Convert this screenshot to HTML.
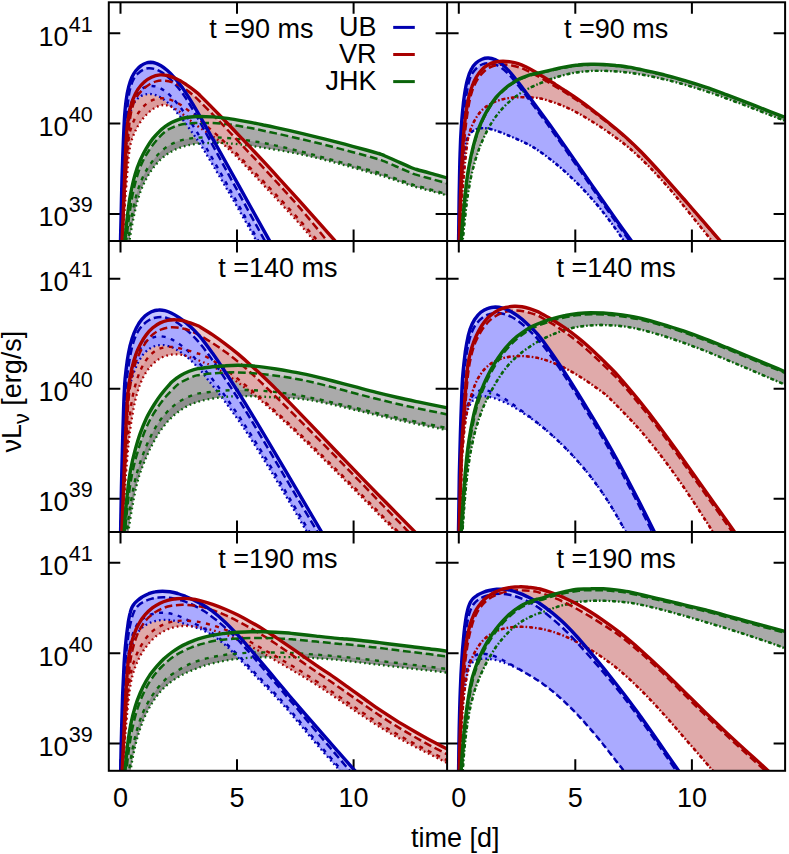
<!DOCTYPE html>
<html><head><meta charset="utf-8"><title>chart</title><style>html,body{margin:0;padding:0;background:#fff}svg{display:block}.tx,.tx text,.tx tspan{font-family:"Liberation Sans",sans-serif}</style></head>
<body>
<svg width="789" height="854" viewBox="0 0 789 854">
<rect width="789" height="854" fill="#fff"/>
<path d="M120.5 2.3v11.5M120.5 241.1v-11.5M237.0 2.3v11.5M237.0 241.1v-11.5M353.6 2.3v11.5M353.6 241.1v-11.5M108.8 213.9h11.5M447.1 213.9h-11.5M108.8 123.6h11.5M447.1 123.6h-11.5M108.8 33.2h11.5M447.1 33.2h-11.5M120.5 241.1v11.5M120.5 531.9v-11.5M237.0 241.1v11.5M237.0 531.9v-11.5M353.6 241.1v11.5M353.6 531.9v-11.5M108.8 498.8h11.5M447.1 498.8h-11.5M108.8 388.8h11.5M447.1 388.8h-11.5M108.8 278.8h11.5M447.1 278.8h-11.5M120.5 531.9v11.5M120.5 770.8v-11.5M237.0 531.9v11.5M237.0 770.8v-11.5M353.6 531.9v11.5M353.6 770.8v-11.5M108.8 743.6h11.5M447.1 743.6h-11.5M108.8 653.2h11.5M447.1 653.2h-11.5M108.8 562.8h11.5M447.1 562.8h-11.5M458.8 2.3v11.5M458.8 241.1v-11.5M575.3 2.3v11.5M575.3 241.1v-11.5M691.9 2.3v11.5M691.9 241.1v-11.5M447.1 213.9h11.5M785.1 213.9h-11.5M447.1 123.6h11.5M785.1 123.6h-11.5M447.1 33.2h11.5M785.1 33.2h-11.5M458.8 241.1v11.5M458.8 531.9v-11.5M575.3 241.1v11.5M575.3 531.9v-11.5M691.9 241.1v11.5M691.9 531.9v-11.5M447.1 498.8h11.5M785.1 498.8h-11.5M447.1 388.8h11.5M785.1 388.8h-11.5M447.1 278.8h11.5M785.1 278.8h-11.5M458.8 531.9v11.5M458.8 770.8v-11.5M575.3 531.9v11.5M575.3 770.8v-11.5M691.9 531.9v11.5M691.9 770.8v-11.5M447.1 743.6h11.5M785.1 743.6h-11.5M447.1 653.2h11.5M785.1 653.2h-11.5M447.1 562.8h11.5M785.1 562.8h-11.5" stroke="#000" stroke-width="2" fill="none"/>
<defs>
<clipPath id="cp00"><rect x="108.8" y="2.3" width="338.3" height="238.8"/></clipPath>
<clipPath id="cp01"><rect x="447.1" y="2.3" width="338.0" height="238.8"/></clipPath>
<clipPath id="cp10"><rect x="108.8" y="241.1" width="338.3" height="290.8"/></clipPath>
<clipPath id="cp11"><rect x="447.1" y="241.1" width="338.0" height="290.8"/></clipPath>
<clipPath id="cp20"><rect x="108.8" y="531.9" width="338.3" height="238.9"/></clipPath>
<clipPath id="cp21"><rect x="447.1" y="531.9" width="338.0" height="238.9"/></clipPath>
</defs>
<g clip-path="url(#cp00)" fill="none" stroke-linecap="butt" stroke-linejoin="round">
<path d="M124.7 245.2C124.8 243.5 124.8 242.4 125.0 240.1C125.4 235.1 126.4 224.0 127.4 216.1C128.3 208.4 129.3 200.5 130.7 193.3C132.0 186.7 133.4 180.2 135.1 174.4C136.6 169.3 138.2 164.9 140.1 160.5C142.0 156.3 144.1 152.1 146.3 148.4C148.3 145.0 150.4 141.8 152.6 138.9C154.6 136.4 156.7 134.0 158.9 131.9C160.9 129.9 163.1 128.0 165.3 126.4C167.3 124.9 169.3 123.7 171.5 122.5C173.9 121.3 176.5 120.2 179.1 119.3C181.5 118.5 183.9 117.9 186.6 117.5C189.7 116.9 193.0 116.7 196.7 116.5C201.4 116.4 207.6 116.6 212.6 116.9C217.1 117.2 221.1 117.6 225.3 118.1C229.6 118.7 233.8 119.4 238.0 120.1C242.2 120.8 246.5 121.6 250.7 122.4C254.9 123.2 259.2 124.1 263.4 125.0C267.6 125.8 271.1 126.5 276.0 127.6C283.1 129.1 293.4 131.4 301.5 133.3C309.0 135.1 315.9 136.8 323.1 138.6C330.3 140.4 337.5 142.3 344.7 144.2C351.8 146.1 360.1 148.3 366.2 150.0C370.7 151.2 375.3 152.5 378.0 153.3C379.4 153.7 380.2 153.9 381.2 154.3C382.3 154.7 383.1 155.1 384.5 155.7C387.2 156.9 392.3 159.2 396.4 161.0C400.9 163.0 407.3 165.9 410.4 167.2C411.8 167.8 412.5 168.1 413.6 168.5C414.7 168.9 415.4 169.1 416.8 169.5C419.8 170.4 426.0 172.1 430.8 173.4C436.0 174.9 441.6 176.4 447.0 177.9L447.0 195.4C441.6 193.9 436.0 192.4 430.8 191.0C426.0 189.7 419.8 188.1 416.8 187.3C415.4 186.9 414.7 186.8 413.6 186.4C412.5 186.1 411.8 185.9 410.4 185.4C407.3 184.4 400.8 182.1 396.3 180.6C392.2 179.2 387.2 177.5 384.5 176.6C383.1 176.1 382.3 175.9 381.3 175.6C380.2 175.3 379.4 175.1 378.0 174.7C375.3 173.9 370.7 172.7 366.2 171.4C360.1 169.7 351.9 167.3 344.7 165.3C337.5 163.3 330.3 161.3 323.1 159.5C315.8 157.7 308.9 156.0 301.4 154.4C293.3 152.8 283.1 151.0 276.1 149.8C271.1 148.9 267.6 148.3 263.4 147.7C259.2 147.0 254.9 146.4 250.7 145.8C246.4 145.2 242.2 144.6 238.0 144.2C233.8 143.7 229.6 143.4 225.3 143.1C221.1 142.9 217.1 142.8 212.7 142.9C207.6 143.0 201.7 143.2 196.8 143.8C192.3 144.4 188.3 145.1 184.2 146.3C180.0 147.6 175.5 149.3 171.7 151.4C168.1 153.4 165.0 155.6 161.8 158.4C158.3 161.6 154.8 165.6 151.9 169.7C148.9 173.9 146.3 178.5 144.0 183.3C141.7 188.1 139.9 193.1 138.3 198.4C136.5 204.0 135.2 209.8 133.9 216.1C132.3 223.5 130.3 235.1 129.6 240.1C129.3 242.4 129.2 243.5 129.0 245.2Z" fill="#c8c8c8" stroke="none"/>
<path d="M126.0 245.2C126.1 243.5 126.2 242.4 126.4 240.1C126.9 235.1 128.1 223.8 129.2 216.1C130.2 208.7 131.3 201.4 132.6 194.6C133.9 188.4 135.2 182.4 136.9 176.9C138.4 171.9 140.0 167.4 142.0 163.0C144.0 158.7 146.1 154.8 148.8 150.7C151.6 146.3 155.7 141.1 158.8 137.6C161.1 135.1 163.1 133.2 165.3 131.5C167.3 129.9 169.3 128.8 171.6 127.8C173.9 126.7 176.5 125.8 179.0 125.1C181.5 124.4 183.9 124.0 186.6 123.7C189.7 123.3 193.0 123.2 196.7 123.0C201.4 122.9 207.7 122.9 212.7 123.1C217.1 123.3 221.1 123.6 225.3 124.0C229.5 124.5 233.8 125.1 238.0 125.8C242.2 126.5 246.5 127.3 250.7 128.1C254.9 128.9 259.2 129.8 263.4 130.7C267.6 131.6 271.1 132.3 276.0 133.4C283.0 134.9 293.4 137.3 301.5 139.2C309.0 140.9 315.9 142.6 323.1 144.4C330.3 146.2 337.4 148.1 344.6 150.0C351.8 151.9 360.1 154.1 366.2 155.7C370.7 157.0 375.3 158.3 378.0 159.1C379.4 159.5 380.2 159.8 381.2 160.1C382.3 160.5 383.1 160.8 384.5 161.4C387.2 162.6 392.2 164.7 396.3 166.5C400.8 168.5 407.3 171.3 410.4 172.6C411.8 173.2 412.5 173.5 413.6 173.9C414.7 174.3 415.4 174.5 416.8 174.9C419.8 175.8 426.0 177.5 430.8 178.8C436.0 180.3 441.6 181.8 447.0 183.3L447.0 195.4C441.6 193.9 436.0 192.4 430.8 191.0C426.0 189.7 419.8 188.1 416.8 187.3C415.4 186.9 414.7 186.8 413.6 186.4C412.5 186.1 411.8 185.9 410.4 185.4C407.3 184.4 400.8 182.1 396.3 180.6C392.2 179.2 387.2 177.5 384.5 176.6C383.1 176.1 382.3 175.9 381.3 175.6C380.2 175.3 379.4 175.1 378.0 174.7C375.3 173.9 370.7 172.7 366.2 171.4C360.1 169.7 351.9 167.3 344.7 165.3C337.5 163.3 330.3 161.3 323.1 159.5C315.8 157.7 308.9 156.0 301.4 154.4C293.3 152.8 283.1 151.0 276.1 149.8C271.1 148.9 267.6 148.3 263.4 147.7C259.2 147.0 254.9 146.4 250.7 145.8C246.4 145.2 242.2 144.6 238.0 144.2C233.8 143.7 229.6 143.4 225.3 143.1C221.1 142.9 217.1 142.8 212.7 142.9C207.6 143.0 201.7 143.2 196.8 143.8C192.3 144.4 188.3 145.1 184.2 146.3C180.0 147.6 175.5 149.3 171.7 151.4C168.1 153.4 165.0 155.6 161.8 158.4C158.3 161.6 154.8 165.6 151.9 169.7C148.9 173.9 146.3 178.5 144.0 183.3C141.7 188.1 139.9 193.1 138.3 198.4C136.5 204.0 135.2 209.8 133.9 216.1C132.3 223.5 130.3 235.1 129.6 240.1C129.3 242.4 129.2 243.5 129.0 245.2Z" fill="#aaaaaa" stroke="none"/>
<path d="M127.9 245.2C128.0 243.5 128.1 242.4 128.3 240.1C128.9 235.1 130.5 223.6 131.8 216.1C133.0 209.4 134.1 203.3 135.8 197.1C137.5 191.1 139.4 185.0 141.8 179.6C143.9 174.6 146.3 170.1 149.2 165.8C152.1 161.3 155.8 156.7 159.2 153.2C162.1 150.4 164.9 148.1 167.9 146.2C170.7 144.4 173.5 143.0 176.6 141.8C179.8 140.6 183.2 139.7 186.6 139.0C190.0 138.4 193.0 138.1 196.7 137.8C201.4 137.4 207.7 137.4 212.7 137.4C217.1 137.4 221.1 137.6 225.3 137.9C229.6 138.2 233.8 138.6 238.0 139.1C242.2 139.6 246.5 140.2 250.7 140.9C254.9 141.5 259.2 142.2 263.4 143.0C267.6 143.8 271.1 144.5 276.0 145.6C283.0 147.1 293.3 149.6 301.5 151.7C309.0 153.5 315.9 155.4 323.1 157.4C330.3 159.3 337.5 161.3 344.6 163.3C351.8 165.3 360.1 167.6 366.2 169.2C370.7 170.5 375.3 171.7 378.0 172.5C379.4 172.9 380.2 173.1 381.2 173.5C382.3 173.8 383.1 174.1 384.5 174.6C387.2 175.5 392.2 177.3 396.4 178.8C400.8 180.3 407.3 182.6 410.4 183.7C411.8 184.2 412.5 184.4 413.6 184.8C414.7 185.1 415.4 185.3 416.8 185.7C419.9 186.6 426.0 188.2 430.8 189.6C436.0 191.0 441.6 192.6 447.0 194.1L447.0 195.4C441.6 193.9 436.0 192.4 430.8 191.0C426.0 189.7 419.8 188.1 416.8 187.3C415.4 186.9 414.7 186.8 413.6 186.4C412.5 186.1 411.8 185.9 410.4 185.4C407.3 184.4 400.8 182.1 396.3 180.6C392.2 179.2 387.2 177.5 384.5 176.6C383.1 176.1 382.3 175.9 381.3 175.6C380.2 175.3 379.4 175.1 378.0 174.7C375.3 173.9 370.7 172.7 366.2 171.4C360.1 169.7 351.9 167.3 344.7 165.3C337.5 163.3 330.3 161.3 323.1 159.5C315.8 157.7 308.9 156.0 301.4 154.4C293.3 152.8 283.1 151.0 276.1 149.8C271.1 148.9 267.6 148.3 263.4 147.7C259.2 147.0 254.9 146.4 250.7 145.8C246.4 145.2 242.2 144.6 238.0 144.2C233.8 143.7 229.6 143.4 225.3 143.1C221.1 142.9 217.1 142.8 212.7 142.9C207.6 143.0 201.7 143.2 196.8 143.8C192.3 144.4 188.3 145.1 184.2 146.3C180.0 147.6 175.5 149.3 171.7 151.4C168.1 153.4 165.0 155.6 161.8 158.4C158.3 161.6 154.8 165.6 151.9 169.7C148.9 173.9 146.3 178.5 144.0 183.3C141.7 188.1 139.9 193.1 138.3 198.4C136.5 204.0 135.2 209.8 133.9 216.1C132.3 223.5 130.3 235.1 129.6 240.1C129.3 242.4 129.2 243.5 129.0 245.2Z" fill="#8e8e8e" stroke="none"/>
<path d="M121.9 245.2C122.3 235.5 122.7 226.4 123.1 216.1C123.6 204.2 124.1 190.8 124.6 178.0C125.1 165.0 125.6 148.8 126.3 138.7C126.7 132.5 126.9 128.5 127.6 123.5C128.2 118.8 128.9 113.9 129.9 109.6C130.8 105.8 131.8 102.3 133.1 98.9C134.4 95.6 135.9 92.4 137.7 89.6C139.5 86.9 141.6 84.3 144.0 82.2C146.2 80.1 148.8 78.4 151.5 77.2C154.1 76.0 157.2 75.2 160.0 74.9C162.5 74.7 164.8 75.0 167.4 75.5C170.2 76.1 173.3 77.4 176.3 78.8C179.6 80.3 183.0 82.5 186.3 84.6C189.7 86.9 193.9 90.0 196.4 92.1C198.1 93.4 198.5 93.9 200.2 95.6C204.4 99.7 214.3 109.7 221.3 117.0C228.6 124.4 235.9 132.2 243.0 139.7C249.9 146.9 256.2 153.6 263.3 161.2C271.1 169.6 280.9 180.5 287.6 187.8C292.4 193.0 294.7 195.5 299.7 201.1C308.2 210.6 326.2 231.0 334.0 239.7C338.0 244.2 340.0 246.6 343.0 250.0L321.0 250.0C318.4 246.6 316.3 243.6 313.2 239.9C309.3 235.1 305.0 230.0 299.3 223.6C290.7 213.9 275.1 197.4 266.1 187.8C260.0 181.2 255.5 176.5 250.6 171.3C246.3 166.7 242.6 162.6 238.3 158.3C233.9 153.9 229.2 149.3 224.6 145.4C220.4 141.8 216.2 138.7 212.0 135.7C208.1 132.8 203.7 130.4 200.1 127.9C197.0 125.7 194.5 123.7 191.7 121.6C189.0 119.4 186.2 117.0 183.7 115.0C181.6 113.3 179.8 111.6 177.6 110.3C175.6 108.9 173.3 107.7 171.1 106.8C169.1 106.0 166.8 105.2 165.0 105.0C163.6 104.9 162.7 105.0 161.2 105.3C159.2 105.8 156.4 107.0 154.0 108.4C151.5 110.0 148.8 112.2 146.6 114.5C144.2 116.8 142.0 119.6 140.1 122.4C138.2 125.2 136.7 128.1 135.3 131.1C133.7 134.4 132.3 138.0 131.3 141.4C130.3 144.8 130.0 146.7 129.3 151.5C127.7 163.7 125.4 198.7 124.2 216.0C123.5 227.6 123.2 235.5 122.7 245.2Z" fill="#ecc8c8" stroke="none"/>
<path d="M122.2 245.2C122.6 235.5 123.0 226.4 123.5 216.0C124.1 204.2 124.6 191.8 125.5 178.0C126.5 161.5 127.8 136.4 129.4 123.6C130.3 116.5 130.9 112.0 132.3 107.3C133.4 103.5 134.7 100.3 136.5 97.3C138.2 94.5 140.3 92.0 142.6 89.7C144.9 87.5 147.6 85.5 150.1 84.0C152.1 82.8 154.1 82.0 156.2 81.4C158.3 80.9 160.4 80.6 162.5 80.5C164.6 80.5 166.6 80.8 168.7 81.3C171.1 81.8 173.8 82.7 176.3 83.9C178.9 85.0 181.3 86.5 183.9 88.3C187.0 90.3 190.8 93.1 193.6 95.5C196.1 97.7 197.6 99.2 200.3 101.9C204.7 106.3 211.4 113.0 217.6 119.4C225.0 127.1 234.2 137.0 241.6 144.8C248.0 151.6 253.3 157.0 259.6 163.6C266.6 171.1 274.7 180.0 281.6 187.5C287.7 194.3 292.6 199.5 299.0 206.8C307.1 216.3 320.0 231.9 326.2 239.8C329.7 244.1 331.4 246.6 334.0 250.0L321.0 250.0C318.4 246.6 316.3 243.6 313.2 239.9C309.3 235.1 305.0 230.0 299.3 223.6C290.7 213.9 275.1 197.4 266.1 187.8C260.0 181.2 255.5 176.5 250.6 171.3C246.3 166.7 242.6 162.6 238.3 158.3C233.9 153.9 229.2 149.3 224.6 145.4C220.4 141.8 216.2 138.7 212.0 135.7C208.1 132.8 203.7 130.4 200.1 127.9C197.0 125.7 194.5 123.7 191.7 121.6C189.0 119.4 186.2 117.0 183.7 115.0C181.6 113.3 179.8 111.6 177.6 110.3C175.6 108.9 173.3 107.7 171.1 106.8C169.1 106.0 166.8 105.2 165.0 105.0C163.6 104.9 162.7 105.0 161.2 105.3C159.2 105.8 156.4 107.0 154.0 108.4C151.5 110.0 148.8 112.2 146.6 114.5C144.2 116.8 142.0 119.6 140.1 122.4C138.2 125.2 136.7 128.1 135.3 131.1C133.7 134.4 132.3 138.0 131.3 141.4C130.3 144.8 130.0 146.7 129.3 151.5C127.7 163.7 125.4 198.7 124.2 216.0C123.5 227.6 123.2 235.5 122.7 245.2Z" fill="#e0aaaa" stroke="none"/>
<path d="M122.4 245.2C122.9 235.5 123.0 227.9 123.7 216.0C124.6 197.5 126.5 159.6 128.0 145.1C128.7 138.7 129.1 135.5 130.1 131.3C131.1 127.6 132.2 124.3 133.7 121.1C135.1 118.0 136.8 115.1 138.8 112.3C140.7 109.7 142.9 106.9 145.2 104.9C147.2 103.1 149.1 101.7 151.4 100.6C153.7 99.5 156.3 98.7 158.8 98.4C161.2 98.1 163.7 98.2 166.1 98.6C168.7 99.1 171.2 100.0 173.7 101.1C176.3 102.2 178.9 103.7 181.4 105.3C184.0 107.0 186.5 109.0 189.0 111.0C191.6 113.0 194.0 115.1 196.6 117.3C199.3 119.6 202.0 122.1 204.7 124.4C207.3 126.6 209.6 128.4 212.5 131.0C216.2 134.2 220.9 138.5 225.1 142.4C229.3 146.4 233.6 150.6 237.9 154.9C242.2 159.3 246.6 164.1 250.9 168.6C255.1 172.9 260.0 177.9 263.4 181.4C265.7 183.8 266.5 184.7 269.2 187.5C275.4 194.0 290.7 210.3 299.3 219.8C305.9 227.2 312.0 234.2 316.7 239.7C320.0 243.7 322.2 246.6 325.0 250.0L321.0 250.0C318.4 246.6 316.3 243.6 313.2 239.9C309.3 235.1 305.0 230.0 299.3 223.6C290.7 213.9 275.1 197.4 266.1 187.8C260.0 181.2 255.5 176.5 250.6 171.3C246.3 166.7 242.6 162.6 238.3 158.3C233.9 153.9 229.2 149.3 224.6 145.4C220.4 141.8 216.2 138.7 212.0 135.7C208.1 132.8 203.7 130.4 200.1 127.9C197.0 125.7 194.5 123.7 191.7 121.6C189.0 119.4 186.2 117.0 183.7 115.0C181.6 113.3 179.8 111.6 177.6 110.3C175.6 108.9 173.3 107.7 171.1 106.8C169.1 106.0 166.8 105.2 165.0 105.0C163.6 104.9 162.7 105.0 161.2 105.3C159.2 105.8 156.4 107.0 154.0 108.4C151.5 110.0 148.8 112.2 146.6 114.5C144.2 116.8 142.0 119.6 140.1 122.4C138.2 125.2 136.7 128.1 135.3 131.1C133.7 134.4 132.3 138.0 131.3 141.4C130.3 144.8 130.0 146.7 129.3 151.5C127.7 163.7 125.4 198.7 124.2 216.0C123.5 227.6 123.2 235.5 122.7 245.2Z" fill="#dc9c9c" stroke="none"/>
<path d="M120.4 245.2C120.6 235.5 120.8 226.4 121.1 216.0C121.3 204.2 121.7 189.1 122.0 178.0C122.3 169.5 122.5 163.8 122.8 155.2C123.3 143.9 123.9 126.0 124.6 115.9C125.1 109.7 125.4 105.7 126.1 100.7C126.7 96.0 127.6 91.0 128.7 86.8C129.6 83.3 130.5 80.2 131.8 77.4C133.0 74.9 134.2 72.7 135.8 70.7C137.4 68.7 139.4 66.8 141.3 65.5C142.8 64.3 144.5 63.5 146.1 63.0C147.5 62.5 149.0 62.3 150.5 62.3C152.1 62.4 153.7 62.6 155.4 63.2C157.2 63.7 159.1 64.7 161.0 65.8C163.1 67.0 165.3 68.7 167.4 70.5C169.6 72.4 171.5 74.4 173.7 76.8C176.2 79.6 178.8 82.9 181.3 86.3C183.9 89.8 186.4 93.7 188.9 97.6C191.5 101.7 193.6 105.2 196.5 110.3C201.0 117.9 206.7 128.3 212.9 139.2C220.9 153.5 231.2 171.9 240.5 188.6C249.9 205.6 263.3 229.6 269.2 240.1C271.7 244.7 272.9 246.7 274.7 250.0L261.3 250.0C259.5 246.7 258.5 244.6 255.9 240.0C250.3 229.8 237.4 207.1 228.0 191.0C218.7 175.0 205.6 152.5 199.8 143.5C197.5 139.8 196.5 138.7 194.6 135.9C192.2 132.5 189.2 128.4 186.6 124.8C184.0 121.4 181.4 118.0 178.7 114.8C176.2 111.7 173.8 108.6 171.1 106.0C168.7 103.5 166.0 101.0 163.4 99.2C161.3 97.7 159.3 96.5 157.2 95.6C155.2 94.8 153.0 94.3 151.1 94.1C149.3 93.9 147.7 94.0 146.0 94.3C144.4 94.7 142.7 95.2 141.1 96.1C139.3 97.2 137.2 98.8 135.7 100.6C134.1 102.5 133.0 104.5 131.9 107.5C130.2 112.1 129.3 118.3 128.2 126.1C126.4 139.0 125.0 162.0 124.1 178.0C123.2 191.6 122.9 204.2 122.5 216.0C122.1 226.4 122.0 235.5 121.7 245.2Z" fill="#c6c6ff" stroke="none"/>
<path d="M121.2 245.2C121.4 235.5 121.7 226.4 122.0 216.0C122.3 204.2 122.6 189.1 123.1 178.0C123.4 169.4 123.6 164.4 124.1 155.2C125.0 140.9 126.6 113.0 128.1 100.8C128.9 94.6 129.5 90.8 130.6 86.9C131.5 83.8 132.5 81.1 133.8 78.8C135.1 76.7 136.5 74.8 138.2 73.3C139.8 71.7 141.8 70.3 143.7 69.5C145.3 68.7 146.9 68.4 148.6 68.3C150.5 68.2 152.7 68.4 154.7 69.0C156.8 69.6 159.0 70.6 161.1 71.8C163.2 73.0 165.1 74.4 167.2 76.3C170.1 78.8 173.6 82.4 176.4 85.6C179.0 88.5 181.0 91.1 183.5 94.7C186.8 99.3 190.0 104.8 193.7 111.1C198.5 119.3 203.8 129.0 209.7 139.9C217.5 153.9 227.2 172.0 236.2 188.4C245.4 205.4 258.7 229.7 264.5 240.1C267.1 244.7 268.2 246.7 270.0 250.0L261.3 250.0C259.5 246.7 258.5 244.6 255.9 240.0C250.3 229.8 237.4 207.1 228.0 191.0C218.7 175.0 205.6 152.5 199.8 143.5C197.5 139.8 196.5 138.7 194.6 135.9C192.2 132.5 189.2 128.4 186.6 124.8C184.0 121.4 181.4 118.0 178.7 114.8C176.2 111.7 173.8 108.6 171.1 106.0C168.7 103.5 166.0 101.0 163.4 99.2C161.3 97.7 159.3 96.5 157.2 95.6C155.2 94.8 153.0 94.3 151.1 94.1C149.3 93.9 147.7 94.0 146.0 94.3C144.4 94.7 142.7 95.2 141.1 96.1C139.3 97.2 137.2 98.8 135.7 100.6C134.1 102.5 133.0 104.5 131.9 107.5C130.2 112.1 129.3 118.3 128.2 126.1C126.4 139.0 125.0 162.0 124.1 178.0C123.2 191.6 122.9 204.2 122.5 216.0C122.1 226.4 122.0 235.5 121.7 245.2Z" fill="#aaaaff" stroke="none"/>
<path d="M121.4 245.2C121.7 235.5 121.9 226.4 122.2 216.0C122.5 204.2 122.8 191.7 123.5 178.0C124.3 162.0 125.3 139.1 126.8 126.1C127.7 118.2 128.3 112.5 129.8 107.3C131.0 103.3 132.2 100.2 134.0 97.3C135.7 94.5 138.0 91.8 140.2 90.0C142.1 88.5 144.1 87.4 146.1 86.7C148.1 86.1 150.3 85.9 152.3 86.0C154.4 86.1 156.4 86.6 158.4 87.3C160.6 88.2 162.7 89.4 164.8 90.9C167.0 92.4 169.0 94.3 171.1 96.5C173.6 99.0 176.2 102.2 178.7 105.3C181.4 108.6 184.0 112.3 186.5 115.9C189.1 119.6 191.6 123.4 194.1 127.4C196.7 131.5 198.5 134.4 201.8 140.1C208.4 151.4 221.3 174.1 230.7 190.9C239.9 207.4 252.3 229.8 257.8 240.0C260.3 244.6 261.4 246.7 263.2 250.0L261.3 250.0C259.5 246.7 258.5 244.6 255.9 240.0C250.3 229.8 237.4 207.1 228.0 191.0C218.7 175.0 205.6 152.5 199.8 143.5C197.5 139.8 196.5 138.7 194.6 135.9C192.2 132.5 189.2 128.4 186.6 124.8C184.0 121.4 181.4 118.0 178.7 114.8C176.2 111.7 173.8 108.6 171.1 106.0C168.7 103.5 166.0 101.0 163.4 99.2C161.3 97.7 159.3 96.5 157.2 95.6C155.2 94.8 153.0 94.3 151.1 94.1C149.3 93.9 147.7 94.0 146.0 94.3C144.4 94.7 142.7 95.2 141.1 96.1C139.3 97.2 137.2 98.8 135.7 100.6C134.1 102.5 133.0 104.5 131.9 107.5C130.2 112.1 129.3 118.3 128.2 126.1C126.4 139.0 125.0 162.0 124.1 178.0C123.2 191.6 122.9 204.2 122.5 216.0C122.1 226.4 122.0 235.5 121.7 245.2Z" fill="#9c9cff" stroke="none"/>
<path d="M121.7 245.2C122.0 235.5 122.1 226.4 122.5 216.0C122.9 204.2 123.2 191.6 124.1 178.0C125.0 162.0 126.4 139.0 128.2 126.1C129.3 118.3 130.2 112.1 131.9 107.5C133.0 104.5 134.1 102.5 135.7 100.6C137.2 98.8 139.3 97.2 141.1 96.1C142.7 95.2 144.4 94.7 146.0 94.3C147.7 94.0 149.3 93.9 151.1 94.1C153.0 94.3 155.2 94.8 157.2 95.6C159.3 96.5 161.3 97.7 163.4 99.2C166.0 101.0 168.7 103.5 171.1 106.0C173.8 108.6 176.2 111.7 178.7 114.8C181.4 118.0 184.0 121.4 186.6 124.8C189.2 128.4 192.2 132.5 194.6 135.9C196.5 138.7 197.5 139.8 199.8 143.5C205.6 152.5 218.7 175.0 228.0 191.0C237.4 207.1 250.3 229.8 255.9 240.0C258.5 244.6 259.5 246.7 261.3 250.0" stroke="#0000b0" stroke-width="2.3" stroke-dasharray="1.7 3.05" stroke-dashoffset="-1.15"/>
<path d="M122.7 245.2C123.2 235.5 123.5 227.6 124.2 216.0C125.4 198.7 127.7 163.7 129.3 151.5C130.0 146.7 130.3 144.8 131.3 141.4C132.3 138.0 133.7 134.4 135.3 131.1C136.7 128.1 138.2 125.2 140.1 122.4C142.0 119.6 144.2 116.8 146.6 114.5C148.8 112.2 151.5 110.0 154.0 108.4C156.4 107.0 159.2 105.8 161.2 105.3C162.7 105.0 163.6 104.9 165.0 105.0C166.8 105.2 169.1 106.0 171.1 106.8C173.3 107.7 175.6 108.9 177.6 110.3C179.8 111.6 181.6 113.3 183.7 115.0C186.2 117.0 189.0 119.4 191.7 121.6C194.5 123.7 197.0 125.7 200.1 127.9C203.7 130.4 208.1 132.8 212.0 135.7C216.2 138.7 220.4 141.8 224.6 145.4C229.2 149.3 233.9 153.9 238.3 158.3C242.6 162.6 246.3 166.7 250.6 171.3C255.5 176.5 260.0 181.2 266.1 187.8C275.1 197.4 290.7 213.9 299.3 223.6C305.0 230.0 309.3 235.1 313.2 239.9C316.3 243.6 318.4 246.6 321.0 250.0" stroke="#a80000" stroke-width="2.3" stroke-dasharray="1.7 3.05" stroke-dashoffset="-1.15"/>
<path d="M129.0 245.2C129.2 243.5 129.3 242.4 129.6 240.1C130.3 235.1 132.3 223.5 133.9 216.1C135.2 209.8 136.5 204.0 138.3 198.4C139.9 193.1 141.7 188.1 144.0 183.3C146.3 178.5 148.9 173.9 151.9 169.7C154.8 165.6 158.3 161.6 161.8 158.4C165.0 155.6 168.1 153.4 171.7 151.4C175.5 149.3 180.0 147.6 184.2 146.3C188.3 145.1 192.3 144.4 196.8 143.8C201.7 143.2 207.6 143.0 212.7 142.9C217.1 142.8 221.1 142.9 225.3 143.1C229.6 143.4 233.8 143.7 238.0 144.2C242.2 144.6 246.4 145.2 250.7 145.8C254.9 146.4 259.2 147.0 263.4 147.7C267.6 148.3 271.1 148.9 276.1 149.8C283.1 151.0 293.3 152.8 301.4 154.4C308.9 156.0 315.8 157.7 323.1 159.5C330.3 161.3 337.5 163.3 344.7 165.3C351.9 167.3 360.1 169.7 366.2 171.4C370.7 172.7 375.3 173.9 378.0 174.7C379.4 175.1 380.2 175.3 381.3 175.6C382.3 175.9 383.1 176.1 384.5 176.6C387.2 177.5 392.2 179.2 396.3 180.6C400.8 182.1 407.3 184.4 410.4 185.4C411.8 185.9 412.5 186.1 413.6 186.4C414.7 186.8 415.4 186.9 416.8 187.3C419.8 188.1 426.0 189.7 430.8 191.0C436.0 192.4 441.6 193.9 447.0 195.4" stroke="#0a640a" stroke-width="2.3" stroke-dasharray="1.7 3.05" stroke-dashoffset="-1.15"/>
<path d="M121.4 245.2C121.7 235.5 121.9 226.4 122.2 216.0C122.5 204.2 122.8 191.7 123.5 178.0C124.3 162.0 125.3 139.1 126.8 126.1C127.7 118.2 128.3 112.5 129.8 107.3C131.0 103.3 132.2 100.2 134.0 97.3C135.7 94.5 138.0 91.8 140.2 90.0C142.1 88.5 144.1 87.4 146.1 86.7C148.1 86.1 150.3 85.9 152.3 86.0C154.4 86.1 156.4 86.6 158.4 87.3C160.6 88.2 162.7 89.4 164.8 90.9C167.0 92.4 169.0 94.3 171.1 96.5C173.6 99.0 176.2 102.2 178.7 105.3C181.4 108.6 184.0 112.3 186.5 115.9C189.1 119.6 191.6 123.4 194.1 127.4C196.7 131.5 198.5 134.4 201.8 140.1C208.4 151.4 221.3 174.1 230.7 190.9C239.9 207.4 252.3 229.8 257.8 240.0C260.3 244.6 261.4 246.7 263.2 250.0" stroke="#0000b0" stroke-width="2.4" stroke-dasharray="4 5.5"/>
<path d="M122.4 245.2C122.9 235.5 123.0 227.9 123.7 216.0C124.6 197.5 126.5 159.6 128.0 145.1C128.7 138.7 129.1 135.5 130.1 131.3C131.1 127.6 132.2 124.3 133.7 121.1C135.1 118.0 136.8 115.1 138.8 112.3C140.7 109.7 142.9 106.9 145.2 104.9C147.2 103.1 149.1 101.7 151.4 100.6C153.7 99.5 156.3 98.7 158.8 98.4C161.2 98.1 163.7 98.2 166.1 98.6C168.7 99.1 171.2 100.0 173.7 101.1C176.3 102.2 178.9 103.7 181.4 105.3C184.0 107.0 186.5 109.0 189.0 111.0C191.6 113.0 194.0 115.1 196.6 117.3C199.3 119.6 202.0 122.1 204.7 124.4C207.3 126.6 209.6 128.4 212.5 131.0C216.2 134.2 220.9 138.5 225.1 142.4C229.3 146.4 233.6 150.6 237.9 154.9C242.2 159.3 246.6 164.1 250.9 168.6C255.1 172.9 260.0 177.9 263.4 181.4C265.7 183.8 266.5 184.7 269.2 187.5C275.4 194.0 290.7 210.3 299.3 219.8C305.9 227.2 312.0 234.2 316.7 239.7C320.0 243.7 322.2 246.6 325.0 250.0" stroke="#a80000" stroke-width="2.4" stroke-dasharray="4 5.5"/>
<path d="M127.9 245.2C128.0 243.5 128.1 242.4 128.3 240.1C128.9 235.1 130.5 223.6 131.8 216.1C133.0 209.4 134.1 203.3 135.8 197.1C137.5 191.1 139.4 185.0 141.8 179.6C143.9 174.6 146.3 170.1 149.2 165.8C152.1 161.3 155.8 156.7 159.2 153.2C162.1 150.4 164.9 148.1 167.9 146.2C170.7 144.4 173.5 143.0 176.6 141.8C179.8 140.6 183.2 139.7 186.6 139.0C190.0 138.4 193.0 138.1 196.7 137.8C201.4 137.4 207.7 137.4 212.7 137.4C217.1 137.4 221.1 137.6 225.3 137.9C229.6 138.2 233.8 138.6 238.0 139.1C242.2 139.6 246.5 140.2 250.7 140.9C254.9 141.5 259.2 142.2 263.4 143.0C267.6 143.8 271.1 144.5 276.0 145.6C283.0 147.1 293.3 149.6 301.5 151.7C309.0 153.5 315.9 155.4 323.1 157.4C330.3 159.3 337.5 161.3 344.6 163.3C351.8 165.3 360.1 167.6 366.2 169.2C370.7 170.5 375.3 171.7 378.0 172.5C379.4 172.9 380.2 173.1 381.2 173.5C382.3 173.8 383.1 174.1 384.5 174.6C387.2 175.5 392.2 177.3 396.4 178.8C400.8 180.3 407.3 182.6 410.4 183.7C411.8 184.2 412.5 184.4 413.6 184.8C414.7 185.1 415.4 185.3 416.8 185.7C419.9 186.6 426.0 188.2 430.8 189.6C436.0 191.0 441.6 192.6 447.0 194.1" stroke="#0a640a" stroke-width="2.4" stroke-dasharray="4 5.5"/>
<path d="M121.2 245.2C121.4 235.5 121.7 226.4 122.0 216.0C122.3 204.2 122.6 189.1 123.1 178.0C123.4 169.4 123.6 164.4 124.1 155.2C125.0 140.9 126.6 113.0 128.1 100.8C128.9 94.6 129.5 90.8 130.6 86.9C131.5 83.8 132.5 81.1 133.8 78.8C135.1 76.7 136.5 74.8 138.2 73.3C139.8 71.7 141.8 70.3 143.7 69.5C145.3 68.7 146.9 68.4 148.6 68.3C150.5 68.2 152.7 68.4 154.7 69.0C156.8 69.6 159.0 70.6 161.1 71.8C163.2 73.0 165.1 74.4 167.2 76.3C170.1 78.8 173.6 82.4 176.4 85.6C179.0 88.5 181.0 91.1 183.5 94.7C186.8 99.3 190.0 104.8 193.7 111.1C198.5 119.3 203.8 129.0 209.7 139.9C217.5 153.9 227.2 172.0 236.2 188.4C245.4 205.4 258.7 229.7 264.5 240.1C267.1 244.7 268.2 246.7 270.0 250.0" stroke="#0000b0" stroke-width="2.5" stroke-dasharray="7.8 3.7"/>
<path d="M122.2 245.2C122.6 235.5 123.0 226.4 123.5 216.0C124.1 204.2 124.6 191.8 125.5 178.0C126.5 161.5 127.8 136.4 129.4 123.6C130.3 116.5 130.9 112.0 132.3 107.3C133.4 103.5 134.7 100.3 136.5 97.3C138.2 94.5 140.3 92.0 142.6 89.7C144.9 87.5 147.6 85.5 150.1 84.0C152.1 82.8 154.1 82.0 156.2 81.4C158.3 80.9 160.4 80.6 162.5 80.5C164.6 80.5 166.6 80.8 168.7 81.3C171.1 81.8 173.8 82.7 176.3 83.9C178.9 85.0 181.3 86.5 183.9 88.3C187.0 90.3 190.8 93.1 193.6 95.5C196.1 97.7 197.6 99.2 200.3 101.9C204.7 106.3 211.4 113.0 217.6 119.4C225.0 127.1 234.2 137.0 241.6 144.8C248.0 151.6 253.3 157.0 259.6 163.6C266.6 171.1 274.7 180.0 281.6 187.5C287.7 194.3 292.6 199.5 299.0 206.8C307.1 216.3 320.0 231.9 326.2 239.8C329.7 244.1 331.4 246.6 334.0 250.0" stroke="#a80000" stroke-width="2.5" stroke-dasharray="7.8 3.7"/>
<path d="M126.0 245.2C126.1 243.5 126.2 242.4 126.4 240.1C126.9 235.1 128.1 223.8 129.2 216.1C130.2 208.7 131.3 201.4 132.6 194.6C133.9 188.4 135.2 182.4 136.9 176.9C138.4 171.9 140.0 167.4 142.0 163.0C144.0 158.7 146.1 154.8 148.8 150.7C151.6 146.3 155.7 141.1 158.8 137.6C161.1 135.1 163.1 133.2 165.3 131.5C167.3 129.9 169.3 128.8 171.6 127.8C173.9 126.7 176.5 125.8 179.0 125.1C181.5 124.4 183.9 124.0 186.6 123.7C189.7 123.3 193.0 123.2 196.7 123.0C201.4 122.9 207.7 122.9 212.7 123.1C217.1 123.3 221.1 123.6 225.3 124.0C229.5 124.5 233.8 125.1 238.0 125.8C242.2 126.5 246.5 127.3 250.7 128.1C254.9 128.9 259.2 129.8 263.4 130.7C267.6 131.6 271.1 132.3 276.0 133.4C283.0 134.9 293.4 137.3 301.5 139.2C309.0 140.9 315.9 142.6 323.1 144.4C330.3 146.2 337.4 148.1 344.6 150.0C351.8 151.9 360.1 154.1 366.2 155.7C370.7 157.0 375.3 158.3 378.0 159.1C379.4 159.5 380.2 159.8 381.2 160.1C382.3 160.5 383.1 160.8 384.5 161.4C387.2 162.6 392.2 164.7 396.3 166.5C400.8 168.5 407.3 171.3 410.4 172.6C411.8 173.2 412.5 173.5 413.6 173.9C414.7 174.3 415.4 174.5 416.8 174.9C419.8 175.8 426.0 177.5 430.8 178.8C436.0 180.3 441.6 181.8 447.0 183.3" stroke="#0a640a" stroke-width="2.5" stroke-dasharray="7.8 3.7"/>
<path d="M120.4 245.2C120.6 235.5 120.8 226.4 121.1 216.0C121.3 204.2 121.7 189.1 122.0 178.0C122.3 169.5 122.5 163.8 122.8 155.2C123.3 143.9 123.9 126.0 124.6 115.9C125.1 109.7 125.4 105.7 126.1 100.7C126.7 96.0 127.6 91.0 128.7 86.8C129.6 83.3 130.5 80.2 131.8 77.4C133.0 74.9 134.2 72.7 135.8 70.7C137.4 68.7 139.4 66.8 141.3 65.5C142.8 64.3 144.5 63.5 146.1 63.0C147.5 62.5 149.0 62.3 150.5 62.3C152.1 62.4 153.7 62.6 155.4 63.2C157.2 63.7 159.1 64.7 161.0 65.8C163.1 67.0 165.3 68.7 167.4 70.5C169.6 72.4 171.5 74.4 173.7 76.8C176.2 79.6 178.8 82.9 181.3 86.3C183.9 89.8 186.4 93.7 188.9 97.6C191.5 101.7 193.6 105.2 196.5 110.3C201.0 117.9 206.7 128.3 212.9 139.2C220.9 153.5 231.2 171.9 240.5 188.6C249.9 205.6 263.3 229.6 269.2 240.1C271.7 244.7 272.9 246.7 274.7 250.0" stroke="#0000b0" stroke-width="3.4"/>
<path d="M121.9 245.2C122.3 235.5 122.7 226.4 123.1 216.1C123.6 204.2 124.1 190.8 124.6 178.0C125.1 165.0 125.6 148.8 126.3 138.7C126.7 132.5 126.9 128.5 127.6 123.5C128.2 118.8 128.9 113.9 129.9 109.6C130.8 105.8 131.8 102.3 133.1 98.9C134.4 95.6 135.9 92.4 137.7 89.6C139.5 86.9 141.6 84.3 144.0 82.2C146.2 80.1 148.8 78.4 151.5 77.2C154.1 76.0 157.2 75.2 160.0 74.9C162.5 74.7 164.8 75.0 167.4 75.5C170.2 76.1 173.3 77.4 176.3 78.8C179.6 80.3 183.0 82.5 186.3 84.6C189.7 86.9 193.9 90.0 196.4 92.1C198.1 93.4 198.5 93.9 200.2 95.6C204.4 99.7 214.3 109.7 221.3 117.0C228.6 124.4 235.9 132.2 243.0 139.7C249.9 146.9 256.2 153.6 263.3 161.2C271.1 169.6 280.9 180.5 287.6 187.8C292.4 193.0 294.7 195.5 299.7 201.1C308.2 210.6 326.2 231.0 334.0 239.7C338.0 244.2 340.0 246.6 343.0 250.0" stroke="#a80000" stroke-width="3.4"/>
<path d="M124.7 245.2C124.8 243.5 124.8 242.4 125.0 240.1C125.4 235.1 126.4 224.0 127.4 216.1C128.3 208.4 129.3 200.5 130.7 193.3C132.0 186.7 133.4 180.2 135.1 174.4C136.6 169.3 138.2 164.9 140.1 160.5C142.0 156.3 144.1 152.1 146.3 148.4C148.3 145.0 150.4 141.8 152.6 138.9C154.6 136.4 156.7 134.0 158.9 131.9C160.9 129.9 163.1 128.0 165.3 126.4C167.3 124.9 169.3 123.7 171.5 122.5C173.9 121.3 176.5 120.2 179.1 119.3C181.5 118.5 183.9 117.9 186.6 117.5C189.7 116.9 193.0 116.7 196.7 116.5C201.4 116.4 207.6 116.6 212.6 116.9C217.1 117.2 221.1 117.6 225.3 118.1C229.6 118.7 233.8 119.4 238.0 120.1C242.2 120.8 246.5 121.6 250.7 122.4C254.9 123.2 259.2 124.1 263.4 125.0C267.6 125.8 271.1 126.5 276.0 127.6C283.1 129.1 293.4 131.4 301.5 133.3C309.0 135.1 315.9 136.8 323.1 138.6C330.3 140.4 337.5 142.3 344.7 144.2C351.8 146.1 360.1 148.3 366.2 150.0C370.7 151.2 375.3 152.5 378.0 153.3C379.4 153.7 380.2 153.9 381.2 154.3C382.3 154.7 383.1 155.1 384.5 155.7C387.2 156.9 392.3 159.2 396.4 161.0C400.9 163.0 407.3 165.9 410.4 167.2C411.8 167.8 412.5 168.1 413.6 168.5C414.7 168.9 415.4 169.1 416.8 169.5C419.8 170.4 426.0 172.1 430.8 173.4C436.0 174.9 441.6 176.4 447.0 177.9" stroke="#0a640a" stroke-width="3.4"/>
</g>
<g clip-path="url(#cp01)" fill="none" stroke-linecap="butt" stroke-linejoin="round">
<path d="M461.0 245.2C461.1 243.5 461.1 242.4 461.3 240.1C461.6 235.1 462.4 224.0 463.1 216.0C463.8 208.3 464.4 200.6 465.3 193.3C466.0 186.3 466.8 179.4 467.8 173.0C468.8 167.2 469.7 162.2 470.9 156.5C472.2 150.4 474.0 143.0 475.6 137.7C476.8 133.8 477.7 131.0 479.1 127.5C480.6 123.8 482.3 119.9 484.2 116.1C486.2 112.3 488.4 108.3 490.7 104.8C492.8 101.7 494.8 98.8 497.1 96.2C499.4 93.6 501.9 91.2 504.4 89.0C506.9 86.9 509.5 85.0 512.0 83.3C514.5 81.6 517.0 80.1 519.6 78.8C522.1 77.6 524.7 76.7 527.2 75.8C529.7 74.9 532.5 74.2 534.7 73.6C536.6 73.2 537.8 73.1 539.9 72.6C543.2 71.9 548.4 70.5 552.7 69.6C556.9 68.6 561.2 67.7 565.5 66.9C569.7 66.1 573.8 65.4 578.0 65.0C582.2 64.5 586.5 64.4 590.7 64.3C594.9 64.2 599.1 64.3 603.4 64.5C607.6 64.7 611.8 65.0 616.0 65.5C620.3 65.9 624.5 66.5 628.7 67.1C632.9 67.8 636.6 68.6 641.4 69.6C647.6 70.9 655.7 72.8 662.8 74.5C669.9 76.4 677.1 78.3 684.2 80.4C691.4 82.5 698.5 84.7 705.6 87.1C712.7 89.5 719.9 92.2 727.0 94.8C734.2 97.5 741.4 100.3 748.6 103.1C755.7 105.9 763.7 109.1 770.0 111.6C775.1 113.5 779.9 115.3 783.8 116.8C786.7 117.9 788.9 118.7 791.4 119.7L791.4 123.3C788.9 122.4 786.7 121.5 783.9 120.4C779.9 118.9 775.1 117.0 770.0 115.0C763.6 112.5 755.7 109.4 748.6 106.7C741.4 104.0 734.2 101.2 727.0 98.6C719.9 96.0 712.8 93.5 705.6 91.1C698.5 88.8 691.4 86.6 684.2 84.5C677.1 82.5 669.9 80.6 662.7 79.0C655.6 77.3 647.6 75.6 641.4 74.5C636.6 73.7 632.9 73.2 628.7 72.6C624.5 72.1 620.3 71.7 616.0 71.4C611.8 71.1 607.6 70.9 603.4 70.9C599.1 70.8 594.9 70.8 590.7 71.0C586.5 71.3 582.2 71.6 578.0 72.2C573.8 72.8 569.6 73.6 565.5 74.7C561.2 75.7 557.1 77.0 552.9 78.5C548.5 79.9 542.6 82.3 539.9 83.4C538.7 83.9 538.4 83.9 537.3 84.4C535.2 85.3 531.3 87.1 528.6 88.5C525.9 89.9 523.4 91.2 520.9 92.8C518.3 94.5 515.7 96.4 513.3 98.4C510.7 100.5 508.2 102.6 505.9 104.9C503.5 107.3 501.3 109.7 499.2 112.2C497.1 114.8 495.1 117.4 493.3 120.1C491.4 122.9 489.8 125.7 488.1 128.9C486.3 132.3 484.3 136.6 482.7 140.1C481.3 143.2 480.3 145.7 479.1 148.9C477.7 152.8 476.2 157.2 474.9 161.7C473.5 166.5 472.2 171.5 471.1 176.8C469.8 182.8 468.7 189.4 467.7 195.8C466.7 202.4 466.0 209.0 465.2 216.1C464.3 223.7 463.2 235.1 462.8 240.1C462.6 242.4 462.6 243.5 462.5 245.2Z" fill="#c8c8c8" stroke="none"/>
<path d="M461.3 245.7C461.4 244.0 461.4 242.9 461.6 240.6C461.9 235.6 462.7 224.5 463.4 216.5C464.1 208.8 464.7 201.1 465.6 193.8C466.3 186.8 467.1 179.9 468.1 173.5C469.1 167.7 470.0 162.7 471.2 157.0C472.5 150.9 474.3 143.5 475.9 138.2C477.1 134.3 478.0 131.5 479.4 128.0C480.9 124.3 482.6 120.4 484.5 116.6C486.5 112.8 488.7 108.8 491.0 105.3C493.1 102.2 495.1 99.3 497.4 96.7C499.7 94.1 502.2 91.7 504.7 89.5C507.2 87.4 509.8 85.5 512.3 83.8C514.8 82.1 517.3 80.6 519.9 79.3C522.4 78.1 525.0 77.2 527.5 76.3C530.0 75.4 532.8 74.7 535.0 74.1C536.9 73.7 538.1 73.6 540.2 73.1C543.5 72.4 548.7 71.0 553.0 70.1C557.2 69.1 561.5 68.2 565.8 67.4C570.0 66.6 574.1 65.9 578.3 65.5C582.5 65.0 586.8 64.9 591.0 64.8C595.2 64.7 599.4 64.8 603.7 65.0C607.9 65.2 612.1 65.5 616.3 66.0C620.6 66.4 624.8 67.0 629.0 67.6C633.2 68.3 636.9 69.1 641.7 70.1C647.9 71.4 656.0 73.3 663.1 75.0C670.2 76.9 677.4 78.8 684.5 80.9C691.7 83.0 698.8 85.2 705.9 87.6C713.0 90.0 720.2 92.7 727.3 95.3C734.5 98.0 741.7 100.8 748.9 103.6C756.0 106.4 764.0 109.6 770.3 112.1C775.4 114.0 780.2 115.8 784.1 117.3C787.0 118.4 789.2 119.2 791.7 120.2L791.4 123.3C788.9 122.4 786.7 121.5 783.9 120.4C779.9 118.9 775.1 117.0 770.0 115.0C763.6 112.5 755.7 109.4 748.6 106.7C741.4 104.0 734.2 101.2 727.0 98.6C719.9 96.0 712.8 93.5 705.6 91.1C698.5 88.8 691.4 86.6 684.2 84.5C677.1 82.5 669.9 80.6 662.7 79.0C655.6 77.3 647.6 75.6 641.4 74.5C636.6 73.7 632.9 73.2 628.7 72.6C624.5 72.1 620.3 71.7 616.0 71.4C611.8 71.1 607.6 70.9 603.4 70.9C599.1 70.8 594.9 70.8 590.7 71.0C586.5 71.3 582.2 71.6 578.0 72.2C573.8 72.8 569.6 73.6 565.5 74.7C561.2 75.7 557.1 77.0 552.9 78.5C548.5 79.9 542.6 82.3 539.9 83.4C538.7 83.9 538.4 83.9 537.3 84.4C535.2 85.3 531.3 87.1 528.6 88.5C525.9 89.9 523.4 91.2 520.9 92.8C518.3 94.5 515.7 96.4 513.3 98.4C510.7 100.5 508.2 102.6 505.9 104.9C503.5 107.3 501.3 109.7 499.2 112.2C497.1 114.8 495.1 117.4 493.3 120.1C491.4 122.9 489.8 125.7 488.1 128.9C486.3 132.3 484.3 136.6 482.7 140.1C481.3 143.2 480.3 145.7 479.1 148.9C477.7 152.8 476.2 157.2 474.9 161.7C473.5 166.5 472.2 171.5 471.1 176.8C469.8 182.8 468.7 189.4 467.7 195.8C466.7 202.4 466.0 209.0 465.2 216.1C464.3 223.7 463.2 235.1 462.8 240.1C462.6 242.4 462.6 243.5 462.5 245.2Z" fill="#aaaaaa" stroke="none"/>
<path d="M459.2 245.2C459.4 235.5 459.6 226.4 459.9 216.0C460.2 204.2 460.7 190.3 461.2 178.0C461.7 166.7 462.3 153.7 462.9 145.1C463.2 139.5 463.4 136.1 463.9 131.3C464.4 125.7 465.1 119.2 465.9 113.5C466.7 108.3 467.5 103.0 468.5 98.4C469.5 94.3 470.4 90.6 471.8 87.0C473.0 83.5 474.5 80.0 476.3 77.0C478.0 74.3 479.9 71.7 481.9 69.6C483.8 67.6 485.9 66.0 488.2 64.8C490.4 63.5 493.0 62.6 495.5 62.0C497.9 61.4 500.5 61.2 503.0 61.2C505.5 61.2 508.1 61.5 510.6 61.9C513.1 62.3 515.7 62.9 518.2 63.7C520.7 64.5 523.2 65.6 525.8 66.8C528.6 68.1 531.1 69.5 534.5 71.5C539.5 74.4 547.3 79.4 552.8 82.8C557.4 85.7 561.2 88.0 565.3 90.8C569.5 93.5 573.6 96.3 577.8 99.2C582.1 102.2 586.4 105.3 590.6 108.5C594.9 111.8 599.2 115.2 603.4 118.5C607.6 121.9 611.8 125.3 616.0 128.8C620.2 132.3 624.4 135.9 628.6 139.7C632.8 143.6 636.4 147.0 641.0 151.8C647.3 158.2 655.5 167.2 662.7 175.1C669.9 183.1 677.2 191.5 684.3 199.5C691.2 207.4 698.4 215.7 704.6 222.9C710.0 229.2 715.4 235.4 719.7 240.3C722.9 244.0 725.2 246.8 728.0 250.0L720.2 250.8C717.5 247.6 715.2 244.9 712.2 241.1C707.9 236.0 701.8 228.4 697.3 222.8C693.4 218.0 690.6 214.5 686.6 209.5C681.3 203.1 674.8 194.8 668.4 187.5C661.7 179.9 654.2 171.7 647.2 164.7C640.9 158.4 634.2 152.2 628.5 147.4C624.0 143.6 620.2 140.8 616.0 137.7C611.8 134.6 607.6 131.6 603.3 128.8C599.1 125.9 594.9 123.2 590.6 120.6C586.4 118.0 582.2 115.4 577.9 113.1C573.7 110.8 569.5 108.7 565.2 106.9C561.0 105.0 556.8 103.4 552.5 102.0C548.4 100.6 542.2 98.8 540.0 98.3C539.3 98.1 539.2 98.1 538.5 98.0C536.8 97.8 532.7 97.6 529.6 97.4C526.4 97.3 522.9 97.1 519.5 97.2C516.1 97.3 512.7 97.5 509.4 98.0C506.0 98.5 502.6 99.1 499.4 100.1C496.3 101.1 493.3 102.3 490.6 103.8C487.9 105.2 485.5 106.9 483.2 109.0C480.9 111.1 478.8 113.6 477.0 116.4C475.0 119.4 473.2 123.0 471.8 126.3C470.4 129.6 469.4 133.1 468.5 136.4C467.8 139.3 467.6 141.2 467.0 145.1C466.0 152.5 464.6 166.7 463.6 178.1C462.5 190.3 461.6 204.2 460.9 216.1C460.3 226.4 460.0 235.5 459.6 245.2Z" fill="#ecc8c8" stroke="none"/>
<path d="M459.4 245.2C459.7 235.5 460.0 226.4 460.4 216.0C460.8 204.2 461.4 190.3 462.0 178.0C462.6 166.7 463.4 153.7 464.0 145.1C464.4 139.5 464.6 136.3 465.2 131.3C465.8 125.2 466.8 117.1 467.8 111.0C468.6 105.9 469.4 101.3 470.4 97.1C471.4 93.4 472.3 90.2 473.6 87.0C474.9 84.0 476.4 81.0 478.2 78.3C480.0 75.7 482.3 73.0 484.5 71.0C486.4 69.3 488.4 68.0 490.5 67.0C492.5 66.1 494.5 65.5 496.7 65.1C499.1 64.6 501.8 64.5 504.3 64.5C506.8 64.6 509.3 64.9 511.8 65.4C514.4 65.9 516.9 66.6 519.4 67.4C522.0 68.3 524.5 69.4 527.0 70.6C529.6 71.7 531.6 72.8 534.6 74.4C539.2 76.9 546.5 81.2 551.7 84.3C556.3 87.0 560.2 89.3 564.4 91.9C568.7 94.6 572.9 97.3 577.1 100.2C581.4 103.1 585.7 106.2 590.0 109.4C594.3 112.5 598.6 115.9 602.9 119.2C607.2 122.5 611.4 125.8 615.6 129.3C619.9 132.8 624.1 136.3 628.3 140.1C632.5 143.9 636.2 147.3 640.8 152.0C647.2 158.4 655.3 167.4 662.5 175.3C669.8 183.3 677.1 191.7 684.2 199.7C691.1 207.6 698.2 215.9 704.5 223.1C709.9 229.4 715.2 235.6 719.5 240.5C722.7 244.2 725.1 247.0 727.9 250.2L720.2 250.8C717.5 247.6 715.2 244.9 712.2 241.1C707.9 236.0 701.8 228.4 697.3 222.8C693.4 218.0 690.6 214.5 686.6 209.5C681.3 203.1 674.8 194.8 668.4 187.5C661.7 179.9 654.2 171.7 647.2 164.7C640.9 158.4 634.2 152.2 628.5 147.4C624.0 143.6 620.2 140.8 616.0 137.7C611.8 134.6 607.6 131.6 603.3 128.8C599.1 125.9 594.9 123.2 590.6 120.6C586.4 118.0 582.2 115.4 577.9 113.1C573.7 110.8 569.5 108.7 565.2 106.9C561.0 105.0 556.8 103.4 552.5 102.0C548.4 100.6 542.2 98.8 540.0 98.3C539.3 98.1 539.2 98.1 538.5 98.0C536.8 97.8 532.7 97.6 529.6 97.4C526.4 97.3 522.9 97.1 519.5 97.2C516.1 97.3 512.7 97.5 509.4 98.0C506.0 98.5 502.6 99.1 499.4 100.1C496.3 101.1 493.3 102.3 490.6 103.8C487.9 105.2 485.5 106.9 483.2 109.0C480.9 111.1 478.8 113.6 477.0 116.4C475.0 119.4 473.2 123.0 471.8 126.3C470.4 129.6 469.4 133.1 468.5 136.4C467.8 139.3 467.6 141.2 467.0 145.1C466.0 152.5 464.6 166.7 463.6 178.1C462.5 190.3 461.6 204.2 460.9 216.1C460.3 226.4 460.0 235.5 459.6 245.2Z" fill="#e0aaaa" stroke="none"/>
<path d="M458.5 245.2C458.7 235.5 458.7 226.4 458.9 216.0C459.0 204.2 459.2 190.0 459.5 178.0C459.7 167.3 459.9 156.6 460.3 147.6C460.5 140.6 460.8 134.9 461.2 128.7C461.6 122.7 462.0 116.9 462.6 111.0C463.1 105.1 463.8 98.8 464.7 93.2C465.5 88.3 466.3 83.6 467.5 79.4C468.5 75.8 469.7 72.2 471.3 69.4C472.5 67.0 473.9 65.0 475.7 63.3C477.4 61.6 479.7 60.1 481.9 59.2C483.9 58.3 486.2 57.9 488.4 58.0C490.6 58.1 492.9 58.7 495.1 59.6C497.3 60.6 499.3 62.0 501.5 63.7C504.0 65.8 506.6 68.5 509.1 71.2C511.8 74.1 514.3 77.4 516.9 80.6C519.5 83.9 521.9 87.0 524.6 90.7C527.8 94.9 531.1 99.3 534.9 104.5C539.9 111.3 546.1 119.6 552.1 127.9C558.8 137.2 566.1 147.9 573.1 158.0C580.3 168.3 587.5 178.8 594.8 189.2C602.0 199.6 609.9 211.0 616.5 220.3C621.8 227.8 627.2 235.2 631.2 240.6C633.8 244.2 635.5 246.6 637.7 249.6L633.0 255.0C629.9 250.2 626.9 245.4 623.6 240.5C620.1 235.3 616.7 230.3 612.6 224.7C607.8 218.2 602.3 210.9 596.3 203.9C589.7 196.2 582.1 187.9 574.7 180.7C567.7 173.8 560.2 167.2 553.1 161.5C546.8 156.4 539.4 151.2 534.6 148.0C531.6 146.1 529.7 145.2 527.2 143.9C524.6 142.6 522.0 141.4 519.5 140.2C516.9 139.1 514.4 138.0 511.9 136.9C509.4 135.9 506.9 134.8 504.3 133.8C501.8 132.8 499.2 131.7 496.6 130.9C494.1 130.1 491.6 129.3 489.0 128.8C486.5 128.4 483.8 128.0 481.4 128.1C479.3 128.3 477.3 128.7 475.5 129.5C473.7 130.3 472.1 131.5 470.8 133.0C469.3 134.6 468.0 136.8 467.1 138.9C466.3 140.9 465.9 142.2 465.4 145.2C464.2 151.8 463.1 166.7 462.3 178.0C461.4 190.2 460.6 204.2 460.1 216.0C459.7 226.4 459.5 235.5 459.2 245.2Z" fill="#c6c6ff" stroke="none"/>
<path d="M458.8 245.2C458.9 235.5 459.0 226.4 459.2 216.0C459.4 204.2 459.7 190.0 460.1 178.0C460.4 167.3 460.8 156.6 461.3 147.6C461.6 140.6 462.1 134.9 462.6 128.7C463.1 122.7 463.6 116.9 464.3 111.0C465.0 105.1 465.7 98.6 466.7 93.3C467.4 88.7 468.2 84.3 469.3 80.7C470.2 77.8 471.1 75.5 472.5 73.2C473.9 71.0 475.7 68.8 477.6 67.2C479.2 65.8 481.1 64.7 482.9 64.1C484.7 63.5 486.5 63.2 488.4 63.3C490.6 63.3 493.1 63.8 495.3 64.6C497.4 65.3 499.3 66.4 501.4 67.8C503.9 69.5 506.5 72.0 509.0 74.5C511.7 77.3 514.3 80.6 516.9 83.8C519.5 87.0 521.9 90.2 524.7 93.8C527.9 98.0 531.2 102.5 535.0 107.6C539.7 113.9 545.1 120.9 550.6 128.6C557.2 137.6 564.6 148.5 571.7 158.6C578.9 168.9 586.1 179.4 593.4 189.8C600.6 200.1 608.5 211.6 615.1 220.9C620.4 228.4 625.8 235.8 629.8 241.2C632.4 244.8 634.1 247.2 636.3 250.2L633.0 255.0C629.9 250.2 626.9 245.4 623.6 240.5C620.1 235.3 616.7 230.3 612.6 224.7C607.8 218.2 602.3 210.9 596.3 203.9C589.7 196.2 582.1 187.9 574.7 180.7C567.7 173.8 560.2 167.2 553.1 161.5C546.8 156.4 539.4 151.2 534.6 148.0C531.6 146.1 529.7 145.2 527.2 143.9C524.6 142.6 522.0 141.4 519.5 140.2C516.9 139.1 514.4 138.0 511.9 136.9C509.4 135.9 506.9 134.8 504.3 133.8C501.8 132.8 499.2 131.7 496.6 130.9C494.1 130.1 491.6 129.3 489.0 128.8C486.5 128.4 483.8 128.0 481.4 128.1C479.3 128.3 477.3 128.7 475.5 129.5C473.7 130.3 472.1 131.5 470.8 133.0C469.3 134.6 468.0 136.8 467.1 138.9C466.3 140.9 465.9 142.2 465.4 145.2C464.2 151.8 463.1 166.7 462.3 178.0C461.4 190.2 460.6 204.2 460.1 216.0C459.7 226.4 459.5 235.5 459.2 245.2Z" fill="#aaaaff" stroke="none"/>
<path d="M459.2 245.2C459.5 235.5 459.7 226.4 460.1 216.0C460.6 204.2 461.4 190.2 462.3 178.0C463.1 166.7 464.2 151.8 465.4 145.2C465.9 142.2 466.3 140.9 467.1 138.9C468.0 136.8 469.3 134.6 470.8 133.0C472.1 131.5 473.7 130.3 475.5 129.5C477.3 128.7 479.3 128.3 481.4 128.1C483.8 128.0 486.5 128.4 489.0 128.8C491.6 129.3 494.1 130.1 496.6 130.9C499.2 131.7 501.8 132.8 504.3 133.8C506.9 134.8 509.4 135.9 511.9 136.9C514.4 138.0 516.9 139.1 519.5 140.2C522.0 141.4 524.6 142.6 527.2 143.9C529.7 145.2 531.6 146.1 534.6 148.0C539.4 151.2 546.8 156.4 553.1 161.5C560.2 167.2 567.7 173.8 574.7 180.7C582.1 187.9 589.7 196.2 596.3 203.9C602.3 210.9 607.8 218.2 612.6 224.7C616.7 230.3 620.1 235.3 623.6 240.5C626.9 245.4 629.9 250.2 633.0 255.0" stroke="#0000b0" stroke-width="2.3" stroke-dasharray="1.7 3.05" stroke-dashoffset="-1.15"/>
<path d="M459.6 245.2C460.0 235.5 460.3 226.4 460.9 216.1C461.6 204.2 462.5 190.3 463.6 178.1C464.6 166.7 466.0 152.5 467.0 145.1C467.6 141.2 467.8 139.3 468.5 136.4C469.4 133.1 470.4 129.6 471.8 126.3C473.2 123.0 475.0 119.4 477.0 116.4C478.8 113.6 480.9 111.1 483.2 109.0C485.5 106.9 487.9 105.2 490.6 103.8C493.3 102.3 496.3 101.1 499.4 100.1C502.6 99.1 506.0 98.5 509.4 98.0C512.7 97.5 516.1 97.3 519.5 97.2C522.9 97.1 526.4 97.3 529.6 97.4C532.7 97.6 536.8 97.8 538.5 98.0C539.2 98.1 539.3 98.1 540.0 98.3C542.2 98.8 548.4 100.6 552.5 102.0C556.8 103.4 561.0 105.0 565.2 106.9C569.5 108.7 573.7 110.8 577.9 113.1C582.2 115.4 586.4 118.0 590.6 120.6C594.9 123.2 599.1 125.9 603.3 128.8C607.6 131.6 611.8 134.6 616.0 137.7C620.2 140.8 624.0 143.6 628.5 147.4C634.2 152.2 640.9 158.4 647.2 164.7C654.2 171.7 661.7 179.9 668.4 187.5C674.8 194.8 681.3 203.1 686.6 209.5C690.6 214.5 693.4 218.0 697.3 222.8C701.8 228.4 707.9 236.0 712.2 241.1C715.2 244.9 717.5 247.6 720.2 250.8" stroke="#a80000" stroke-width="2.3" stroke-dasharray="1.7 3.05" stroke-dashoffset="-1.15"/>
<path d="M462.5 245.2C462.6 243.5 462.6 242.4 462.8 240.1C463.2 235.1 464.3 223.7 465.2 216.1C466.0 209.0 466.7 202.4 467.7 195.8C468.7 189.4 469.8 182.8 471.1 176.8C472.2 171.5 473.5 166.5 474.9 161.7C476.2 157.2 477.7 152.8 479.1 148.9C480.3 145.7 481.3 143.2 482.7 140.1C484.3 136.6 486.3 132.3 488.1 128.9C489.8 125.7 491.4 122.9 493.3 120.1C495.1 117.4 497.1 114.8 499.2 112.2C501.3 109.7 503.5 107.3 505.9 104.9C508.2 102.6 510.7 100.5 513.3 98.4C515.7 96.4 518.3 94.5 520.9 92.8C523.4 91.2 525.9 89.9 528.6 88.5C531.3 87.1 535.2 85.3 537.3 84.4C538.4 83.9 538.7 83.9 539.9 83.4C542.6 82.3 548.5 79.9 552.9 78.5C557.1 77.0 561.2 75.7 565.5 74.7C569.6 73.6 573.8 72.8 578.0 72.2C582.2 71.6 586.5 71.3 590.7 71.0C594.9 70.8 599.1 70.8 603.4 70.9C607.6 70.9 611.8 71.1 616.0 71.4C620.3 71.7 624.5 72.1 628.7 72.6C632.9 73.2 636.6 73.7 641.4 74.5C647.6 75.6 655.6 77.3 662.7 79.0C669.9 80.6 677.1 82.5 684.2 84.5C691.4 86.6 698.5 88.8 705.6 91.1C712.8 93.5 719.9 96.0 727.0 98.6C734.2 101.2 741.4 104.0 748.6 106.7C755.7 109.4 763.6 112.5 770.0 115.0C775.1 117.0 779.9 118.9 783.9 120.4C786.7 121.5 788.9 122.4 791.4 123.3" stroke="#0a640a" stroke-width="2.3" stroke-dasharray="1.7 3.05" stroke-dashoffset="-1.15"/>
<path d="M459.2 245.2C459.5 235.5 459.7 226.4 460.1 216.0C460.6 204.2 461.4 190.2 462.3 178.0C463.1 166.7 464.2 151.8 465.4 145.2C465.9 142.2 466.3 140.9 467.1 138.9C468.0 136.8 469.3 134.6 470.8 133.0C472.1 131.5 473.7 130.3 475.5 129.5C477.3 128.7 479.3 128.3 481.4 128.1C483.8 128.0 486.5 128.4 489.0 128.8C491.6 129.3 494.1 130.1 496.6 130.9C499.2 131.7 501.8 132.8 504.3 133.8C506.9 134.8 509.4 135.9 511.9 136.9C514.4 138.0 516.9 139.1 519.5 140.2C522.0 141.4 524.6 142.6 527.2 143.9C529.7 145.2 531.6 146.1 534.6 148.0C539.4 151.2 546.8 156.4 553.1 161.5C560.2 167.2 567.7 173.8 574.7 180.7C582.1 187.9 589.7 196.2 596.3 203.9C602.3 210.9 607.8 218.2 612.6 224.7C616.7 230.3 620.1 235.3 623.6 240.5C626.9 245.4 629.9 250.2 633.0 255.0" stroke="#0000b0" stroke-width="2.4" stroke-dasharray="4 5.5"/>
<path d="M459.6 245.2C460.0 235.5 460.3 226.4 460.9 216.1C461.6 204.2 462.5 190.3 463.6 178.1C464.6 166.7 466.0 152.5 467.0 145.1C467.6 141.2 467.8 139.3 468.5 136.4C469.4 133.1 470.4 129.6 471.8 126.3C473.2 123.0 475.0 119.4 477.0 116.4C478.8 113.6 480.9 111.1 483.2 109.0C485.5 106.9 487.9 105.2 490.6 103.8C493.3 102.3 496.3 101.1 499.4 100.1C502.6 99.1 506.0 98.5 509.4 98.0C512.7 97.5 516.1 97.3 519.5 97.2C522.9 97.1 526.4 97.3 529.6 97.4C532.7 97.6 536.8 97.8 538.5 98.0C539.2 98.1 539.3 98.1 540.0 98.3C542.2 98.8 548.4 100.6 552.5 102.0C556.8 103.4 561.0 105.0 565.2 106.9C569.5 108.7 573.7 110.8 577.9 113.1C582.2 115.4 586.4 118.0 590.6 120.6C594.9 123.2 599.1 125.9 603.3 128.8C607.6 131.6 611.8 134.6 616.0 137.7C620.2 140.8 624.0 143.6 628.5 147.4C634.2 152.2 640.9 158.4 647.2 164.7C654.2 171.7 661.7 179.9 668.4 187.5C674.8 194.8 681.3 203.1 686.6 209.5C690.6 214.5 693.4 218.0 697.3 222.8C701.8 228.4 707.9 236.0 712.2 241.1C715.2 244.9 717.5 247.6 720.2 250.8" stroke="#a80000" stroke-width="2.4" stroke-dasharray="4 5.5"/>
<path d="M462.5 245.2C462.6 243.5 462.6 242.4 462.8 240.1C463.2 235.1 464.3 223.7 465.2 216.1C466.0 209.0 466.7 202.4 467.7 195.8C468.7 189.4 469.8 182.8 471.1 176.8C472.2 171.5 473.5 166.5 474.9 161.7C476.2 157.2 477.7 152.8 479.1 148.9C480.3 145.7 481.3 143.2 482.7 140.1C484.3 136.6 486.3 132.3 488.1 128.9C489.8 125.7 491.4 122.9 493.3 120.1C495.1 117.4 497.1 114.8 499.2 112.2C501.3 109.7 503.5 107.3 505.9 104.9C508.2 102.6 510.7 100.5 513.3 98.4C515.7 96.4 518.3 94.5 520.9 92.8C523.4 91.2 525.9 89.9 528.6 88.5C531.3 87.1 535.2 85.3 537.3 84.4C538.4 83.9 538.7 83.9 539.9 83.4C542.6 82.3 548.5 79.9 552.9 78.5C557.1 77.0 561.2 75.7 565.5 74.7C569.6 73.6 573.8 72.8 578.0 72.2C582.2 71.6 586.5 71.3 590.7 71.0C594.9 70.8 599.1 70.8 603.4 70.9C607.6 70.9 611.8 71.1 616.0 71.4C620.3 71.7 624.5 72.1 628.7 72.6C632.9 73.2 636.6 73.7 641.4 74.5C647.6 75.6 655.6 77.3 662.7 79.0C669.9 80.6 677.1 82.5 684.2 84.5C691.4 86.6 698.5 88.8 705.6 91.1C712.8 93.5 719.9 96.0 727.0 98.6C734.2 101.2 741.4 104.0 748.6 106.7C755.7 109.4 763.6 112.5 770.0 115.0C775.1 117.0 779.9 118.9 783.9 120.4C786.7 121.5 788.9 122.4 791.4 123.3" stroke="#0a640a" stroke-width="2.4" stroke-dasharray="4 5.5"/>
<path d="M458.8 245.2C458.9 235.5 459.0 226.4 459.2 216.0C459.4 204.2 459.7 190.0 460.1 178.0C460.4 167.3 460.8 156.6 461.3 147.6C461.6 140.6 462.1 134.9 462.6 128.7C463.1 122.7 463.6 116.9 464.3 111.0C465.0 105.1 465.7 98.6 466.7 93.3C467.4 88.7 468.2 84.3 469.3 80.7C470.2 77.8 471.1 75.5 472.5 73.2C473.9 71.0 475.7 68.8 477.6 67.2C479.2 65.8 481.1 64.7 482.9 64.1C484.7 63.5 486.5 63.2 488.4 63.3C490.6 63.3 493.1 63.8 495.3 64.6C497.4 65.3 499.3 66.4 501.4 67.8C503.9 69.5 506.5 72.0 509.0 74.5C511.7 77.3 514.3 80.6 516.9 83.8C519.5 87.0 521.9 90.2 524.7 93.8C527.9 98.0 531.2 102.5 535.0 107.6C539.7 113.9 545.1 120.9 550.6 128.6C557.2 137.6 564.6 148.5 571.7 158.6C578.9 168.9 586.1 179.4 593.4 189.8C600.6 200.1 608.5 211.6 615.1 220.9C620.4 228.4 625.8 235.8 629.8 241.2C632.4 244.8 634.1 247.2 636.3 250.2" stroke="#0000b0" stroke-width="2.5" stroke-dasharray="7.8 3.7"/>
<path d="M459.4 245.2C459.7 235.5 460.0 226.4 460.4 216.0C460.8 204.2 461.4 190.3 462.0 178.0C462.6 166.7 463.4 153.7 464.0 145.1C464.4 139.5 464.6 136.3 465.2 131.3C465.8 125.2 466.8 117.1 467.8 111.0C468.6 105.9 469.4 101.3 470.4 97.1C471.4 93.4 472.3 90.2 473.6 87.0C474.9 84.0 476.4 81.0 478.2 78.3C480.0 75.7 482.3 73.0 484.5 71.0C486.4 69.3 488.4 68.0 490.5 67.0C492.5 66.1 494.5 65.5 496.7 65.1C499.1 64.6 501.8 64.5 504.3 64.5C506.8 64.6 509.3 64.9 511.8 65.4C514.4 65.9 516.9 66.6 519.4 67.4C522.0 68.3 524.5 69.4 527.0 70.6C529.6 71.7 531.6 72.8 534.6 74.4C539.2 76.9 546.5 81.2 551.7 84.3C556.3 87.0 560.2 89.3 564.4 91.9C568.7 94.6 572.9 97.3 577.1 100.2C581.4 103.1 585.7 106.2 590.0 109.4C594.3 112.5 598.6 115.9 602.9 119.2C607.2 122.5 611.4 125.8 615.6 129.3C619.9 132.8 624.1 136.3 628.3 140.1C632.5 143.9 636.2 147.3 640.8 152.0C647.2 158.4 655.3 167.4 662.5 175.3C669.8 183.3 677.1 191.7 684.2 199.7C691.1 207.6 698.2 215.9 704.5 223.1C709.9 229.4 715.2 235.6 719.5 240.5C722.7 244.2 725.1 247.0 727.9 250.2" stroke="#a80000" stroke-width="2.5" stroke-dasharray="7.8 3.7"/>
<path d="M461.3 245.7C461.4 244.0 461.4 242.9 461.6 240.6C461.9 235.6 462.7 224.5 463.4 216.5C464.1 208.8 464.7 201.1 465.6 193.8C466.3 186.8 467.1 179.9 468.1 173.5C469.1 167.7 470.0 162.7 471.2 157.0C472.5 150.9 474.3 143.5 475.9 138.2C477.1 134.3 478.0 131.5 479.4 128.0C480.9 124.3 482.6 120.4 484.5 116.6C486.5 112.8 488.7 108.8 491.0 105.3C493.1 102.2 495.1 99.3 497.4 96.7C499.7 94.1 502.2 91.7 504.7 89.5C507.2 87.4 509.8 85.5 512.3 83.8C514.8 82.1 517.3 80.6 519.9 79.3C522.4 78.1 525.0 77.2 527.5 76.3C530.0 75.4 532.8 74.7 535.0 74.1C536.9 73.7 538.1 73.6 540.2 73.1C543.5 72.4 548.7 71.0 553.0 70.1C557.2 69.1 561.5 68.2 565.8 67.4C570.0 66.6 574.1 65.9 578.3 65.5C582.5 65.0 586.8 64.9 591.0 64.8C595.2 64.7 599.4 64.8 603.7 65.0C607.9 65.2 612.1 65.5 616.3 66.0C620.6 66.4 624.8 67.0 629.0 67.6C633.2 68.3 636.9 69.1 641.7 70.1C647.9 71.4 656.0 73.3 663.1 75.0C670.2 76.9 677.4 78.8 684.5 80.9C691.7 83.0 698.8 85.2 705.9 87.6C713.0 90.0 720.2 92.7 727.3 95.3C734.5 98.0 741.7 100.8 748.9 103.6C756.0 106.4 764.0 109.6 770.3 112.1C775.4 114.0 780.2 115.8 784.1 117.3C787.0 118.4 789.2 119.2 791.7 120.2" stroke="#0a640a" stroke-width="2.5" stroke-dasharray="7.8 3.7"/>
<path d="M458.5 245.2C458.7 235.5 458.7 226.4 458.9 216.0C459.0 204.2 459.2 190.0 459.5 178.0C459.7 167.3 459.9 156.6 460.3 147.6C460.5 140.6 460.8 134.9 461.2 128.7C461.6 122.7 462.0 116.9 462.6 111.0C463.1 105.1 463.8 98.8 464.7 93.2C465.5 88.3 466.3 83.6 467.5 79.4C468.5 75.8 469.7 72.2 471.3 69.4C472.5 67.0 473.9 65.0 475.7 63.3C477.4 61.6 479.7 60.1 481.9 59.2C483.9 58.3 486.2 57.9 488.4 58.0C490.6 58.1 492.9 58.7 495.1 59.6C497.3 60.6 499.3 62.0 501.5 63.7C504.0 65.8 506.6 68.5 509.1 71.2C511.8 74.1 514.3 77.4 516.9 80.6C519.5 83.9 521.9 87.0 524.6 90.7C527.8 94.9 531.1 99.3 534.9 104.5C539.9 111.3 546.1 119.6 552.1 127.9C558.8 137.2 566.1 147.9 573.1 158.0C580.3 168.3 587.5 178.8 594.8 189.2C602.0 199.6 609.9 211.0 616.5 220.3C621.8 227.8 627.2 235.2 631.2 240.6C633.8 244.2 635.5 246.6 637.7 249.6" stroke="#0000b0" stroke-width="3.4"/>
<path d="M459.2 245.2C459.4 235.5 459.6 226.4 459.9 216.0C460.2 204.2 460.7 190.3 461.2 178.0C461.7 166.7 462.3 153.7 462.9 145.1C463.2 139.5 463.4 136.1 463.9 131.3C464.4 125.7 465.1 119.2 465.9 113.5C466.7 108.3 467.5 103.0 468.5 98.4C469.5 94.3 470.4 90.6 471.8 87.0C473.0 83.5 474.5 80.0 476.3 77.0C478.0 74.3 479.9 71.7 481.9 69.6C483.8 67.6 485.9 66.0 488.2 64.8C490.4 63.5 493.0 62.6 495.5 62.0C497.9 61.4 500.5 61.2 503.0 61.2C505.5 61.2 508.1 61.5 510.6 61.9C513.1 62.3 515.7 62.9 518.2 63.7C520.7 64.5 523.2 65.6 525.8 66.8C528.6 68.1 531.1 69.5 534.5 71.5C539.5 74.4 547.3 79.4 552.8 82.8C557.4 85.7 561.2 88.0 565.3 90.8C569.5 93.5 573.6 96.3 577.8 99.2C582.1 102.2 586.4 105.3 590.6 108.5C594.9 111.8 599.2 115.2 603.4 118.5C607.6 121.9 611.8 125.3 616.0 128.8C620.2 132.3 624.4 135.9 628.6 139.7C632.8 143.6 636.4 147.0 641.0 151.8C647.3 158.2 655.5 167.2 662.7 175.1C669.9 183.1 677.2 191.5 684.3 199.5C691.2 207.4 698.4 215.7 704.6 222.9C710.0 229.2 715.4 235.4 719.7 240.3C722.9 244.0 725.2 246.8 728.0 250.0" stroke="#a80000" stroke-width="3.4"/>
<path d="M461.0 245.2C461.1 243.5 461.1 242.4 461.3 240.1C461.6 235.1 462.4 224.0 463.1 216.0C463.8 208.3 464.4 200.6 465.3 193.3C466.0 186.3 466.8 179.4 467.8 173.0C468.8 167.2 469.7 162.2 470.9 156.5C472.2 150.4 474.0 143.0 475.6 137.7C476.8 133.8 477.7 131.0 479.1 127.5C480.6 123.8 482.3 119.9 484.2 116.1C486.2 112.3 488.4 108.3 490.7 104.8C492.8 101.7 494.8 98.8 497.1 96.2C499.4 93.6 501.9 91.2 504.4 89.0C506.9 86.9 509.5 85.0 512.0 83.3C514.5 81.6 517.0 80.1 519.6 78.8C522.1 77.6 524.7 76.7 527.2 75.8C529.7 74.9 532.5 74.2 534.7 73.6C536.6 73.2 537.8 73.1 539.9 72.6C543.2 71.9 548.4 70.5 552.7 69.6C556.9 68.6 561.2 67.7 565.5 66.9C569.7 66.1 573.8 65.4 578.0 65.0C582.2 64.5 586.5 64.4 590.7 64.3C594.9 64.2 599.1 64.3 603.4 64.5C607.6 64.7 611.8 65.0 616.0 65.5C620.3 65.9 624.5 66.5 628.7 67.1C632.9 67.8 636.6 68.6 641.4 69.6C647.6 70.9 655.7 72.8 662.8 74.5C669.9 76.4 677.1 78.3 684.2 80.4C691.4 82.5 698.5 84.7 705.6 87.1C712.7 89.5 719.9 92.2 727.0 94.8C734.2 97.5 741.4 100.3 748.6 103.1C755.7 105.9 763.7 109.1 770.0 111.6C775.1 113.5 779.9 115.3 783.8 116.8C786.7 117.9 788.9 118.7 791.4 119.7" stroke="#0a640a" stroke-width="3.4"/>
</g>
<g clip-path="url(#cp10)" fill="none" stroke-linecap="butt" stroke-linejoin="round">
<path d="M123.8 538.7C124.0 536.2 124.0 534.4 124.2 531.1C124.6 525.3 125.3 515.2 126.0 507.1C126.8 498.7 127.8 488.8 128.7 481.7C129.4 476.7 129.9 473.4 130.8 468.7C131.9 463.3 133.3 456.9 134.9 451.0C136.5 445.1 138.2 439.0 140.2 433.4C142.1 428.1 144.1 423.1 146.4 418.2C148.7 413.4 151.6 408.7 154.2 404.5C156.6 400.7 159.0 397.3 161.4 394.1C163.7 391.2 166.3 388.1 168.3 385.9C169.7 384.3 170.5 383.2 172.1 381.8C174.3 379.8 177.6 377.3 180.6 375.5C183.3 373.8 186.3 372.5 189.2 371.3C192.0 370.2 195.8 369.0 197.8 368.6C198.8 368.4 199.1 368.5 200.2 368.4C202.7 368.1 208.5 367.2 212.7 366.7C216.9 366.3 221.1 365.9 225.4 365.7C229.6 365.4 233.8 365.2 238.0 365.2C242.2 365.2 246.5 365.5 250.7 365.8C254.9 366.2 259.1 366.6 263.3 367.1C267.6 367.7 271.8 368.3 276.1 369.0C280.3 369.6 284.5 370.3 288.7 371.1C292.8 371.8 296.9 372.5 300.8 373.3C304.5 374.0 307.3 374.6 311.5 375.6C317.5 377.0 325.9 379.1 333.0 381.0C340.2 382.9 347.5 384.8 354.7 386.7C361.9 388.6 369.1 390.6 376.3 392.4C383.4 394.2 390.6 395.9 397.7 397.5C404.9 399.2 411.7 400.6 419.3 402.2C427.8 404.0 440.0 406.5 446.2 407.7C449.5 408.4 451.2 408.7 453.8 409.2L453.8 431.4C451.2 430.9 449.5 430.6 446.2 429.9C440.0 428.7 427.8 426.2 419.3 424.5C411.7 422.9 404.9 421.5 397.7 419.9C390.6 418.3 383.4 416.7 376.2 415.0C369.0 413.4 361.8 411.6 354.6 409.9C347.4 408.1 340.2 406.3 333.0 404.7C325.9 403.2 317.5 401.4 311.5 400.4C307.3 399.7 304.4 399.3 300.7 398.9C296.9 398.5 292.8 398.4 288.7 398.1C284.6 397.9 280.3 397.6 276.0 397.4C271.8 397.1 267.6 396.9 263.4 396.7C259.1 396.5 254.9 396.3 250.7 396.2C246.5 396.1 242.2 396.1 238.0 396.2C233.8 396.3 229.6 396.5 225.4 396.8C221.1 397.2 217.0 397.7 212.7 398.5C208.3 399.2 203.5 400.2 199.4 401.4C195.7 402.5 192.6 403.6 189.3 405.1C185.9 406.7 182.6 408.7 179.4 411.0C175.9 413.5 172.5 416.5 169.4 419.8C166.1 423.1 163.1 427.0 160.3 430.9C157.6 434.9 155.1 439.2 152.8 443.6C150.4 448.0 148.2 452.7 146.2 457.4C144.2 461.9 142.3 466.8 140.8 471.2C139.4 475.0 138.6 477.6 137.4 482.0C135.7 488.5 133.8 498.8 132.3 507.0C130.8 515.1 129.2 525.3 128.5 531.1C128.0 534.4 127.9 536.2 127.6 538.7Z" fill="#c8c8c8" stroke="none"/>
<path d="M124.7 538.7C124.9 536.2 124.9 534.4 125.1 531.1C125.6 525.3 126.5 515.2 127.4 507.1C128.3 498.7 129.5 488.8 130.7 481.8C131.5 476.7 132.2 473.3 133.2 468.7C134.4 463.5 135.8 457.8 137.5 452.3C139.2 446.5 141.2 440.3 143.4 434.7C145.5 429.4 147.7 424.2 150.2 419.5C152.6 415.0 155.3 410.8 157.9 407.0C160.3 403.5 162.6 400.4 165.2 397.3C167.8 394.2 171.0 390.9 173.5 388.5C175.3 386.7 176.5 385.3 178.4 383.9C180.8 382.2 183.8 380.6 186.8 379.3C189.9 377.8 194.2 376.0 196.7 375.4C198.1 375.1 198.5 375.1 200.0 375.0C202.9 374.6 208.5 373.8 212.7 373.5C216.9 373.1 221.1 372.8 225.4 372.6C229.6 372.4 233.8 372.3 238.0 372.4C242.2 372.5 246.5 372.7 250.7 373.0C254.9 373.3 259.1 373.7 263.4 374.2C267.6 374.7 271.8 375.2 276.0 375.8C280.3 376.3 284.5 377.0 288.7 377.6C292.8 378.3 296.9 379.0 300.8 379.7C304.5 380.5 307.3 381.1 311.5 382.0C317.5 383.4 325.9 385.6 333.0 387.4C340.2 389.3 347.5 391.3 354.7 393.2C361.9 395.1 369.1 397.0 376.3 398.8C383.4 400.6 390.6 402.3 397.7 404.0C404.9 405.6 411.7 407.1 419.3 408.7C427.8 410.5 440.0 412.9 446.2 414.2C449.5 414.8 451.2 415.2 453.8 415.7L453.8 431.4C451.2 430.9 449.5 430.6 446.2 429.9C440.0 428.7 427.8 426.2 419.3 424.5C411.7 422.9 404.9 421.5 397.7 419.9C390.6 418.3 383.4 416.7 376.2 415.0C369.0 413.4 361.8 411.6 354.6 409.9C347.4 408.1 340.2 406.3 333.0 404.7C325.9 403.2 317.5 401.4 311.5 400.4C307.3 399.7 304.4 399.3 300.7 398.9C296.9 398.5 292.8 398.4 288.7 398.1C284.6 397.9 280.3 397.6 276.0 397.4C271.8 397.1 267.6 396.9 263.4 396.7C259.1 396.5 254.9 396.3 250.7 396.2C246.5 396.1 242.2 396.1 238.0 396.2C233.8 396.3 229.6 396.5 225.4 396.8C221.1 397.2 217.0 397.7 212.7 398.5C208.3 399.2 203.5 400.2 199.4 401.4C195.7 402.5 192.6 403.6 189.3 405.1C185.9 406.7 182.6 408.7 179.4 411.0C175.9 413.5 172.5 416.5 169.4 419.8C166.1 423.1 163.1 427.0 160.3 430.9C157.6 434.9 155.1 439.2 152.8 443.6C150.4 448.0 148.2 452.7 146.2 457.4C144.2 461.9 142.3 466.8 140.8 471.2C139.4 475.0 138.6 477.6 137.4 482.0C135.7 488.5 133.8 498.8 132.3 507.0C130.8 515.1 129.2 525.3 128.5 531.1C128.0 534.4 127.9 536.2 127.6 538.7Z" fill="#aaaaaa" stroke="none"/>
<path d="M126.3 538.7C126.4 536.2 126.5 534.4 126.8 531.1C127.4 525.3 128.8 515.2 130.0 507.1C131.4 498.8 133.1 488.9 134.7 481.9C135.8 476.7 136.8 473.3 138.2 468.7C139.8 463.5 141.8 457.6 143.8 452.3C145.8 447.2 147.9 442.1 150.3 437.2C152.6 432.5 155.1 427.7 158.0 423.4C160.7 419.4 163.6 415.6 166.8 412.2C169.9 408.9 173.3 405.8 176.8 403.3C180.0 401.0 183.4 399.2 186.8 397.6C190.1 396.1 194.3 394.5 196.7 393.8C198.1 393.5 198.5 393.5 200.0 393.3C202.8 392.9 208.5 392.1 212.7 391.7C216.9 391.2 221.1 390.8 225.4 390.5C229.6 390.2 233.8 390.0 238.0 389.9C242.2 389.9 246.5 390.0 250.7 390.1C254.9 390.3 259.1 390.5 263.4 390.9C267.6 391.2 271.8 391.6 276.0 392.1C280.3 392.5 284.5 393.1 288.7 393.7C292.8 394.3 296.9 395.0 300.8 395.7C304.5 396.4 307.3 396.9 311.5 397.8C317.5 399.0 325.9 400.9 333.0 402.6C340.2 404.2 347.4 406.0 354.6 407.7C361.8 409.4 369.0 411.2 376.2 412.9C383.4 414.6 390.6 416.2 397.7 417.8C404.9 419.3 411.7 420.7 419.3 422.3C427.8 424.1 440.0 426.5 446.2 427.8C449.5 428.4 451.2 428.8 453.8 429.3L453.8 431.4C451.2 430.9 449.5 430.6 446.2 429.9C440.0 428.7 427.8 426.2 419.3 424.5C411.7 422.9 404.9 421.5 397.7 419.9C390.6 418.3 383.4 416.7 376.2 415.0C369.0 413.4 361.8 411.6 354.6 409.9C347.4 408.1 340.2 406.3 333.0 404.7C325.9 403.2 317.5 401.4 311.5 400.4C307.3 399.7 304.4 399.3 300.7 398.9C296.9 398.5 292.8 398.4 288.7 398.1C284.6 397.9 280.3 397.6 276.0 397.4C271.8 397.1 267.6 396.9 263.4 396.7C259.1 396.5 254.9 396.3 250.7 396.2C246.5 396.1 242.2 396.1 238.0 396.2C233.8 396.3 229.6 396.5 225.4 396.8C221.1 397.2 217.0 397.7 212.7 398.5C208.3 399.2 203.5 400.2 199.4 401.4C195.7 402.5 192.6 403.6 189.3 405.1C185.9 406.7 182.6 408.7 179.4 411.0C175.9 413.5 172.5 416.5 169.4 419.8C166.1 423.1 163.1 427.0 160.3 430.9C157.6 434.9 155.1 439.2 152.8 443.6C150.4 448.0 148.2 452.7 146.2 457.4C144.2 461.9 142.3 466.8 140.8 471.2C139.4 475.0 138.6 477.6 137.4 482.0C135.7 488.5 133.8 498.8 132.3 507.0C130.8 515.1 129.2 525.3 128.5 531.1C128.0 534.4 127.9 536.2 127.6 538.7Z" fill="#8e8e8e" stroke="none"/>
<path d="M121.7 538.7C121.8 536.2 121.8 534.7 121.9 531.1C122.2 522.6 123.0 502.5 123.5 488.0C124.1 473.3 124.7 457.0 125.3 443.4C125.7 431.9 126.3 420.1 126.7 411.7C127.0 406.2 127.1 402.6 127.5 398.0C127.9 393.3 128.4 388.6 129.1 383.8C129.8 378.8 130.7 373.6 131.8 368.6C132.9 363.9 134.2 359.0 135.7 354.8C137.0 351.1 138.3 348.0 140.1 344.7C141.9 341.3 144.1 337.6 146.4 334.6C148.4 332.0 150.4 329.8 152.8 327.8C155.1 325.9 157.7 324.1 160.2 322.9C162.6 321.7 165.1 320.9 167.6 320.3C170.1 319.8 172.6 319.7 175.1 319.8C177.6 319.8 180.2 320.2 182.7 320.7C185.3 321.2 187.7 322.1 190.3 322.9C193.1 323.9 197.5 325.5 199.1 326.3C199.7 326.6 199.7 326.6 200.3 327.0C202.2 328.2 208.3 331.9 212.4 334.7C216.6 337.6 221.0 340.7 225.2 343.9C229.5 347.1 233.8 350.5 238.0 353.9C242.2 357.5 246.3 361.1 250.5 364.9C254.8 368.7 259.2 372.8 263.4 376.8C267.6 380.8 271.8 384.8 275.9 388.9C280.2 393.0 283.8 396.7 288.6 401.6C295.0 408.1 303.0 416.5 310.6 424.4C318.8 433.0 327.7 442.3 336.0 451.0C344.2 459.5 351.9 467.6 360.2 476.1C368.7 485.0 377.6 494.0 386.5 503.0C395.5 512.2 407.0 523.8 413.7 530.6C417.6 534.6 419.9 536.9 423.0 540.0L404.0 540.0C400.9 536.8 398.4 534.3 394.7 530.5C388.9 524.7 380.2 515.9 373.0 508.5C365.7 501.2 358.4 493.8 351.2 486.6C344.2 479.6 337.3 472.8 330.4 465.9C323.4 459.0 316.4 452.0 309.4 445.3C302.6 438.6 295.9 432.2 289.0 425.7C282.0 419.2 274.2 412.0 267.7 406.3C262.5 401.8 258.3 398.3 253.3 394.3C248.3 390.3 242.6 385.9 237.6 382.3C233.3 379.1 229.1 376.1 225.3 373.6C222.1 371.6 219.4 370.1 216.5 368.4C213.5 366.8 209.7 364.7 207.5 363.8C206.2 363.2 205.6 363.2 204.4 362.7C202.4 362.0 199.3 360.6 196.8 359.6C194.2 358.7 191.6 357.7 189.0 356.9C186.4 356.1 183.9 355.2 181.4 354.8C178.9 354.4 176.4 354.3 173.9 354.4C171.4 354.6 168.8 355.0 166.4 355.7C163.9 356.5 161.4 357.6 159.1 359.1C156.5 360.7 153.9 362.9 151.6 365.2C149.2 367.8 147.0 370.7 145.1 373.8C143.2 377.0 141.7 380.3 140.2 384.0C138.6 388.3 137.1 393.0 135.8 398.1C134.3 404.1 133.1 410.9 131.9 418.0C130.6 425.9 129.6 433.8 128.6 443.5C127.2 456.3 126.0 473.3 125.0 488.0C124.1 502.5 123.0 522.6 122.6 531.1C122.5 534.7 122.5 536.2 122.4 538.7Z" fill="#ecc8c8" stroke="none"/>
<path d="M121.9 538.7C122.0 536.2 122.0 534.7 122.2 531.1C122.5 522.6 123.3 502.5 124.0 488.0C124.6 473.3 125.3 457.0 126.0 443.4C126.6 431.9 127.2 420.0 127.7 411.7C128.1 406.2 128.2 402.6 128.7 398.0C129.1 393.3 129.7 388.4 130.5 383.8C131.2 379.5 132.0 375.1 133.0 371.2C133.9 367.6 134.9 364.5 136.2 361.1C137.6 357.4 139.4 353.3 141.3 349.7C143.3 346.2 145.5 342.6 147.8 339.8C149.8 337.3 151.7 335.3 154.0 333.6C156.3 331.8 158.9 330.3 161.5 329.3C163.9 328.3 166.4 327.8 168.8 327.4C171.3 327.1 173.9 327.2 176.4 327.4C178.9 327.6 181.5 328.2 184.0 328.8C186.5 329.5 189.1 330.4 191.6 331.4C194.1 332.4 196.2 333.4 199.1 335.0C203.0 337.1 208.2 340.3 212.6 343.1C216.9 345.9 221.0 348.7 225.1 351.7C229.4 354.8 233.7 358.2 237.9 361.6C242.2 365.1 246.3 368.7 250.5 372.5C254.8 376.3 259.1 380.4 263.3 384.5C267.6 388.6 271.9 392.7 276.1 396.9C280.3 401.0 283.9 404.5 288.7 409.2C294.9 415.5 302.9 423.4 310.4 431.0C318.7 439.3 327.8 448.6 336.2 457.1C344.2 465.4 352.0 473.4 359.9 481.5C367.8 489.6 375.6 497.8 383.5 506.0C391.4 514.2 401.3 524.3 407.3 530.6C411.1 534.4 413.4 536.9 416.5 540.0L404.0 540.0C400.9 536.8 398.4 534.3 394.7 530.5C388.9 524.7 380.2 515.9 373.0 508.5C365.7 501.2 358.4 493.8 351.2 486.6C344.2 479.6 337.3 472.8 330.4 465.9C323.4 459.0 316.4 452.0 309.4 445.3C302.6 438.6 295.9 432.2 289.0 425.7C282.0 419.2 274.2 412.0 267.7 406.3C262.5 401.8 258.3 398.3 253.3 394.3C248.3 390.3 242.6 385.9 237.6 382.3C233.3 379.1 229.1 376.1 225.3 373.6C222.1 371.6 219.4 370.1 216.5 368.4C213.5 366.8 209.7 364.7 207.5 363.8C206.2 363.2 205.6 363.2 204.4 362.7C202.4 362.0 199.3 360.6 196.8 359.6C194.2 358.7 191.6 357.7 189.0 356.9C186.4 356.1 183.9 355.2 181.4 354.8C178.9 354.4 176.4 354.3 173.9 354.4C171.4 354.6 168.8 355.0 166.4 355.7C163.9 356.5 161.4 357.6 159.1 359.1C156.5 360.7 153.9 362.9 151.6 365.2C149.2 367.8 147.0 370.7 145.1 373.8C143.2 377.0 141.7 380.3 140.2 384.0C138.6 388.3 137.1 393.0 135.8 398.1C134.3 404.1 133.1 410.9 131.9 418.0C130.6 425.9 129.6 433.8 128.6 443.5C127.2 456.3 126.0 473.3 125.0 488.0C124.1 502.5 123.0 522.6 122.6 531.1C122.5 534.7 122.5 536.2 122.4 538.7Z" fill="#e0aaaa" stroke="none"/>
<path d="M122.2 538.7C122.3 536.2 122.3 534.7 122.4 531.1C122.7 522.6 123.6 502.5 124.4 488.0C125.3 473.3 126.2 457.0 127.3 443.4C128.2 431.9 129.3 420.1 130.3 411.7C131.0 406.2 131.5 402.6 132.3 398.0C133.2 393.3 134.3 388.4 135.7 383.9C136.9 379.5 138.4 375.1 140.1 371.2C141.6 367.7 143.3 364.3 145.3 361.3C147.2 358.5 149.3 355.9 151.5 353.8C153.5 352.0 155.5 350.6 157.7 349.5C159.6 348.5 161.7 347.9 163.8 347.5C165.8 347.0 168.0 346.9 170.1 346.9C172.2 346.9 174.2 347.1 176.4 347.5C178.8 347.9 181.4 348.7 183.9 349.4C186.5 350.1 189.3 350.8 191.8 351.6C194.1 352.3 196.7 353.3 198.4 353.7C199.4 354.0 199.9 353.9 200.9 354.2C202.6 354.8 204.9 356.1 207.2 357.3C210.0 358.8 213.5 360.8 216.5 362.7C219.5 364.7 222.1 366.7 225.2 369.1C229.0 372.0 233.4 375.3 237.7 378.8C242.7 382.8 248.3 387.5 253.4 391.8C258.3 396.0 262.5 399.7 267.8 404.4C274.5 410.3 282.8 418.0 290.0 424.7C297.0 431.2 303.7 437.6 310.5 444.2C317.5 450.9 324.5 457.9 331.5 464.8C338.4 471.7 345.3 478.5 352.3 485.5C359.5 492.7 366.8 500.1 374.1 507.4C381.3 514.8 390.0 523.6 395.8 529.4C399.5 533.2 402.0 535.7 405.1 538.9L404.0 540.0C400.9 536.8 398.4 534.3 394.7 530.5C388.9 524.7 380.2 515.9 373.0 508.5C365.7 501.2 358.4 493.8 351.2 486.6C344.2 479.6 337.3 472.8 330.4 465.9C323.4 459.0 316.4 452.0 309.4 445.3C302.6 438.6 295.9 432.2 289.0 425.7C282.0 419.2 274.2 412.0 267.7 406.3C262.5 401.8 258.3 398.3 253.3 394.3C248.3 390.3 242.6 385.9 237.6 382.3C233.3 379.1 229.1 376.1 225.3 373.6C222.1 371.6 219.4 370.1 216.5 368.4C213.5 366.8 209.7 364.7 207.5 363.8C206.2 363.2 205.6 363.2 204.4 362.7C202.4 362.0 199.3 360.6 196.8 359.6C194.2 358.7 191.6 357.7 189.0 356.9C186.4 356.1 183.9 355.2 181.4 354.8C178.9 354.4 176.4 354.3 173.9 354.4C171.4 354.6 168.8 355.0 166.4 355.7C163.9 356.5 161.4 357.6 159.1 359.1C156.5 360.7 153.9 362.9 151.6 365.2C149.2 367.8 147.0 370.7 145.1 373.8C143.2 377.0 141.7 380.3 140.2 384.0C138.6 388.3 137.1 393.0 135.8 398.1C134.3 404.1 133.1 410.9 131.9 418.0C130.6 425.9 129.6 433.8 128.6 443.5C127.2 456.3 126.0 473.3 125.0 488.0C124.1 502.5 123.0 522.6 122.6 531.1C122.5 534.7 122.5 536.2 122.4 538.7Z" fill="#dc9c9c" stroke="none"/>
<path d="M120.4 538.7C120.5 536.2 120.5 534.7 120.6 531.1C120.7 522.6 121.2 501.3 121.4 488.0C121.7 476.6 121.9 467.2 122.2 456.0C122.5 443.9 122.9 430.0 123.3 418.0C123.6 407.3 124.1 394.7 124.5 387.6C124.7 383.8 124.8 382.2 125.1 378.7C125.6 373.8 126.4 366.7 127.2 361.0C128.0 355.7 128.9 350.6 130.0 345.8C131.1 341.4 132.3 337.2 133.9 333.3C135.3 329.7 137.0 326.3 138.9 323.3C140.8 320.5 143.0 317.8 145.2 315.8C147.2 314.0 149.2 312.7 151.4 311.7C153.7 310.7 156.3 310.1 158.7 310.0C160.8 309.8 162.8 310.1 164.9 310.6C167.0 311.1 169.1 312.0 171.2 313.0C173.7 314.2 176.3 315.8 178.8 317.5C181.4 319.2 183.8 321.0 186.4 323.1C189.3 325.6 192.5 328.5 195.3 331.4C197.9 334.1 200.1 336.6 202.6 339.8C205.8 343.7 209.1 348.4 212.6 353.3C216.6 359.0 221.2 365.8 225.4 372.2C229.6 378.6 233.6 384.7 237.8 391.4C242.4 398.7 246.9 406.0 252.1 414.6C258.7 425.4 266.7 438.9 273.9 451.1C281.1 463.3 288.0 475.0 295.5 487.7C303.7 501.6 315.5 521.6 321.2 531.3C324.1 536.2 325.6 538.6 327.7 542.2L313.2 542.2C311.0 538.6 309.4 536.0 306.6 531.3C301.7 523.1 293.4 508.8 286.6 497.2C279.4 485.3 272.1 472.9 264.6 460.8C257.2 448.8 249.0 435.7 241.8 425.1C235.8 416.3 229.3 407.5 224.7 401.2C221.6 397.1 219.6 394.5 217.0 391.1C214.4 387.8 211.4 384.1 209.1 381.2C207.3 378.9 206.0 377.1 204.3 374.9C202.3 372.5 200.1 369.9 197.8 367.5C195.4 364.9 192.8 362.2 190.2 359.9C187.7 357.6 185.2 355.5 182.6 353.6C180.1 351.7 177.4 350.0 175.0 348.7C172.8 347.6 170.8 346.7 168.7 346.1C166.7 345.5 164.5 345.1 162.5 345.1C160.4 345.0 158.3 345.2 156.2 345.7C154.2 346.2 152.2 347.1 150.2 348.3C148.0 349.7 145.8 351.6 143.9 353.7C142.0 355.9 140.4 358.4 138.8 361.2C137.0 364.5 135.3 368.5 133.8 372.5C132.2 376.9 130.8 381.8 129.7 386.4C128.6 390.7 127.9 394.4 127.2 399.1C126.4 404.8 126.0 410.6 125.4 418.0C124.6 428.5 124.0 443.9 123.5 456.0C123.0 467.2 122.8 476.6 122.4 488.0C122.1 501.3 121.5 522.6 121.3 531.1C121.2 534.7 121.1 536.2 121.1 538.7Z" fill="#c6c6ff" stroke="none"/>
<path d="M120.7 538.7C120.7 536.2 120.8 534.7 120.8 531.1C121.0 522.6 121.5 501.3 121.8 488.0C122.1 476.6 122.3 467.2 122.6 456.0C123.0 443.9 123.6 430.0 124.1 418.0C124.6 407.3 125.1 394.8 125.7 387.7C126.0 383.8 126.2 382.4 126.7 378.7C127.6 372.4 129.3 360.4 130.7 353.4C131.7 348.5 132.6 344.6 133.9 340.8C134.9 337.6 136.1 334.7 137.6 332.1C139.0 329.6 140.7 327.2 142.7 325.3C144.5 323.3 146.7 321.6 148.8 320.3C150.8 319.1 152.9 318.2 155.0 317.7C157.0 317.2 159.1 317.0 161.2 317.0C163.3 317.1 165.4 317.5 167.4 318.1C169.6 318.7 171.6 319.6 173.7 320.7C176.2 322.0 178.9 323.8 181.4 325.7C184.0 327.6 186.5 329.7 189.0 332.0C191.6 334.3 194.1 336.9 196.6 339.6C199.1 342.4 201.4 345.2 204.0 348.5C207.1 352.6 210.4 357.2 213.9 362.2C217.9 367.9 222.5 374.7 226.7 381.1C230.9 387.4 235.2 394.1 239.1 400.3C242.7 405.9 245.2 410.1 249.2 416.7C255.1 426.5 263.7 441.0 270.9 453.2C278.1 465.4 285.1 477.3 292.5 489.8C300.4 503.2 311.5 521.9 317.1 531.3C320.0 536.1 321.5 538.6 323.6 542.2L313.2 542.2C311.0 538.6 309.4 536.0 306.6 531.3C301.7 523.1 293.4 508.8 286.6 497.2C279.4 485.3 272.1 472.9 264.6 460.8C257.2 448.8 249.0 435.7 241.8 425.1C235.8 416.3 229.3 407.5 224.7 401.2C221.6 397.1 219.6 394.5 217.0 391.1C214.4 387.8 211.4 384.1 209.1 381.2C207.3 378.9 206.0 377.1 204.3 374.9C202.3 372.5 200.1 369.9 197.8 367.5C195.4 364.9 192.8 362.2 190.2 359.9C187.7 357.6 185.2 355.5 182.6 353.6C180.1 351.7 177.4 350.0 175.0 348.7C172.8 347.6 170.8 346.7 168.7 346.1C166.7 345.5 164.5 345.1 162.5 345.1C160.4 345.0 158.3 345.2 156.2 345.7C154.2 346.2 152.2 347.1 150.2 348.3C148.0 349.7 145.8 351.6 143.9 353.7C142.0 355.9 140.4 358.4 138.8 361.2C137.0 364.5 135.3 368.5 133.8 372.5C132.2 376.9 130.8 381.8 129.7 386.4C128.6 390.7 127.9 394.4 127.2 399.1C126.4 404.8 126.0 410.6 125.4 418.0C124.6 428.5 124.0 443.9 123.5 456.0C123.0 467.2 122.8 476.6 122.4 488.0C122.1 501.3 121.5 522.6 121.3 531.1C121.2 534.7 121.1 536.2 121.1 538.7Z" fill="#aaaaff" stroke="none"/>
<path d="M120.9 538.7C121.0 536.2 121.0 534.7 121.1 531.1C121.3 522.6 121.8 501.3 122.2 488.0C122.5 476.6 122.7 467.2 123.1 456.0C123.5 443.9 124.0 428.5 124.7 418.0C125.1 410.6 125.5 405.5 126.2 399.1C127.0 392.4 128.1 384.7 129.3 378.8C130.2 374.1 131.2 370.1 132.4 366.1C133.5 362.6 134.7 359.3 136.2 356.1C137.7 353.0 139.4 349.8 141.3 347.2C142.9 344.9 144.6 342.9 146.6 341.2C148.4 339.7 150.5 338.4 152.6 337.6C154.5 336.8 156.6 336.4 158.7 336.3C160.7 336.2 162.9 336.5 164.9 336.9C167.1 337.4 169.1 338.2 171.2 339.2C173.6 340.3 176.3 341.9 178.7 343.6C181.3 345.4 183.9 347.5 186.4 349.7C189.0 352.1 191.5 354.6 194.0 357.3C196.7 360.1 199.3 363.1 201.8 366.1C204.2 369.0 206.5 371.8 209.0 374.9C211.5 378.1 214.2 381.5 216.8 384.8C219.4 388.2 221.3 390.7 224.4 395.0C229.5 402.3 237.8 414.4 244.6 424.8C252.0 436.2 259.8 448.7 267.2 460.8C274.6 472.9 281.9 485.3 289.0 497.3C295.8 508.8 304.2 523.1 309.1 531.3C311.9 536.0 313.5 538.6 315.7 542.2L313.2 542.2C311.0 538.6 309.4 536.0 306.6 531.3C301.7 523.1 293.4 508.8 286.6 497.2C279.4 485.3 272.1 472.9 264.6 460.8C257.2 448.8 249.0 435.7 241.8 425.1C235.8 416.3 229.3 407.5 224.7 401.2C221.6 397.1 219.6 394.5 217.0 391.1C214.4 387.8 211.4 384.1 209.1 381.2C207.3 378.9 206.0 377.1 204.3 374.9C202.3 372.5 200.1 369.9 197.8 367.5C195.4 364.9 192.8 362.2 190.2 359.9C187.7 357.6 185.2 355.5 182.6 353.6C180.1 351.7 177.4 350.0 175.0 348.7C172.8 347.6 170.8 346.7 168.7 346.1C166.7 345.5 164.5 345.1 162.5 345.1C160.4 345.0 158.3 345.2 156.2 345.7C154.2 346.2 152.2 347.1 150.2 348.3C148.0 349.7 145.8 351.6 143.9 353.7C142.0 355.9 140.4 358.4 138.8 361.2C137.0 364.5 135.3 368.5 133.8 372.5C132.2 376.9 130.8 381.8 129.7 386.4C128.6 390.7 127.9 394.4 127.2 399.1C126.4 404.8 126.0 410.6 125.4 418.0C124.6 428.5 124.0 443.9 123.5 456.0C123.0 467.2 122.8 476.6 122.4 488.0C122.1 501.3 121.5 522.6 121.3 531.1C121.2 534.7 121.1 536.2 121.1 538.7Z" fill="#9c9cff" stroke="none"/>
<path d="M121.1 538.7C121.1 536.2 121.2 534.7 121.3 531.1C121.5 522.6 122.1 501.3 122.4 488.0C122.8 476.6 123.0 467.2 123.5 456.0C124.0 443.9 124.6 428.5 125.4 418.0C126.0 410.6 126.4 404.8 127.2 399.1C127.9 394.4 128.6 390.7 129.7 386.4C130.8 381.8 132.2 376.9 133.8 372.5C135.3 368.5 137.0 364.5 138.8 361.2C140.4 358.4 142.0 355.9 143.9 353.7C145.8 351.6 148.0 349.7 150.2 348.3C152.2 347.1 154.2 346.2 156.2 345.7C158.3 345.2 160.4 345.0 162.5 345.1C164.5 345.1 166.7 345.5 168.7 346.1C170.8 346.7 172.8 347.6 175.0 348.7C177.4 350.0 180.1 351.7 182.6 353.6C185.2 355.5 187.7 357.6 190.2 359.9C192.8 362.2 195.4 364.9 197.8 367.5C200.1 369.9 202.3 372.5 204.3 374.9C206.0 377.1 207.3 378.9 209.1 381.2C211.4 384.1 214.4 387.8 217.0 391.1C219.6 394.5 221.6 397.1 224.7 401.2C229.3 407.5 235.8 416.3 241.8 425.1C249.0 435.7 257.2 448.8 264.6 460.8C272.1 472.9 279.4 485.3 286.6 497.2C293.4 508.8 301.7 523.1 306.6 531.3C309.4 536.0 311.0 538.6 313.2 542.2" stroke="#0000b0" stroke-width="2.3" stroke-dasharray="1.7 3.05" stroke-dashoffset="-1.15"/>
<path d="M122.4 538.7C122.5 536.2 122.5 534.7 122.6 531.1C123.0 522.6 124.1 502.5 125.0 488.0C126.0 473.3 127.2 456.3 128.6 443.5C129.6 433.8 130.6 425.9 131.9 418.0C133.1 410.9 134.3 404.1 135.8 398.1C137.1 393.0 138.6 388.3 140.2 384.0C141.7 380.3 143.2 377.0 145.1 373.8C147.0 370.7 149.2 367.8 151.6 365.2C153.9 362.9 156.5 360.7 159.1 359.1C161.4 357.6 163.9 356.5 166.4 355.7C168.8 355.0 171.4 354.6 173.9 354.4C176.4 354.3 178.9 354.4 181.4 354.8C183.9 355.2 186.4 356.1 189.0 356.9C191.6 357.7 194.2 358.7 196.8 359.6C199.3 360.6 202.4 362.0 204.4 362.7C205.6 363.2 206.2 363.2 207.5 363.8C209.7 364.7 213.5 366.8 216.5 368.4C219.4 370.1 222.1 371.6 225.3 373.6C229.1 376.1 233.3 379.1 237.6 382.3C242.6 385.9 248.3 390.3 253.3 394.3C258.3 398.3 262.5 401.8 267.7 406.3C274.2 412.0 282.0 419.2 289.0 425.7C295.9 432.2 302.6 438.6 309.4 445.3C316.4 452.0 323.4 459.0 330.4 465.9C337.3 472.8 344.2 479.6 351.2 486.6C358.4 493.8 365.7 501.2 373.0 508.5C380.2 515.9 388.9 524.7 394.7 530.5C398.4 534.3 400.9 536.8 404.0 540.0" stroke="#a80000" stroke-width="2.3" stroke-dasharray="1.7 3.05" stroke-dashoffset="-1.15"/>
<path d="M127.6 538.7C127.9 536.2 128.0 534.4 128.5 531.1C129.2 525.3 130.8 515.1 132.3 507.0C133.8 498.8 135.7 488.5 137.4 482.0C138.6 477.6 139.4 475.0 140.8 471.2C142.3 466.8 144.2 461.9 146.2 457.4C148.2 452.7 150.4 448.0 152.8 443.6C155.1 439.2 157.6 434.9 160.3 430.9C163.1 427.0 166.1 423.1 169.4 419.8C172.5 416.5 175.9 413.5 179.4 411.0C182.6 408.7 185.9 406.7 189.3 405.1C192.6 403.6 195.7 402.5 199.4 401.4C203.5 400.2 208.3 399.2 212.7 398.5C217.0 397.7 221.1 397.2 225.4 396.8C229.6 396.5 233.8 396.3 238.0 396.2C242.2 396.1 246.5 396.1 250.7 396.2C254.9 396.3 259.1 396.5 263.4 396.7C267.6 396.9 271.8 397.1 276.0 397.4C280.3 397.6 284.6 397.9 288.7 398.1C292.8 398.4 296.9 398.5 300.7 398.9C304.4 399.3 307.3 399.7 311.5 400.4C317.5 401.4 325.9 403.2 333.0 404.7C340.2 406.3 347.4 408.1 354.6 409.9C361.8 411.6 369.0 413.4 376.2 415.0C383.4 416.7 390.6 418.3 397.7 419.9C404.9 421.5 411.7 422.9 419.3 424.5C427.8 426.2 440.0 428.7 446.2 429.9C449.5 430.6 451.2 430.9 453.8 431.4" stroke="#0a640a" stroke-width="2.3" stroke-dasharray="1.7 3.05" stroke-dashoffset="-1.15"/>
<path d="M120.9 538.7C121.0 536.2 121.0 534.7 121.1 531.1C121.3 522.6 121.8 501.3 122.2 488.0C122.5 476.6 122.7 467.2 123.1 456.0C123.5 443.9 124.0 428.5 124.7 418.0C125.1 410.6 125.5 405.5 126.2 399.1C127.0 392.4 128.1 384.7 129.3 378.8C130.2 374.1 131.2 370.1 132.4 366.1C133.5 362.6 134.7 359.3 136.2 356.1C137.7 353.0 139.4 349.8 141.3 347.2C142.9 344.9 144.6 342.9 146.6 341.2C148.4 339.7 150.5 338.4 152.6 337.6C154.5 336.8 156.6 336.4 158.7 336.3C160.7 336.2 162.9 336.5 164.9 336.9C167.1 337.4 169.1 338.2 171.2 339.2C173.6 340.3 176.3 341.9 178.7 343.6C181.3 345.4 183.9 347.5 186.4 349.7C189.0 352.1 191.5 354.6 194.0 357.3C196.7 360.1 199.3 363.1 201.8 366.1C204.2 369.0 206.5 371.8 209.0 374.9C211.5 378.1 214.2 381.5 216.8 384.8C219.4 388.2 221.3 390.7 224.4 395.0C229.5 402.3 237.8 414.4 244.6 424.8C252.0 436.2 259.8 448.7 267.2 460.8C274.6 472.9 281.9 485.3 289.0 497.3C295.8 508.8 304.2 523.1 309.1 531.3C311.9 536.0 313.5 538.6 315.7 542.2" stroke="#0000b0" stroke-width="2.4" stroke-dasharray="4 5.5"/>
<path d="M122.2 538.7C122.3 536.2 122.3 534.7 122.4 531.1C122.7 522.6 123.6 502.5 124.4 488.0C125.3 473.3 126.2 457.0 127.3 443.4C128.2 431.9 129.3 420.1 130.3 411.7C131.0 406.2 131.5 402.6 132.3 398.0C133.2 393.3 134.3 388.4 135.7 383.9C136.9 379.5 138.4 375.1 140.1 371.2C141.6 367.7 143.3 364.3 145.3 361.3C147.2 358.5 149.3 355.9 151.5 353.8C153.5 352.0 155.5 350.6 157.7 349.5C159.6 348.5 161.7 347.9 163.8 347.5C165.8 347.0 168.0 346.9 170.1 346.9C172.2 346.9 174.2 347.1 176.4 347.5C178.8 347.9 181.4 348.7 183.9 349.4C186.5 350.1 189.3 350.8 191.8 351.6C194.1 352.3 196.7 353.3 198.4 353.7C199.4 354.0 199.9 353.9 200.9 354.2C202.6 354.8 204.9 356.1 207.2 357.3C210.0 358.8 213.5 360.8 216.5 362.7C219.5 364.7 222.1 366.7 225.2 369.1C229.0 372.0 233.4 375.3 237.7 378.8C242.7 382.8 248.3 387.5 253.4 391.8C258.3 396.0 262.5 399.7 267.8 404.4C274.5 410.3 282.8 418.0 290.0 424.7C297.0 431.2 303.7 437.6 310.5 444.2C317.5 450.9 324.5 457.9 331.5 464.8C338.4 471.7 345.3 478.5 352.3 485.5C359.5 492.7 366.8 500.1 374.1 507.4C381.3 514.8 390.0 523.6 395.8 529.4C399.5 533.2 402.0 535.7 405.1 538.9" stroke="#a80000" stroke-width="2.4" stroke-dasharray="4 5.5"/>
<path d="M126.3 538.7C126.4 536.2 126.5 534.4 126.8 531.1C127.4 525.3 128.8 515.2 130.0 507.1C131.4 498.8 133.1 488.9 134.7 481.9C135.8 476.7 136.8 473.3 138.2 468.7C139.8 463.5 141.8 457.6 143.8 452.3C145.8 447.2 147.9 442.1 150.3 437.2C152.6 432.5 155.1 427.7 158.0 423.4C160.7 419.4 163.6 415.6 166.8 412.2C169.9 408.9 173.3 405.8 176.8 403.3C180.0 401.0 183.4 399.2 186.8 397.6C190.1 396.1 194.3 394.5 196.7 393.8C198.1 393.5 198.5 393.5 200.0 393.3C202.8 392.9 208.5 392.1 212.7 391.7C216.9 391.2 221.1 390.8 225.4 390.5C229.6 390.2 233.8 390.0 238.0 389.9C242.2 389.9 246.5 390.0 250.7 390.1C254.9 390.3 259.1 390.5 263.4 390.9C267.6 391.2 271.8 391.6 276.0 392.1C280.3 392.5 284.5 393.1 288.7 393.7C292.8 394.3 296.9 395.0 300.8 395.7C304.5 396.4 307.3 396.9 311.5 397.8C317.5 399.0 325.9 400.9 333.0 402.6C340.2 404.2 347.4 406.0 354.6 407.7C361.8 409.4 369.0 411.2 376.2 412.9C383.4 414.6 390.6 416.2 397.7 417.8C404.9 419.3 411.7 420.7 419.3 422.3C427.8 424.1 440.0 426.5 446.2 427.8C449.5 428.4 451.2 428.8 453.8 429.3" stroke="#0a640a" stroke-width="2.4" stroke-dasharray="4 5.5"/>
<path d="M120.7 538.7C120.7 536.2 120.8 534.7 120.8 531.1C121.0 522.6 121.5 501.3 121.8 488.0C122.1 476.6 122.3 467.2 122.6 456.0C123.0 443.9 123.6 430.0 124.1 418.0C124.6 407.3 125.1 394.8 125.7 387.7C126.0 383.8 126.2 382.4 126.7 378.7C127.6 372.4 129.3 360.4 130.7 353.4C131.7 348.5 132.6 344.6 133.9 340.8C134.9 337.6 136.1 334.7 137.6 332.1C139.0 329.6 140.7 327.2 142.7 325.3C144.5 323.3 146.7 321.6 148.8 320.3C150.8 319.1 152.9 318.2 155.0 317.7C157.0 317.2 159.1 317.0 161.2 317.0C163.3 317.1 165.4 317.5 167.4 318.1C169.6 318.7 171.6 319.6 173.7 320.7C176.2 322.0 178.9 323.8 181.4 325.7C184.0 327.6 186.5 329.7 189.0 332.0C191.6 334.3 194.1 336.9 196.6 339.6C199.1 342.4 201.4 345.2 204.0 348.5C207.1 352.6 210.4 357.2 213.9 362.2C217.9 367.9 222.5 374.7 226.7 381.1C230.9 387.4 235.2 394.1 239.1 400.3C242.7 405.9 245.2 410.1 249.2 416.7C255.1 426.5 263.7 441.0 270.9 453.2C278.1 465.4 285.1 477.3 292.5 489.8C300.4 503.2 311.5 521.9 317.1 531.3C320.0 536.1 321.5 538.6 323.6 542.2" stroke="#0000b0" stroke-width="2.5" stroke-dasharray="7.8 3.7"/>
<path d="M121.9 538.7C122.0 536.2 122.0 534.7 122.2 531.1C122.5 522.6 123.3 502.5 124.0 488.0C124.6 473.3 125.3 457.0 126.0 443.4C126.6 431.9 127.2 420.0 127.7 411.7C128.1 406.2 128.2 402.6 128.7 398.0C129.1 393.3 129.7 388.4 130.5 383.8C131.2 379.5 132.0 375.1 133.0 371.2C133.9 367.6 134.9 364.5 136.2 361.1C137.6 357.4 139.4 353.3 141.3 349.7C143.3 346.2 145.5 342.6 147.8 339.8C149.8 337.3 151.7 335.3 154.0 333.6C156.3 331.8 158.9 330.3 161.5 329.3C163.9 328.3 166.4 327.8 168.8 327.4C171.3 327.1 173.9 327.2 176.4 327.4C178.9 327.6 181.5 328.2 184.0 328.8C186.5 329.5 189.1 330.4 191.6 331.4C194.1 332.4 196.2 333.4 199.1 335.0C203.0 337.1 208.2 340.3 212.6 343.1C216.9 345.9 221.0 348.7 225.1 351.7C229.4 354.8 233.7 358.2 237.9 361.6C242.2 365.1 246.3 368.7 250.5 372.5C254.8 376.3 259.1 380.4 263.3 384.5C267.6 388.6 271.9 392.7 276.1 396.9C280.3 401.0 283.9 404.5 288.7 409.2C294.9 415.5 302.9 423.4 310.4 431.0C318.7 439.3 327.8 448.6 336.2 457.1C344.2 465.4 352.0 473.4 359.9 481.5C367.8 489.6 375.6 497.8 383.5 506.0C391.4 514.2 401.3 524.3 407.3 530.6C411.1 534.4 413.4 536.9 416.5 540.0" stroke="#a80000" stroke-width="2.5" stroke-dasharray="7.8 3.7"/>
<path d="M124.7 538.7C124.9 536.2 124.9 534.4 125.1 531.1C125.6 525.3 126.5 515.2 127.4 507.1C128.3 498.7 129.5 488.8 130.7 481.8C131.5 476.7 132.2 473.3 133.2 468.7C134.4 463.5 135.8 457.8 137.5 452.3C139.2 446.5 141.2 440.3 143.4 434.7C145.5 429.4 147.7 424.2 150.2 419.5C152.6 415.0 155.3 410.8 157.9 407.0C160.3 403.5 162.6 400.4 165.2 397.3C167.8 394.2 171.0 390.9 173.5 388.5C175.3 386.7 176.5 385.3 178.4 383.9C180.8 382.2 183.8 380.6 186.8 379.3C189.9 377.8 194.2 376.0 196.7 375.4C198.1 375.1 198.5 375.1 200.0 375.0C202.9 374.6 208.5 373.8 212.7 373.5C216.9 373.1 221.1 372.8 225.4 372.6C229.6 372.4 233.8 372.3 238.0 372.4C242.2 372.5 246.5 372.7 250.7 373.0C254.9 373.3 259.1 373.7 263.4 374.2C267.6 374.7 271.8 375.2 276.0 375.8C280.3 376.3 284.5 377.0 288.7 377.6C292.8 378.3 296.9 379.0 300.8 379.7C304.5 380.5 307.3 381.1 311.5 382.0C317.5 383.4 325.9 385.6 333.0 387.4C340.2 389.3 347.5 391.3 354.7 393.2C361.9 395.1 369.1 397.0 376.3 398.8C383.4 400.6 390.6 402.3 397.7 404.0C404.9 405.6 411.7 407.1 419.3 408.7C427.8 410.5 440.0 412.9 446.2 414.2C449.5 414.8 451.2 415.2 453.8 415.7" stroke="#0a640a" stroke-width="2.5" stroke-dasharray="7.8 3.7"/>
<path d="M120.4 538.7C120.5 536.2 120.5 534.7 120.6 531.1C120.7 522.6 121.2 501.3 121.4 488.0C121.7 476.6 121.9 467.2 122.2 456.0C122.5 443.9 122.9 430.0 123.3 418.0C123.6 407.3 124.1 394.7 124.5 387.6C124.7 383.8 124.8 382.2 125.1 378.7C125.6 373.8 126.4 366.7 127.2 361.0C128.0 355.7 128.9 350.6 130.0 345.8C131.1 341.4 132.3 337.2 133.9 333.3C135.3 329.7 137.0 326.3 138.9 323.3C140.8 320.5 143.0 317.8 145.2 315.8C147.2 314.0 149.2 312.7 151.4 311.7C153.7 310.7 156.3 310.1 158.7 310.0C160.8 309.8 162.8 310.1 164.9 310.6C167.0 311.1 169.1 312.0 171.2 313.0C173.7 314.2 176.3 315.8 178.8 317.5C181.4 319.2 183.8 321.0 186.4 323.1C189.3 325.6 192.5 328.5 195.3 331.4C197.9 334.1 200.1 336.6 202.6 339.8C205.8 343.7 209.1 348.4 212.6 353.3C216.6 359.0 221.2 365.8 225.4 372.2C229.6 378.6 233.6 384.7 237.8 391.4C242.4 398.7 246.9 406.0 252.1 414.6C258.7 425.4 266.7 438.9 273.9 451.1C281.1 463.3 288.0 475.0 295.5 487.7C303.7 501.6 315.5 521.6 321.2 531.3C324.1 536.2 325.6 538.6 327.7 542.2" stroke="#0000b0" stroke-width="3.4"/>
<path d="M121.7 538.7C121.8 536.2 121.8 534.7 121.9 531.1C122.2 522.6 123.0 502.5 123.5 488.0C124.1 473.3 124.7 457.0 125.3 443.4C125.7 431.9 126.3 420.1 126.7 411.7C127.0 406.2 127.1 402.6 127.5 398.0C127.9 393.3 128.4 388.6 129.1 383.8C129.8 378.8 130.7 373.6 131.8 368.6C132.9 363.9 134.2 359.0 135.7 354.8C137.0 351.1 138.3 348.0 140.1 344.7C141.9 341.3 144.1 337.6 146.4 334.6C148.4 332.0 150.4 329.8 152.8 327.8C155.1 325.9 157.7 324.1 160.2 322.9C162.6 321.7 165.1 320.9 167.6 320.3C170.1 319.8 172.6 319.7 175.1 319.8C177.6 319.8 180.2 320.2 182.7 320.7C185.3 321.2 187.7 322.1 190.3 322.9C193.1 323.9 197.5 325.5 199.1 326.3C199.7 326.6 199.7 326.6 200.3 327.0C202.2 328.2 208.3 331.9 212.4 334.7C216.6 337.6 221.0 340.7 225.2 343.9C229.5 347.1 233.8 350.5 238.0 353.9C242.2 357.5 246.3 361.1 250.5 364.9C254.8 368.7 259.2 372.8 263.4 376.8C267.6 380.8 271.8 384.8 275.9 388.9C280.2 393.0 283.8 396.7 288.6 401.6C295.0 408.1 303.0 416.5 310.6 424.4C318.8 433.0 327.7 442.3 336.0 451.0C344.2 459.5 351.9 467.6 360.2 476.1C368.7 485.0 377.6 494.0 386.5 503.0C395.5 512.2 407.0 523.8 413.7 530.6C417.6 534.6 419.9 536.9 423.0 540.0" stroke="#a80000" stroke-width="3.4"/>
<path d="M123.8 538.7C124.0 536.2 124.0 534.4 124.2 531.1C124.6 525.3 125.3 515.2 126.0 507.1C126.8 498.7 127.8 488.8 128.7 481.7C129.4 476.7 129.9 473.4 130.8 468.7C131.9 463.3 133.3 456.9 134.9 451.0C136.5 445.1 138.2 439.0 140.2 433.4C142.1 428.1 144.1 423.1 146.4 418.2C148.7 413.4 151.6 408.7 154.2 404.5C156.6 400.7 159.0 397.3 161.4 394.1C163.7 391.2 166.3 388.1 168.3 385.9C169.7 384.3 170.5 383.2 172.1 381.8C174.3 379.8 177.6 377.3 180.6 375.5C183.3 373.8 186.3 372.5 189.2 371.3C192.0 370.2 195.8 369.0 197.8 368.6C198.8 368.4 199.1 368.5 200.2 368.4C202.7 368.1 208.5 367.2 212.7 366.7C216.9 366.3 221.1 365.9 225.4 365.7C229.6 365.4 233.8 365.2 238.0 365.2C242.2 365.2 246.5 365.5 250.7 365.8C254.9 366.2 259.1 366.6 263.3 367.1C267.6 367.7 271.8 368.3 276.1 369.0C280.3 369.6 284.5 370.3 288.7 371.1C292.8 371.8 296.9 372.5 300.8 373.3C304.5 374.0 307.3 374.6 311.5 375.6C317.5 377.0 325.9 379.1 333.0 381.0C340.2 382.9 347.5 384.8 354.7 386.7C361.9 388.6 369.1 390.6 376.3 392.4C383.4 394.2 390.6 395.9 397.7 397.5C404.9 399.2 411.7 400.6 419.3 402.2C427.8 404.0 440.0 406.5 446.2 407.7C449.5 408.4 451.2 408.7 453.8 409.2" stroke="#0a640a" stroke-width="3.4"/>
</g>
<g clip-path="url(#cp11)" fill="none" stroke-linecap="butt" stroke-linejoin="round">
<path d="M461.0 538.7C461.1 536.2 461.1 534.4 461.3 531.1C461.5 525.3 462.1 515.2 462.7 507.0C463.2 498.7 463.8 489.5 464.5 481.7C465.0 474.9 465.6 468.5 466.2 462.7C466.7 457.6 467.1 453.6 467.8 448.5C468.6 442.3 469.8 434.8 471.0 428.2C472.2 421.8 473.6 414.8 475.0 409.3C476.1 405.0 477.1 401.8 478.4 398.0C479.7 394.1 481.2 390.2 482.9 386.4C484.5 382.5 486.2 378.8 488.1 375.0C490.0 371.2 492.1 367.4 494.4 363.7C496.8 359.8 499.5 355.8 502.1 352.3C504.5 349.1 507.0 346.2 509.6 343.5C512.0 340.9 514.5 338.6 517.1 336.4C519.6 334.4 522.1 332.5 524.7 330.8C527.2 329.1 529.7 327.7 532.3 326.3C534.8 325.1 537.0 324.1 539.9 323.0C543.6 321.5 548.4 319.9 552.7 318.7C556.9 317.4 561.2 316.3 565.4 315.5C569.6 314.6 573.8 314.0 578.1 313.5C582.3 313.1 586.5 312.8 590.7 312.7C594.9 312.7 599.1 312.8 603.4 313.0C607.6 313.3 611.8 313.7 616.0 314.1C620.3 314.6 624.5 315.2 628.7 315.9C632.9 316.6 636.6 317.4 641.4 318.5C647.6 320.0 655.6 322.2 662.7 324.3C669.9 326.4 677.1 328.8 684.2 331.2C691.4 333.7 698.5 336.4 705.6 339.2C712.8 341.9 719.9 344.8 727.1 347.7C734.2 350.6 741.4 353.6 748.6 356.6C755.7 359.5 763.6 362.8 769.9 365.4C775.1 367.5 779.9 369.5 783.9 371.2C786.8 372.4 788.9 373.3 791.4 374.3L791.4 387.4C788.9 386.3 786.8 385.4 783.9 384.2C780.0 382.5 775.1 380.4 770.0 378.2C763.6 375.5 755.7 372.0 748.5 369.0C741.4 366.0 734.3 363.0 727.1 360.0C720.0 357.0 712.8 354.0 705.6 351.1C698.5 348.3 691.4 345.6 684.2 343.0C677.1 340.5 669.9 338.0 662.7 335.7C655.6 333.6 647.6 331.3 641.4 329.8C636.6 328.6 632.9 327.8 628.7 327.1C624.5 326.4 620.3 326.0 616.0 325.6C611.8 325.3 607.6 325.1 603.4 325.0C599.1 325.0 594.9 325.1 590.7 325.4C586.5 325.7 582.3 326.1 578.1 326.8C573.8 327.5 569.6 328.5 565.5 329.8C561.3 331.0 557.1 332.6 553.0 334.3C548.6 336.1 542.6 339.1 539.9 340.5C538.7 341.1 538.3 341.3 537.2 342.0C535.4 343.1 532.3 345.0 529.8 346.7C527.3 348.4 524.6 350.2 522.1 352.2C519.5 354.2 517.0 356.3 514.6 358.6C512.0 361.0 509.5 363.5 507.2 366.4C504.6 369.4 502.1 373.0 499.8 376.5C497.4 380.1 495.1 384.0 493.1 387.7C491.2 391.1 489.4 394.7 487.9 397.7C486.6 400.1 485.7 401.8 484.5 404.4C482.9 407.9 481.1 412.5 479.6 417.0C477.8 422.0 476.1 427.7 474.7 433.3C473.2 439.0 471.9 445.7 470.8 451.0C470.0 455.3 469.5 458.3 468.9 462.7C468.1 468.3 467.3 474.9 466.5 481.7C465.7 489.5 464.9 498.7 464.2 507.0C463.5 515.2 462.9 525.3 462.6 531.1C462.4 534.4 462.3 536.2 462.2 538.7Z" fill="#c8c8c8" stroke="none"/>
<path d="M461.8 540.3C461.9 537.8 461.9 536.0 462.1 532.7C462.3 526.9 462.9 516.8 463.5 508.6C464.0 500.3 464.6 491.1 465.3 483.3C465.8 476.5 466.4 470.1 467.0 464.3C467.5 459.2 467.9 455.2 468.6 450.1C469.4 443.9 470.6 436.4 471.8 429.8C473.0 423.4 474.4 416.4 475.8 410.9C476.9 406.6 477.9 403.4 479.2 399.6C480.5 395.7 482.0 391.8 483.7 388.0C485.3 384.1 487.0 380.4 488.9 376.6C490.8 372.8 492.9 369.0 495.2 365.3C497.6 361.4 500.3 357.4 502.9 353.9C505.3 350.7 507.8 347.8 510.4 345.1C512.8 342.5 515.3 340.2 517.9 338.0C520.4 336.0 522.9 334.1 525.5 332.4C528.0 330.7 530.5 329.3 533.1 327.9C535.6 326.7 537.8 325.7 540.7 324.6C544.4 323.1 549.2 321.5 553.5 320.3C557.7 319.0 562.0 317.9 566.2 317.1C570.4 316.2 574.6 315.6 578.9 315.1C583.1 314.7 587.3 314.4 591.5 314.3C595.7 314.3 599.9 314.4 604.2 314.6C608.4 314.9 612.6 315.3 616.8 315.7C621.1 316.2 625.3 316.8 629.5 317.5C633.7 318.2 637.4 319.0 642.2 320.1C648.4 321.6 656.4 323.8 663.5 325.9C670.7 328.0 677.9 330.4 685.0 332.8C692.2 335.3 699.3 338.0 706.4 340.8C713.6 343.5 720.7 346.4 727.9 349.3C735.0 352.2 742.2 355.2 749.4 358.2C756.5 361.1 764.4 364.4 770.7 367.0C775.9 369.1 780.7 371.1 784.7 372.8C787.6 374.0 789.7 374.9 792.2 375.9L791.4 387.4C788.9 386.3 786.8 385.4 783.9 384.2C780.0 382.5 775.1 380.4 770.0 378.2C763.6 375.5 755.7 372.0 748.5 369.0C741.4 366.0 734.3 363.0 727.1 360.0C720.0 357.0 712.8 354.0 705.6 351.1C698.5 348.3 691.4 345.6 684.2 343.0C677.1 340.5 669.9 338.0 662.7 335.7C655.6 333.6 647.6 331.3 641.4 329.8C636.6 328.6 632.9 327.8 628.7 327.1C624.5 326.4 620.3 326.0 616.0 325.6C611.8 325.3 607.6 325.1 603.4 325.0C599.1 325.0 594.9 325.1 590.7 325.4C586.5 325.7 582.3 326.1 578.1 326.8C573.8 327.5 569.6 328.5 565.5 329.8C561.3 331.0 557.1 332.6 553.0 334.3C548.6 336.1 542.6 339.1 539.9 340.5C538.7 341.1 538.3 341.3 537.2 342.0C535.4 343.1 532.3 345.0 529.8 346.7C527.3 348.4 524.6 350.2 522.1 352.2C519.5 354.2 517.0 356.3 514.6 358.6C512.0 361.0 509.5 363.5 507.2 366.4C504.6 369.4 502.1 373.0 499.8 376.5C497.4 380.1 495.1 384.0 493.1 387.7C491.2 391.1 489.4 394.7 487.9 397.7C486.6 400.1 485.7 401.8 484.5 404.4C482.9 407.9 481.1 412.5 479.6 417.0C477.8 422.0 476.1 427.7 474.7 433.3C473.2 439.0 471.9 445.7 470.8 451.0C470.0 455.3 469.5 458.3 468.9 462.7C468.1 468.3 467.3 474.9 466.5 481.7C465.7 489.5 464.9 498.7 464.2 507.0C463.5 515.2 462.9 525.3 462.6 531.1C462.4 534.4 462.3 536.2 462.2 538.7Z" fill="#aaaaaa" stroke="none"/>
<path d="M459.1 538.7C459.1 536.2 459.1 534.7 459.2 531.1C459.4 522.4 460.0 500.1 460.3 486.7C460.6 475.7 460.9 463.1 461.2 456.5C461.3 453.4 461.4 452.7 461.6 449.5C462.0 443.0 462.8 429.7 463.5 419.3C464.2 408.3 465.2 394.4 465.9 385.1C466.4 378.6 466.7 373.9 467.4 368.6C468.1 363.8 468.8 359.2 469.9 354.7C470.9 350.4 472.1 346.1 473.6 342.1C475.1 338.2 476.8 334.2 478.7 330.8C480.4 327.6 482.3 324.6 484.4 321.9C486.3 319.4 488.4 317.1 490.8 315.2C493.1 313.2 495.7 311.5 498.2 310.2C500.6 309.0 503.0 308.1 505.6 307.5C508.4 306.8 511.6 306.4 514.4 306.3C517.0 306.2 519.5 306.4 522.0 306.7C524.5 307.1 527.1 307.8 529.6 308.6C532.1 309.4 535.0 310.5 537.0 311.3C538.3 311.9 538.8 312.3 540.3 313.0C543.1 314.6 548.5 317.5 552.6 320.0C556.7 322.5 560.8 325.1 565.0 327.9C569.3 330.9 573.7 334.2 577.9 337.6C582.2 341.0 586.4 344.6 590.6 348.4C594.9 352.3 599.0 356.4 603.2 360.5C607.4 364.7 612.7 369.9 615.8 373.2C617.7 375.3 618.3 376.0 620.3 378.3C624.7 383.5 634.3 394.7 640.9 402.9C647.4 410.9 653.6 418.9 659.6 426.9C665.4 434.7 671.0 442.4 676.6 450.2C682.1 457.9 687.4 465.6 692.9 473.3C698.3 480.9 703.7 488.6 709.2 496.2C714.6 503.9 720.9 512.7 725.6 519.2C729.0 524.1 731.9 528.1 734.6 532.0C736.9 535.3 738.9 538.0 741.0 541.0L718.5 541.0C716.6 538.0 714.9 535.1 712.9 532.0C710.7 528.4 708.6 525.1 705.8 520.8C702.1 515.0 697.3 507.5 692.6 500.4C687.5 492.8 681.9 484.4 676.3 476.6C670.8 468.9 665.4 461.4 659.6 453.9C653.6 446.3 647.0 438.0 641.1 431.3C636.1 425.5 632.1 421.3 626.8 415.8C620.4 409.1 608.5 397.1 605.3 394.3C604.4 393.6 604.4 393.6 603.5 393.0C601.2 391.3 595.0 386.8 590.7 383.8C586.4 380.9 582.1 378.0 577.7 375.3C573.6 372.8 569.4 370.4 565.2 368.2C561.0 366.1 556.6 364.2 552.6 362.6C549.0 361.2 545.5 360.0 542.5 359.2C540.1 358.5 538.3 358.0 536.0 357.6C533.2 357.1 530.0 356.7 527.1 356.4C524.1 356.2 521.2 356.0 518.2 356.1C515.3 356.2 512.3 356.4 509.4 356.8C506.4 357.3 503.5 357.9 500.6 358.9C497.7 359.9 494.6 361.2 492.0 362.9C489.3 364.6 486.9 366.7 484.6 369.1C482.3 371.6 480.1 374.8 478.4 377.7C476.7 380.5 475.6 383.3 474.4 386.3C473.2 389.5 472.0 393.1 470.9 396.5C469.9 399.9 469.0 403.1 468.2 406.6C467.4 410.3 466.6 414.1 465.9 418.1C465.2 422.5 464.6 427.0 464.1 431.9C463.5 437.5 462.9 445.4 462.6 449.9C462.3 452.6 462.3 453.4 462.1 456.4C461.8 462.8 461.5 475.7 461.1 486.7C460.7 500.1 459.9 522.4 459.6 531.1C459.5 534.7 459.5 536.2 459.4 538.7Z" fill="#ecc8c8" stroke="none"/>
<path d="M459.3 538.7C459.4 536.2 459.4 534.7 459.5 531.1C459.7 522.4 460.3 500.1 460.8 486.7C461.1 475.7 461.4 463.1 461.7 456.5C461.9 453.4 462.0 452.7 462.2 449.5C462.7 443.0 463.5 429.7 464.3 419.3C465.1 408.3 466.2 394.4 467.0 385.1C467.6 378.6 467.9 374.0 468.8 368.6C469.5 363.5 470.6 358.1 471.8 353.5C472.9 349.4 474.0 345.7 475.5 342.1C477.0 338.6 478.7 335.2 480.6 332.0C482.5 328.9 484.7 325.8 487.0 323.3C488.9 321.1 490.9 319.3 493.2 317.6C495.5 316.0 498.2 314.5 500.7 313.4C503.1 312.4 505.6 311.7 508.1 311.2C510.6 310.8 513.2 310.6 515.7 310.6C518.2 310.6 520.8 310.8 523.3 311.2C525.8 311.6 528.4 312.3 530.9 313.1C533.3 313.8 536.5 314.9 538.2 315.7C539.2 316.1 539.3 316.3 540.3 316.9C542.7 318.2 548.4 321.4 552.5 323.9C556.7 326.5 560.9 329.3 565.0 332.3C569.4 335.3 573.7 338.6 578.0 342.0C582.2 345.5 586.4 349.2 590.5 352.9C594.8 356.8 599.0 360.8 603.3 364.9C607.6 369.0 613.6 374.8 616.2 377.3C617.2 378.4 617.3 378.4 618.4 379.6C621.9 383.4 632.5 395.8 639.2 404.0C645.7 411.9 652.0 419.9 658.0 427.9C663.9 435.6 669.4 443.4 675.0 451.2C680.5 458.9 685.8 466.6 691.3 474.3C696.7 481.9 702.1 489.6 707.6 497.2C713.0 504.9 719.3 513.7 724.0 520.2C727.4 525.1 730.3 529.1 733.0 533.0C735.3 536.3 737.3 539.0 739.4 542.0L718.5 541.0C716.6 538.0 714.9 535.1 712.9 532.0C710.7 528.4 708.6 525.1 705.8 520.8C702.1 515.0 697.3 507.5 692.6 500.4C687.5 492.8 681.9 484.4 676.3 476.6C670.8 468.9 665.4 461.4 659.6 453.9C653.6 446.3 647.0 438.0 641.1 431.3C636.1 425.5 632.1 421.3 626.8 415.8C620.4 409.1 608.5 397.1 605.3 394.3C604.4 393.6 604.4 393.6 603.5 393.0C601.2 391.3 595.0 386.8 590.7 383.8C586.4 380.9 582.1 378.0 577.7 375.3C573.6 372.8 569.4 370.4 565.2 368.2C561.0 366.1 556.6 364.2 552.6 362.6C549.0 361.2 545.5 360.0 542.5 359.2C540.1 358.5 538.3 358.0 536.0 357.6C533.2 357.1 530.0 356.7 527.1 356.4C524.1 356.2 521.2 356.0 518.2 356.1C515.3 356.2 512.3 356.4 509.4 356.8C506.4 357.3 503.5 357.9 500.6 358.9C497.7 359.9 494.6 361.2 492.0 362.9C489.3 364.6 486.9 366.7 484.6 369.1C482.3 371.6 480.1 374.8 478.4 377.7C476.7 380.5 475.6 383.3 474.4 386.3C473.2 389.5 472.0 393.1 470.9 396.5C469.9 399.9 469.0 403.1 468.2 406.6C467.4 410.3 466.6 414.1 465.9 418.1C465.2 422.5 464.6 427.0 464.1 431.9C463.5 437.5 462.9 445.4 462.6 449.9C462.3 452.6 462.3 453.4 462.1 456.4C461.8 462.8 461.5 475.7 461.1 486.7C460.7 500.1 459.9 522.4 459.6 531.1C459.5 534.7 459.5 536.2 459.4 538.7Z" fill="#e0aaaa" stroke="none"/>
<path d="M458.4 538.7C458.5 536.2 458.5 534.8 458.5 531.1C458.7 521.1 459.1 489.1 459.3 475.4C459.5 467.2 459.6 463.6 459.8 456.0C460.0 445.5 460.5 430.0 460.9 418.0C461.3 407.3 461.7 394.7 462.0 387.6C462.2 383.8 462.3 382.2 462.5 378.7C462.9 373.8 463.5 366.9 464.2 361.0C464.8 355.1 465.6 348.8 466.7 343.3C467.6 338.3 468.6 333.6 470.0 329.4C471.3 325.8 472.7 322.4 474.6 319.5C476.4 316.8 478.5 314.2 480.8 312.3C483.0 310.5 485.5 309.1 488.0 308.3C490.4 307.4 492.9 307.1 495.4 307.0C497.9 307.0 500.4 307.5 502.9 308.2C505.4 308.9 508.0 310.0 510.4 311.3C513.0 312.6 515.6 314.4 518.1 316.2C520.7 318.1 523.1 320.1 525.7 322.4C528.7 325.1 532.3 328.5 534.8 331.2C536.7 333.1 537.7 334.2 539.6 336.6C543.0 340.7 548.2 348.2 552.5 354.2C556.8 360.4 561.0 366.7 565.2 373.1C569.5 379.7 573.8 386.6 578.0 393.4C582.2 400.2 586.7 407.5 590.5 413.8C593.8 419.2 596.4 423.5 599.6 429.0C603.3 435.3 607.5 442.5 611.4 449.5C615.5 456.8 619.4 463.9 623.7 472.0C628.7 481.5 634.7 492.9 639.9 503.1C644.8 512.7 650.7 524.5 654.2 531.4C656.2 535.5 657.4 537.8 659.0 541.0L630.5 541.0C628.8 537.8 627.5 535.1 625.5 531.5C622.8 526.5 619.2 519.9 615.6 513.9C611.8 507.3 607.3 500.1 603.0 493.7C598.9 487.7 594.7 482.0 590.5 476.5C586.3 471.2 582.1 466.1 577.8 461.3C573.7 456.6 569.8 452.4 565.2 447.8C560.1 442.7 554.2 437.0 548.6 432.1C543.1 427.4 537.6 423.2 531.7 418.9C525.4 414.4 516.8 408.8 511.7 405.9C508.7 404.2 506.9 403.4 504.4 402.3C501.9 401.2 499.2 400.0 496.6 399.1C494.1 398.2 491.5 397.3 488.9 396.8C486.4 396.4 483.7 396.0 481.4 396.2C479.4 396.5 477.4 397.1 475.8 398.1C473.9 399.3 472.3 401.1 470.9 403.2C469.2 405.8 468.1 409.2 466.9 413.0C465.5 418.0 464.5 424.3 463.6 430.7C462.5 438.4 461.7 448.2 461.2 456.0C460.7 462.9 460.6 467.2 460.3 475.4C459.8 489.1 459.2 521.1 459.0 531.1C459.0 534.8 459.0 536.2 458.9 538.7Z" fill="#c6c6ff" stroke="none"/>
<path d="M458.7 538.7C458.7 536.2 458.7 534.8 458.8 531.1C459.0 521.1 459.5 489.1 459.8 475.4C459.9 467.2 460.0 463.6 460.3 456.0C460.6 445.5 461.2 430.0 461.7 418.0C462.2 407.3 462.7 394.7 463.1 387.6C463.3 383.8 463.4 382.3 463.7 378.7C464.2 373.3 465.1 364.7 465.9 358.5C466.7 353.0 467.5 347.9 468.6 343.3C469.5 339.2 470.5 335.4 471.9 332.0C473.1 329.0 474.5 326.3 476.3 323.9C478.1 321.5 480.4 319.1 482.7 317.4C484.7 315.9 486.9 314.8 489.2 314.1C491.6 313.3 494.2 313.0 496.7 313.0C499.2 313.0 501.7 313.4 504.1 314.0C506.7 314.7 509.2 315.7 511.7 317.0C514.3 318.3 516.9 320.0 519.4 321.9C522.0 323.8 524.4 326.0 526.9 328.2C529.5 330.6 532.3 333.3 534.6 335.7C536.6 337.8 538.0 339.4 540.1 341.9C543.0 345.5 546.8 350.3 550.4 355.2C554.5 360.8 559.1 367.5 563.3 373.9C567.7 380.5 572.0 387.3 576.3 394.1C580.5 400.8 584.9 408.2 588.7 414.5C592.0 419.9 594.6 424.2 597.8 429.7C601.5 436.0 605.7 443.2 609.6 450.2C613.7 457.5 617.6 464.6 621.9 472.7C626.9 482.2 632.9 493.6 638.1 503.8C643.0 513.4 648.9 525.2 652.4 532.1C654.4 536.2 655.6 538.5 657.2 541.7L630.5 541.0C628.8 537.8 627.5 535.1 625.5 531.5C622.8 526.5 619.2 519.9 615.6 513.9C611.8 507.3 607.3 500.1 603.0 493.7C598.9 487.7 594.7 482.0 590.5 476.5C586.3 471.2 582.1 466.1 577.8 461.3C573.7 456.6 569.8 452.4 565.2 447.8C560.1 442.7 554.2 437.0 548.6 432.1C543.1 427.4 537.6 423.2 531.7 418.9C525.4 414.4 516.8 408.8 511.7 405.9C508.7 404.2 506.9 403.4 504.4 402.3C501.9 401.2 499.2 400.0 496.6 399.1C494.1 398.2 491.5 397.3 488.9 396.8C486.4 396.4 483.7 396.0 481.4 396.2C479.4 396.5 477.4 397.1 475.8 398.1C473.9 399.3 472.3 401.1 470.9 403.2C469.2 405.8 468.1 409.2 466.9 413.0C465.5 418.0 464.5 424.3 463.6 430.7C462.5 438.4 461.7 448.2 461.2 456.0C460.7 462.9 460.6 467.2 460.3 475.4C459.8 489.1 459.2 521.1 459.0 531.1C459.0 534.8 459.0 536.2 458.9 538.7Z" fill="#aaaaff" stroke="none"/>
<path d="M458.8 538.7C458.8 536.2 458.8 534.8 458.9 531.1C459.1 521.1 459.6 489.1 460.0 475.4C460.3 467.2 460.4 462.9 460.8 456.0C461.3 448.2 461.9 438.4 462.8 430.7C463.6 424.3 464.3 418.3 465.6 413.0C466.7 408.4 467.9 404.0 469.7 400.6C471.1 397.8 472.8 395.3 474.7 393.5C476.4 392.1 478.3 391.0 480.3 390.5C482.2 390.0 484.2 390.1 486.3 390.4C488.8 390.8 491.5 391.9 494.0 392.9C496.6 394.1 499.0 395.5 501.7 397.1C504.9 399.0 507.9 400.9 511.8 403.6C517.4 407.5 525.6 413.6 532.0 418.5C537.8 423.1 543.1 427.4 548.6 432.2C554.2 437.1 560.1 442.7 565.2 447.8C569.7 452.4 573.7 456.6 577.8 461.3C582.1 466.1 586.3 471.2 590.5 476.5C594.7 482.0 598.9 487.7 603.0 493.7C607.3 500.1 611.8 507.3 615.6 513.9C619.2 519.9 622.8 526.5 625.5 531.5C627.5 535.1 628.8 537.8 630.5 541.0L630.5 541.0C628.8 537.8 627.5 535.1 625.5 531.5C622.8 526.5 619.2 519.9 615.6 513.9C611.8 507.3 607.3 500.1 603.0 493.7C598.9 487.7 594.7 482.0 590.5 476.5C586.3 471.2 582.1 466.1 577.8 461.3C573.7 456.6 569.8 452.4 565.2 447.8C560.1 442.7 554.2 437.0 548.6 432.1C543.1 427.4 537.6 423.2 531.7 418.9C525.4 414.4 516.8 408.8 511.7 405.9C508.7 404.2 506.9 403.4 504.4 402.3C501.9 401.2 499.2 400.0 496.6 399.1C494.1 398.2 491.5 397.3 488.9 396.8C486.4 396.4 483.7 396.0 481.4 396.2C479.4 396.5 477.4 397.1 475.8 398.1C473.9 399.3 472.3 401.1 470.9 403.2C469.2 405.8 468.1 409.2 466.9 413.0C465.5 418.0 464.5 424.3 463.6 430.7C462.5 438.4 461.7 448.2 461.2 456.0C460.7 462.9 460.6 467.2 460.3 475.4C459.8 489.1 459.2 521.1 459.0 531.1C459.0 534.8 459.0 536.2 458.9 538.7Z" fill="#9c9cff" stroke="none"/>
<path d="M458.9 538.7C459.0 536.2 459.0 534.8 459.0 531.1C459.2 521.1 459.8 489.1 460.3 475.4C460.6 467.2 460.7 462.9 461.2 456.0C461.7 448.2 462.5 438.4 463.6 430.7C464.5 424.3 465.5 418.0 466.9 413.0C468.1 409.2 469.2 405.8 470.9 403.2C472.3 401.1 473.9 399.3 475.8 398.1C477.4 397.1 479.4 396.5 481.4 396.2C483.7 396.0 486.4 396.4 488.9 396.8C491.5 397.3 494.1 398.2 496.6 399.1C499.2 400.0 501.9 401.2 504.4 402.3C506.9 403.4 508.7 404.2 511.7 405.9C516.8 408.8 525.4 414.4 531.7 418.9C537.6 423.2 543.1 427.4 548.6 432.1C554.2 437.0 560.1 442.7 565.2 447.8C569.8 452.4 573.7 456.6 577.8 461.3C582.1 466.1 586.3 471.2 590.5 476.5C594.7 482.0 598.9 487.7 603.0 493.7C607.3 500.1 611.8 507.3 615.6 513.9C619.2 519.9 622.8 526.5 625.5 531.5C627.5 535.1 628.8 537.8 630.5 541.0" stroke="#0000b0" stroke-width="2.3" stroke-dasharray="1.7 3.05" stroke-dashoffset="-1.15"/>
<path d="M459.4 538.7C459.5 536.2 459.5 534.7 459.6 531.1C459.9 522.4 460.7 500.1 461.1 486.7C461.5 475.7 461.8 462.8 462.1 456.4C462.3 453.4 462.3 452.6 462.6 449.9C462.9 445.4 463.5 437.5 464.1 431.9C464.6 427.0 465.2 422.5 465.9 418.1C466.6 414.1 467.4 410.3 468.2 406.6C469.0 403.1 469.9 399.9 470.9 396.5C472.0 393.1 473.2 389.5 474.4 386.3C475.6 383.3 476.7 380.5 478.4 377.7C480.1 374.8 482.3 371.6 484.6 369.1C486.9 366.7 489.3 364.6 492.0 362.9C494.6 361.2 497.7 359.9 500.6 358.9C503.5 357.9 506.4 357.3 509.4 356.8C512.3 356.4 515.3 356.2 518.2 356.1C521.2 356.0 524.1 356.2 527.1 356.4C530.0 356.7 533.2 357.1 536.0 357.6C538.3 358.0 540.1 358.5 542.5 359.2C545.5 360.0 549.0 361.2 552.6 362.6C556.6 364.2 561.0 366.1 565.2 368.2C569.4 370.4 573.6 372.8 577.7 375.3C582.1 378.0 586.4 380.9 590.7 383.8C595.0 386.8 601.2 391.3 603.5 393.0C604.4 393.6 604.4 393.6 605.3 394.3C608.5 397.1 620.4 409.1 626.8 415.8C632.1 421.3 636.1 425.5 641.1 431.3C647.0 438.0 653.6 446.3 659.6 453.9C665.4 461.4 670.8 468.9 676.3 476.6C681.9 484.4 687.5 492.8 692.6 500.4C697.3 507.5 702.1 515.0 705.8 520.8C708.6 525.1 710.7 528.4 712.9 532.0C714.9 535.1 716.6 538.0 718.5 541.0" stroke="#a80000" stroke-width="2.3" stroke-dasharray="1.7 3.05" stroke-dashoffset="-1.15"/>
<path d="M462.2 538.7C462.3 536.2 462.4 534.4 462.6 531.1C462.9 525.3 463.5 515.2 464.2 507.0C464.9 498.7 465.7 489.5 466.5 481.7C467.3 474.9 468.1 468.3 468.9 462.7C469.5 458.3 470.0 455.3 470.8 451.0C471.9 445.7 473.2 439.0 474.7 433.3C476.1 427.7 477.8 422.0 479.6 417.0C481.1 412.5 482.9 407.9 484.5 404.4C485.7 401.8 486.6 400.1 487.9 397.7C489.4 394.7 491.2 391.1 493.1 387.7C495.1 384.0 497.4 380.1 499.8 376.5C502.1 373.0 504.6 369.4 507.2 366.4C509.5 363.5 512.0 361.0 514.6 358.6C517.0 356.3 519.5 354.2 522.1 352.2C524.6 350.2 527.3 348.4 529.8 346.7C532.3 345.0 535.4 343.1 537.2 342.0C538.3 341.3 538.7 341.1 539.9 340.5C542.6 339.1 548.6 336.1 553.0 334.3C557.1 332.6 561.3 331.0 565.5 329.8C569.6 328.5 573.8 327.5 578.1 326.8C582.3 326.1 586.5 325.7 590.7 325.4C594.9 325.1 599.1 325.0 603.4 325.0C607.6 325.1 611.8 325.3 616.0 325.6C620.3 326.0 624.5 326.4 628.7 327.1C632.9 327.8 636.6 328.6 641.4 329.8C647.6 331.3 655.6 333.6 662.7 335.7C669.9 338.0 677.1 340.5 684.2 343.0C691.4 345.6 698.5 348.3 705.6 351.1C712.8 354.0 720.0 357.0 727.1 360.0C734.3 363.0 741.4 366.0 748.5 369.0C755.7 372.0 763.6 375.5 770.0 378.2C775.1 380.4 780.0 382.5 783.9 384.2C786.8 385.4 788.9 386.3 791.4 387.4" stroke="#0a640a" stroke-width="2.3" stroke-dasharray="1.7 3.05" stroke-dashoffset="-1.15"/>
<path d="M458.8 538.7C458.8 536.2 458.8 534.8 458.9 531.1C459.1 521.1 459.6 489.1 460.0 475.4C460.3 467.2 460.4 462.9 460.8 456.0C461.3 448.2 461.9 438.4 462.8 430.7C463.6 424.3 464.3 418.3 465.6 413.0C466.7 408.4 467.9 404.0 469.7 400.6C471.1 397.8 472.8 395.3 474.7 393.5C476.4 392.1 478.3 391.0 480.3 390.5C482.2 390.0 484.2 390.1 486.3 390.4C488.8 390.8 491.5 391.9 494.0 392.9C496.6 394.1 499.0 395.5 501.7 397.1C504.9 399.0 507.9 400.9 511.8 403.6C517.4 407.5 525.6 413.6 532.0 418.5C537.8 423.1 543.1 427.4 548.6 432.2C554.2 437.1 560.1 442.7 565.2 447.8C569.7 452.4 573.7 456.6 577.8 461.3C582.1 466.1 586.3 471.2 590.5 476.5C594.7 482.0 598.9 487.7 603.0 493.7C607.3 500.1 611.8 507.3 615.6 513.9C619.2 519.9 622.8 526.5 625.5 531.5C627.5 535.1 628.8 537.8 630.5 541.0" stroke="#0000b0" stroke-width="2.4" stroke-dasharray="4 5.5"/>
<path d="M459.4 538.7C459.5 536.2 459.5 534.7 459.6 531.1C459.9 522.4 460.7 500.1 461.1 486.7C461.5 475.7 461.8 462.8 462.1 456.4C462.3 453.4 462.3 452.6 462.6 449.9C462.9 445.4 463.5 437.5 464.1 431.9C464.6 427.0 465.2 422.5 465.9 418.1C466.6 414.1 467.4 410.3 468.2 406.6C469.0 403.1 469.9 399.9 470.9 396.5C472.0 393.1 473.2 389.5 474.4 386.3C475.6 383.3 476.7 380.5 478.4 377.7C480.1 374.8 482.3 371.6 484.6 369.1C486.9 366.7 489.3 364.6 492.0 362.9C494.6 361.2 497.7 359.9 500.6 358.9C503.5 357.9 506.4 357.3 509.4 356.8C512.3 356.4 515.3 356.2 518.2 356.1C521.2 356.0 524.1 356.2 527.1 356.4C530.0 356.7 533.2 357.1 536.0 357.6C538.3 358.0 540.1 358.5 542.5 359.2C545.5 360.0 549.0 361.2 552.6 362.6C556.6 364.2 561.0 366.1 565.2 368.2C569.4 370.4 573.6 372.8 577.7 375.3C582.1 378.0 586.4 380.9 590.7 383.8C595.0 386.8 601.2 391.3 603.5 393.0C604.4 393.6 604.4 393.6 605.3 394.3C608.5 397.1 620.4 409.1 626.8 415.8C632.1 421.3 636.1 425.5 641.1 431.3C647.0 438.0 653.6 446.3 659.6 453.9C665.4 461.4 670.8 468.9 676.3 476.6C681.9 484.4 687.5 492.8 692.6 500.4C697.3 507.5 702.1 515.0 705.8 520.8C708.6 525.1 710.7 528.4 712.9 532.0C714.9 535.1 716.6 538.0 718.5 541.0" stroke="#a80000" stroke-width="2.4" stroke-dasharray="4 5.5"/>
<path d="M462.2 538.7C462.3 536.2 462.4 534.4 462.6 531.1C462.9 525.3 463.5 515.2 464.2 507.0C464.9 498.7 465.7 489.5 466.5 481.7C467.3 474.9 468.1 468.3 468.9 462.7C469.5 458.3 470.0 455.3 470.8 451.0C471.9 445.7 473.2 439.0 474.7 433.3C476.1 427.7 477.8 422.0 479.6 417.0C481.1 412.5 482.9 407.9 484.5 404.4C485.7 401.8 486.6 400.1 487.9 397.7C489.4 394.7 491.2 391.1 493.1 387.7C495.1 384.0 497.4 380.1 499.8 376.5C502.1 373.0 504.6 369.4 507.2 366.4C509.5 363.5 512.0 361.0 514.6 358.6C517.0 356.3 519.5 354.2 522.1 352.2C524.6 350.2 527.3 348.4 529.8 346.7C532.3 345.0 535.4 343.1 537.2 342.0C538.3 341.3 538.7 341.1 539.9 340.5C542.6 339.1 548.6 336.1 553.0 334.3C557.1 332.6 561.3 331.0 565.5 329.8C569.6 328.5 573.8 327.5 578.1 326.8C582.3 326.1 586.5 325.7 590.7 325.4C594.9 325.1 599.1 325.0 603.4 325.0C607.6 325.1 611.8 325.3 616.0 325.6C620.3 326.0 624.5 326.4 628.7 327.1C632.9 327.8 636.6 328.6 641.4 329.8C647.6 331.3 655.6 333.6 662.7 335.7C669.9 338.0 677.1 340.5 684.2 343.0C691.4 345.6 698.5 348.3 705.6 351.1C712.8 354.0 720.0 357.0 727.1 360.0C734.3 363.0 741.4 366.0 748.5 369.0C755.7 372.0 763.6 375.5 770.0 378.2C775.1 380.4 780.0 382.5 783.9 384.2C786.8 385.4 788.9 386.3 791.4 387.4" stroke="#0a640a" stroke-width="2.4" stroke-dasharray="4 5.5"/>
<path d="M458.7 538.7C458.7 536.2 458.7 534.8 458.8 531.1C459.0 521.1 459.5 489.1 459.8 475.4C459.9 467.2 460.0 463.6 460.3 456.0C460.6 445.5 461.2 430.0 461.7 418.0C462.2 407.3 462.7 394.7 463.1 387.6C463.3 383.8 463.4 382.3 463.7 378.7C464.2 373.3 465.1 364.7 465.9 358.5C466.7 353.0 467.5 347.9 468.6 343.3C469.5 339.2 470.5 335.4 471.9 332.0C473.1 329.0 474.5 326.3 476.3 323.9C478.1 321.5 480.4 319.1 482.7 317.4C484.7 315.9 486.9 314.8 489.2 314.1C491.6 313.3 494.2 313.0 496.7 313.0C499.2 313.0 501.7 313.4 504.1 314.0C506.7 314.7 509.2 315.7 511.7 317.0C514.3 318.3 516.9 320.0 519.4 321.9C522.0 323.8 524.4 326.0 526.9 328.2C529.5 330.6 532.3 333.3 534.6 335.7C536.6 337.8 538.0 339.4 540.1 341.9C543.0 345.5 546.8 350.3 550.4 355.2C554.5 360.8 559.1 367.5 563.3 373.9C567.7 380.5 572.0 387.3 576.3 394.1C580.5 400.8 584.9 408.2 588.7 414.5C592.0 419.9 594.6 424.2 597.8 429.7C601.5 436.0 605.7 443.2 609.6 450.2C613.7 457.5 617.6 464.6 621.9 472.7C626.9 482.2 632.9 493.6 638.1 503.8C643.0 513.4 648.9 525.2 652.4 532.1C654.4 536.2 655.6 538.5 657.2 541.7" stroke="#0000b0" stroke-width="2.5" stroke-dasharray="7.8 3.7"/>
<path d="M459.3 538.7C459.4 536.2 459.4 534.7 459.5 531.1C459.7 522.4 460.3 500.1 460.8 486.7C461.1 475.7 461.4 463.1 461.7 456.5C461.9 453.4 462.0 452.7 462.2 449.5C462.7 443.0 463.5 429.7 464.3 419.3C465.1 408.3 466.2 394.4 467.0 385.1C467.6 378.6 467.9 374.0 468.8 368.6C469.5 363.5 470.6 358.1 471.8 353.5C472.9 349.4 474.0 345.7 475.5 342.1C477.0 338.6 478.7 335.2 480.6 332.0C482.5 328.9 484.7 325.8 487.0 323.3C488.9 321.1 490.9 319.3 493.2 317.6C495.5 316.0 498.2 314.5 500.7 313.4C503.1 312.4 505.6 311.7 508.1 311.2C510.6 310.8 513.2 310.6 515.7 310.6C518.2 310.6 520.8 310.8 523.3 311.2C525.8 311.6 528.4 312.3 530.9 313.1C533.3 313.8 536.5 314.9 538.2 315.7C539.2 316.1 539.3 316.3 540.3 316.9C542.7 318.2 548.4 321.4 552.5 323.9C556.7 326.5 560.9 329.3 565.0 332.3C569.4 335.3 573.7 338.6 578.0 342.0C582.2 345.5 586.4 349.2 590.5 352.9C594.8 356.8 599.0 360.8 603.3 364.9C607.6 369.0 613.6 374.8 616.2 377.3C617.2 378.4 617.3 378.4 618.4 379.6C621.9 383.4 632.5 395.8 639.2 404.0C645.7 411.9 652.0 419.9 658.0 427.9C663.9 435.6 669.4 443.4 675.0 451.2C680.5 458.9 685.8 466.6 691.3 474.3C696.7 481.9 702.1 489.6 707.6 497.2C713.0 504.9 719.3 513.7 724.0 520.2C727.4 525.1 730.3 529.1 733.0 533.0C735.3 536.3 737.3 539.0 739.4 542.0" stroke="#a80000" stroke-width="2.5" stroke-dasharray="7.8 3.7"/>
<path d="M461.8 540.3C461.9 537.8 461.9 536.0 462.1 532.7C462.3 526.9 462.9 516.8 463.5 508.6C464.0 500.3 464.6 491.1 465.3 483.3C465.8 476.5 466.4 470.1 467.0 464.3C467.5 459.2 467.9 455.2 468.6 450.1C469.4 443.9 470.6 436.4 471.8 429.8C473.0 423.4 474.4 416.4 475.8 410.9C476.9 406.6 477.9 403.4 479.2 399.6C480.5 395.7 482.0 391.8 483.7 388.0C485.3 384.1 487.0 380.4 488.9 376.6C490.8 372.8 492.9 369.0 495.2 365.3C497.6 361.4 500.3 357.4 502.9 353.9C505.3 350.7 507.8 347.8 510.4 345.1C512.8 342.5 515.3 340.2 517.9 338.0C520.4 336.0 522.9 334.1 525.5 332.4C528.0 330.7 530.5 329.3 533.1 327.9C535.6 326.7 537.8 325.7 540.7 324.6C544.4 323.1 549.2 321.5 553.5 320.3C557.7 319.0 562.0 317.9 566.2 317.1C570.4 316.2 574.6 315.6 578.9 315.1C583.1 314.7 587.3 314.4 591.5 314.3C595.7 314.3 599.9 314.4 604.2 314.6C608.4 314.9 612.6 315.3 616.8 315.7C621.1 316.2 625.3 316.8 629.5 317.5C633.7 318.2 637.4 319.0 642.2 320.1C648.4 321.6 656.4 323.8 663.5 325.9C670.7 328.0 677.9 330.4 685.0 332.8C692.2 335.3 699.3 338.0 706.4 340.8C713.6 343.5 720.7 346.4 727.9 349.3C735.0 352.2 742.2 355.2 749.4 358.2C756.5 361.1 764.4 364.4 770.7 367.0C775.9 369.1 780.7 371.1 784.7 372.8C787.6 374.0 789.7 374.9 792.2 375.9" stroke="#0a640a" stroke-width="2.5" stroke-dasharray="7.8 3.7"/>
<path d="M458.4 538.7C458.5 536.2 458.5 534.8 458.5 531.1C458.7 521.1 459.1 489.1 459.3 475.4C459.5 467.2 459.6 463.6 459.8 456.0C460.0 445.5 460.5 430.0 460.9 418.0C461.3 407.3 461.7 394.7 462.0 387.6C462.2 383.8 462.3 382.2 462.5 378.7C462.9 373.8 463.5 366.9 464.2 361.0C464.8 355.1 465.6 348.8 466.7 343.3C467.6 338.3 468.6 333.6 470.0 329.4C471.3 325.8 472.7 322.4 474.6 319.5C476.4 316.8 478.5 314.2 480.8 312.3C483.0 310.5 485.5 309.1 488.0 308.3C490.4 307.4 492.9 307.1 495.4 307.0C497.9 307.0 500.4 307.5 502.9 308.2C505.4 308.9 508.0 310.0 510.4 311.3C513.0 312.6 515.6 314.4 518.1 316.2C520.7 318.1 523.1 320.1 525.7 322.4C528.7 325.1 532.3 328.5 534.8 331.2C536.7 333.1 537.7 334.2 539.6 336.6C543.0 340.7 548.2 348.2 552.5 354.2C556.8 360.4 561.0 366.7 565.2 373.1C569.5 379.7 573.8 386.6 578.0 393.4C582.2 400.2 586.7 407.5 590.5 413.8C593.8 419.2 596.4 423.5 599.6 429.0C603.3 435.3 607.5 442.5 611.4 449.5C615.5 456.8 619.4 463.9 623.7 472.0C628.7 481.5 634.7 492.9 639.9 503.1C644.8 512.7 650.7 524.5 654.2 531.4C656.2 535.5 657.4 537.8 659.0 541.0" stroke="#0000b0" stroke-width="3.4"/>
<path d="M459.1 538.7C459.1 536.2 459.1 534.7 459.2 531.1C459.4 522.4 460.0 500.1 460.3 486.7C460.6 475.7 460.9 463.1 461.2 456.5C461.3 453.4 461.4 452.7 461.6 449.5C462.0 443.0 462.8 429.7 463.5 419.3C464.2 408.3 465.2 394.4 465.9 385.1C466.4 378.6 466.7 373.9 467.4 368.6C468.1 363.8 468.8 359.2 469.9 354.7C470.9 350.4 472.1 346.1 473.6 342.1C475.1 338.2 476.8 334.2 478.7 330.8C480.4 327.6 482.3 324.6 484.4 321.9C486.3 319.4 488.4 317.1 490.8 315.2C493.1 313.2 495.7 311.5 498.2 310.2C500.6 309.0 503.0 308.1 505.6 307.5C508.4 306.8 511.6 306.4 514.4 306.3C517.0 306.2 519.5 306.4 522.0 306.7C524.5 307.1 527.1 307.8 529.6 308.6C532.1 309.4 535.0 310.5 537.0 311.3C538.3 311.9 538.8 312.3 540.3 313.0C543.1 314.6 548.5 317.5 552.6 320.0C556.7 322.5 560.8 325.1 565.0 327.9C569.3 330.9 573.7 334.2 577.9 337.6C582.2 341.0 586.4 344.6 590.6 348.4C594.9 352.3 599.0 356.4 603.2 360.5C607.4 364.7 612.7 369.9 615.8 373.2C617.7 375.3 618.3 376.0 620.3 378.3C624.7 383.5 634.3 394.7 640.9 402.9C647.4 410.9 653.6 418.9 659.6 426.9C665.4 434.7 671.0 442.4 676.6 450.2C682.1 457.9 687.4 465.6 692.9 473.3C698.3 480.9 703.7 488.6 709.2 496.2C714.6 503.9 720.9 512.7 725.6 519.2C729.0 524.1 731.9 528.1 734.6 532.0C736.9 535.3 738.9 538.0 741.0 541.0" stroke="#a80000" stroke-width="3.4"/>
<path d="M461.0 538.7C461.1 536.2 461.1 534.4 461.3 531.1C461.5 525.3 462.1 515.2 462.7 507.0C463.2 498.7 463.8 489.5 464.5 481.7C465.0 474.9 465.6 468.5 466.2 462.7C466.7 457.6 467.1 453.6 467.8 448.5C468.6 442.3 469.8 434.8 471.0 428.2C472.2 421.8 473.6 414.8 475.0 409.3C476.1 405.0 477.1 401.8 478.4 398.0C479.7 394.1 481.2 390.2 482.9 386.4C484.5 382.5 486.2 378.8 488.1 375.0C490.0 371.2 492.1 367.4 494.4 363.7C496.8 359.8 499.5 355.8 502.1 352.3C504.5 349.1 507.0 346.2 509.6 343.5C512.0 340.9 514.5 338.6 517.1 336.4C519.6 334.4 522.1 332.5 524.7 330.8C527.2 329.1 529.7 327.7 532.3 326.3C534.8 325.1 537.0 324.1 539.9 323.0C543.6 321.5 548.4 319.9 552.7 318.7C556.9 317.4 561.2 316.3 565.4 315.5C569.6 314.6 573.8 314.0 578.1 313.5C582.3 313.1 586.5 312.8 590.7 312.7C594.9 312.7 599.1 312.8 603.4 313.0C607.6 313.3 611.8 313.7 616.0 314.1C620.3 314.6 624.5 315.2 628.7 315.9C632.9 316.6 636.6 317.4 641.4 318.5C647.6 320.0 655.6 322.2 662.7 324.3C669.9 326.4 677.1 328.8 684.2 331.2C691.4 333.7 698.5 336.4 705.6 339.2C712.8 341.9 719.9 344.8 727.1 347.7C734.2 350.6 741.4 353.6 748.6 356.6C755.7 359.5 763.6 362.8 769.9 365.4C775.1 367.5 779.9 369.5 783.9 371.2C786.8 372.4 788.9 373.3 791.4 374.3" stroke="#0a640a" stroke-width="3.4"/>
</g>
<g clip-path="url(#cp20)" fill="none" stroke-linecap="butt" stroke-linejoin="round">
<path d="M124.7 777.7C124.9 775.2 124.9 773.4 125.1 770.1C125.6 764.3 126.5 753.9 127.4 746.1C128.4 738.7 129.4 731.4 130.7 724.6C131.9 718.4 133.4 712.4 135.1 706.9C136.6 701.9 138.3 697.5 140.2 693.0C142.0 688.8 144.3 684.1 146.2 680.9C147.5 678.6 148.4 677.2 149.8 675.1C151.7 672.5 154.2 669.3 156.5 666.6C158.9 663.9 161.4 661.2 163.9 658.8C166.4 656.6 168.9 654.4 171.5 652.5C174.0 650.7 176.6 649.0 179.1 647.5C181.6 646.0 184.1 644.7 186.6 643.6C189.1 642.4 191.7 641.4 194.2 640.4C196.8 639.5 199.5 638.6 201.8 637.9C203.9 637.3 205.5 636.9 207.6 636.4C210.2 635.8 213.5 635.1 216.5 634.6C219.5 634.2 222.1 633.8 225.4 633.4C229.2 633.0 233.8 632.6 238.0 632.3C242.2 632.1 246.5 631.9 250.7 631.8C254.9 631.8 259.1 631.8 263.4 631.8C267.6 631.9 271.8 632.1 276.0 632.3C280.3 632.5 285.3 632.8 288.7 633.0C291.1 633.3 292.0 633.4 294.6 633.7C299.6 634.3 309.0 635.3 316.2 636.1C323.4 636.9 332.2 637.9 337.8 638.4C341.3 638.7 343.1 638.7 346.5 639.0C351.1 639.4 357.4 640.1 362.9 640.7C368.4 641.3 373.9 641.9 379.4 642.6C384.9 643.3 390.4 644.1 395.9 644.8C401.4 645.5 406.9 646.1 412.4 646.8C417.9 647.5 423.3 648.2 428.9 648.8C434.6 649.6 441.3 650.4 446.2 651.0C449.7 651.4 452.2 651.8 455.2 652.1L455.2 673.6C452.2 673.2 449.7 672.9 446.2 672.5C441.3 671.9 434.6 671.2 428.9 670.5C423.3 669.9 417.9 669.3 412.4 668.7C406.9 668.1 401.4 667.5 395.9 666.8C390.4 666.2 384.9 665.5 379.4 664.8C373.9 664.2 368.4 663.5 363.0 662.9C357.5 662.2 351.1 661.4 346.5 660.9C343.1 660.5 341.3 660.2 337.7 659.9C332.1 659.3 323.3 658.7 316.2 658.2C309.0 657.8 299.6 657.2 294.7 657.1C292.1 657.0 291.1 657.1 288.7 657.1C285.3 657.1 280.3 657.1 276.0 657.1C271.8 657.1 267.6 657.2 263.4 657.3C259.1 657.4 254.9 657.4 250.7 657.7C246.5 657.9 242.3 658.3 238.0 658.8C233.8 659.3 229.2 660.0 225.4 660.7C222.2 661.2 219.4 661.8 216.5 662.4C213.5 663.1 210.2 663.9 207.6 664.7C205.5 665.3 203.9 665.8 201.9 666.5C199.5 667.4 196.8 668.4 194.2 669.5C191.6 670.5 188.9 671.7 186.4 672.8C184.0 674.0 181.8 674.9 179.2 676.4C176.1 678.2 172.4 680.7 169.3 683.2C166.1 685.8 163.1 688.6 160.3 691.8C157.4 695.1 154.7 698.8 152.3 702.7C149.7 706.8 147.3 711.2 145.2 715.8C143.0 720.6 141.1 725.6 139.4 730.9C137.5 736.6 136.0 742.5 134.6 748.7C133.0 755.5 131.4 764.8 130.6 770.2C130.1 773.3 130.1 775.2 129.8 777.7Z" fill="#c8c8c8" stroke="none"/>
<path d="M126.0 777.7C126.2 775.2 126.2 773.4 126.5 770.1C127.0 764.4 128.2 753.9 129.4 746.1C130.4 738.7 131.7 731.2 133.2 724.6C134.5 718.7 135.9 713.4 137.6 708.2C139.3 703.1 141.2 698.2 143.3 693.7C145.2 689.6 147.3 685.6 149.4 682.2C151.3 679.2 153.1 676.6 155.1 674.0C157.1 671.6 159.1 669.3 161.4 667.0C163.7 664.6 166.4 662.2 169.0 660.1C171.5 658.1 174.1 656.2 176.7 654.6C179.1 653.1 181.6 651.8 184.1 650.6C186.6 649.4 189.1 648.3 191.7 647.3C194.2 646.4 196.7 645.5 199.3 644.7C202.0 643.9 204.8 643.0 207.7 642.3C210.6 641.6 213.6 641.0 216.5 640.5C219.5 640.0 222.1 639.7 225.3 639.4C229.2 639.0 233.8 638.7 238.0 638.4C242.3 638.2 246.5 638.1 250.7 638.0C254.9 638.0 259.1 638.0 263.4 638.0C267.6 638.1 271.8 638.2 276.0 638.4C280.3 638.5 285.3 638.7 288.7 639.0C291.1 639.1 292.0 639.3 294.6 639.5C299.6 640.0 309.0 640.9 316.2 641.6C323.4 642.3 332.2 643.2 337.8 643.7C341.3 644.0 343.1 644.0 346.5 644.3C351.1 644.8 357.4 645.5 362.9 646.1C368.4 646.7 373.9 647.3 379.4 647.9C384.9 648.6 390.4 649.4 395.9 650.0C401.4 650.7 406.9 651.4 412.4 652.1C417.9 652.8 423.3 653.4 428.9 654.1C434.6 654.8 441.3 655.7 446.2 656.3C449.7 656.7 452.2 657.0 455.2 657.4L455.2 673.6C452.2 673.2 449.7 672.9 446.2 672.5C441.3 671.9 434.6 671.2 428.9 670.5C423.3 669.9 417.9 669.3 412.4 668.7C406.9 668.1 401.4 667.5 395.9 666.8C390.4 666.2 384.9 665.5 379.4 664.8C373.9 664.2 368.4 663.5 363.0 662.9C357.5 662.2 351.1 661.4 346.5 660.9C343.1 660.5 341.3 660.2 337.7 659.9C332.1 659.3 323.3 658.7 316.2 658.2C309.0 657.8 299.6 657.2 294.7 657.1C292.1 657.0 291.1 657.1 288.7 657.1C285.3 657.1 280.3 657.1 276.0 657.1C271.8 657.1 267.6 657.2 263.4 657.3C259.1 657.4 254.9 657.4 250.7 657.7C246.5 657.9 242.3 658.3 238.0 658.8C233.8 659.3 229.2 660.0 225.4 660.7C222.2 661.2 219.4 661.8 216.5 662.4C213.5 663.1 210.2 663.9 207.6 664.7C205.5 665.3 203.9 665.8 201.9 666.5C199.5 667.4 196.8 668.4 194.2 669.5C191.6 670.5 188.9 671.7 186.4 672.8C184.0 674.0 181.8 674.9 179.2 676.4C176.1 678.2 172.4 680.7 169.3 683.2C166.1 685.8 163.1 688.6 160.3 691.8C157.4 695.1 154.7 698.8 152.3 702.7C149.7 706.8 147.3 711.2 145.2 715.8C143.0 720.6 141.1 725.6 139.4 730.9C137.5 736.6 136.0 742.5 134.6 748.7C133.0 755.5 131.4 764.8 130.6 770.2C130.1 773.3 130.1 775.2 129.8 777.7Z" fill="#aaaaaa" stroke="none"/>
<path d="M128.5 777.7C128.8 775.2 128.8 773.3 129.2 770.1C129.8 764.8 131.2 755.6 132.6 748.7C133.8 742.1 135.3 735.8 137.0 729.7C138.7 724.0 140.6 718.3 142.7 713.3C144.6 708.7 146.6 704.7 149.0 700.7C151.3 696.7 153.9 692.9 156.6 689.4C159.3 685.9 162.8 682.0 165.2 679.7C166.6 678.3 167.4 677.6 168.9 676.5C170.9 674.9 173.9 672.9 176.4 671.3C179.0 669.7 181.7 668.0 184.3 666.7C186.8 665.4 189.2 664.3 191.7 663.2C194.2 662.2 196.6 661.4 199.2 660.5C202.0 659.7 204.8 658.9 207.7 658.2C210.6 657.4 213.5 656.8 216.5 656.2C219.4 655.7 222.1 655.2 225.4 654.8C229.2 654.3 233.8 653.8 238.0 653.5C242.3 653.1 246.5 652.8 250.7 652.6C254.9 652.5 259.1 652.4 263.4 652.4C267.6 652.4 271.8 652.5 276.0 652.5C280.3 652.6 285.3 652.8 288.7 652.9C291.1 653.0 292.1 653.0 294.6 653.1C299.6 653.4 309.0 654.1 316.2 654.6C323.4 655.2 332.2 655.9 337.7 656.4C341.3 656.8 343.1 656.9 346.5 657.3C351.1 657.7 357.5 658.4 363.0 659.0C368.4 659.6 373.9 660.3 379.4 660.9C384.9 661.5 390.4 662.2 395.9 662.8C401.4 663.5 406.9 664.1 412.4 664.8C417.9 665.4 423.3 666.1 428.8 666.7C434.5 667.4 441.3 668.3 446.2 668.9C449.7 669.4 452.2 669.7 455.2 670.1L455.2 673.6C452.2 673.2 449.7 672.9 446.2 672.5C441.3 671.9 434.6 671.2 428.9 670.5C423.3 669.9 417.9 669.3 412.4 668.7C406.9 668.1 401.4 667.5 395.9 666.8C390.4 666.2 384.9 665.5 379.4 664.8C373.9 664.2 368.4 663.5 363.0 662.9C357.5 662.2 351.1 661.4 346.5 660.9C343.1 660.5 341.3 660.2 337.7 659.9C332.1 659.3 323.3 658.7 316.2 658.2C309.0 657.8 299.6 657.2 294.7 657.1C292.1 657.0 291.1 657.1 288.7 657.1C285.3 657.1 280.3 657.1 276.0 657.1C271.8 657.1 267.6 657.2 263.4 657.3C259.1 657.4 254.9 657.4 250.7 657.7C246.5 657.9 242.3 658.3 238.0 658.8C233.8 659.3 229.2 660.0 225.4 660.7C222.2 661.2 219.4 661.8 216.5 662.4C213.5 663.1 210.2 663.9 207.6 664.7C205.5 665.3 203.9 665.8 201.9 666.5C199.5 667.4 196.8 668.4 194.2 669.5C191.6 670.5 188.9 671.7 186.4 672.8C184.0 674.0 181.8 674.9 179.2 676.4C176.1 678.2 172.4 680.7 169.3 683.2C166.1 685.8 163.1 688.6 160.3 691.8C157.4 695.1 154.7 698.8 152.3 702.7C149.7 706.8 147.3 711.2 145.2 715.8C143.0 720.6 141.1 725.6 139.4 730.9C137.5 736.6 136.0 742.5 134.6 748.7C133.0 755.5 131.4 764.8 130.6 770.2C130.1 773.3 130.1 775.2 129.8 777.7Z" fill="#8e8e8e" stroke="none"/>
<path d="M121.9 777.7C122.0 775.2 122.1 773.6 122.3 770.1C122.6 762.5 123.3 745.2 123.9 733.4C124.4 722.4 124.9 712.5 125.5 701.7C126.1 690.2 126.8 675.8 127.7 666.3C128.4 659.8 128.9 655.2 130.0 649.8C131.0 644.7 132.3 639.3 133.9 634.7C135.4 630.6 137.0 626.9 139.0 623.5C140.8 620.3 142.9 617.3 145.2 614.7C147.4 612.1 150.1 609.7 152.7 607.7C155.1 605.9 157.6 604.5 160.1 603.2C162.6 602.0 165.0 601.2 167.7 600.4C170.4 599.7 173.6 599.1 176.5 598.8C179.1 598.5 181.5 598.4 184.0 598.4C186.6 598.4 189.1 598.6 191.6 599.0C194.2 599.3 196.3 599.7 199.2 600.4C203.0 601.4 208.2 602.9 212.6 604.4C216.9 605.9 221.1 607.5 225.3 609.3C229.5 611.1 233.7 613.0 237.9 615.1C242.1 617.3 246.4 619.6 250.6 621.9C254.9 624.3 259.2 626.8 263.4 629.4C267.6 632.0 271.2 634.4 275.8 637.4C281.4 641.2 288.1 645.8 294.6 650.2C301.7 655.1 310.3 661.2 316.7 665.6C321.5 668.9 325.0 671.1 329.6 674.2C334.8 677.8 340.8 682.1 346.4 686.1C352.0 690.0 357.6 694.1 363.1 698.0C368.6 701.9 374.0 705.9 379.5 709.7C385.0 713.4 390.5 716.9 396.0 720.4C401.5 723.8 407.0 727.0 412.5 730.2C417.9 733.4 423.3 736.4 428.9 739.4C434.6 742.4 441.3 746.0 446.2 748.5C449.7 750.3 452.2 751.6 455.2 753.1L451.9 765.3C448.6 763.7 445.6 762.2 442.0 760.4C438.0 758.4 433.5 756.1 428.9 753.8C423.7 751.2 417.9 748.3 412.5 745.4C407.0 742.5 401.4 739.6 396.0 736.5C390.5 733.4 385.0 730.2 379.6 726.9C374.1 723.5 368.6 719.8 363.1 716.2C357.5 712.5 352.0 708.7 346.4 704.9C340.9 701.2 334.5 696.7 329.8 693.6C326.4 691.3 324.1 689.9 320.9 687.7C316.9 685.2 311.6 681.7 307.8 679.4C304.9 677.6 302.8 676.5 300.0 674.8C296.6 672.8 292.7 670.5 288.8 668.2C284.7 665.8 280.3 663.3 276.0 660.8C271.8 658.3 267.5 655.8 263.3 653.4C259.1 651.0 254.9 648.6 250.7 646.3C246.5 644.1 242.3 641.9 238.0 639.9C233.7 637.9 229.3 635.9 225.0 634.2C220.9 632.6 216.5 631.2 212.6 630.2C209.3 629.2 206.1 628.5 203.1 627.9C200.4 627.4 198.0 627.0 195.4 626.7C192.9 626.4 190.4 626.1 187.8 626.0C185.3 625.9 182.8 626.0 180.3 626.2C177.7 626.5 175.2 626.9 172.7 627.6C170.2 628.3 167.6 629.3 165.2 630.5C162.6 631.7 160.1 633.2 157.7 635.0C155.1 636.9 152.5 639.4 150.2 641.9C147.9 644.4 145.8 647.1 143.8 650.0C141.7 653.1 139.8 656.6 138.1 660.1C136.4 663.7 134.9 667.6 133.7 671.4C132.5 675.3 131.6 678.7 130.8 683.1C129.8 688.5 129.1 694.6 128.3 701.7C127.3 710.8 126.3 722.4 125.4 733.4C124.5 745.2 123.4 762.5 123.0 770.1C122.8 773.6 122.8 775.2 122.7 777.7Z" fill="#ecc8c8" stroke="none"/>
<path d="M122.2 777.7C122.3 775.2 122.3 773.6 122.5 770.1C122.9 762.5 123.7 745.2 124.4 733.4C125.0 722.4 125.6 712.5 126.4 701.7C127.3 690.2 128.4 675.9 129.6 666.3C130.5 659.8 131.2 655.2 132.5 649.9C133.8 644.7 135.4 639.3 137.2 634.9C138.8 631.1 140.6 627.8 142.7 624.7C144.5 621.9 146.6 619.5 148.9 617.2C151.2 615.0 153.8 613.1 156.4 611.5C158.8 610.0 161.4 608.7 163.9 607.8C166.4 606.8 168.9 606.2 171.4 605.7C173.9 605.3 176.4 605.1 179.0 604.9C181.5 604.8 184.0 604.8 186.6 604.9C189.1 605.0 191.7 605.2 194.2 605.6C196.7 605.9 199.0 606.3 201.7 606.9C205.0 607.7 208.8 608.8 212.6 610.1C216.6 611.5 221.0 613.3 225.2 615.1C229.5 617.0 233.7 619.1 237.9 621.3C242.2 623.5 246.4 625.8 250.7 628.2C254.9 630.6 259.2 633.2 263.4 635.7C267.6 638.3 271.2 640.8 275.8 643.8C281.4 647.6 288.1 652.2 294.6 656.7C301.7 661.6 310.3 667.7 316.7 672.1C321.5 675.4 325.0 677.6 329.6 680.8C334.9 684.4 340.8 688.6 346.4 692.5C352.0 696.4 357.6 700.3 363.1 704.1C368.6 707.9 374.0 711.8 379.5 715.4C385.0 719.0 390.4 722.5 396.0 725.9C401.4 729.2 407.0 732.5 412.5 735.7C417.9 738.8 423.4 741.8 428.9 744.8C434.6 747.8 441.3 751.3 446.2 753.8C449.7 755.6 452.2 756.9 455.2 758.4L451.9 765.3C448.6 763.7 445.6 762.2 442.0 760.4C438.0 758.4 433.5 756.1 428.9 753.8C423.7 751.2 417.9 748.3 412.5 745.4C407.0 742.5 401.4 739.6 396.0 736.5C390.5 733.4 385.0 730.2 379.6 726.9C374.1 723.5 368.6 719.8 363.1 716.2C357.5 712.5 352.0 708.7 346.4 704.9C340.9 701.2 334.5 696.7 329.8 693.6C326.4 691.3 324.1 689.9 320.9 687.7C316.9 685.2 311.6 681.7 307.8 679.4C304.9 677.6 302.8 676.5 300.0 674.8C296.6 672.8 292.7 670.5 288.8 668.2C284.7 665.8 280.3 663.3 276.0 660.8C271.8 658.3 267.5 655.8 263.3 653.4C259.1 651.0 254.9 648.6 250.7 646.3C246.5 644.1 242.3 641.9 238.0 639.9C233.7 637.9 229.3 635.9 225.0 634.2C220.9 632.6 216.5 631.2 212.6 630.2C209.3 629.2 206.1 628.5 203.1 627.9C200.4 627.4 198.0 627.0 195.4 626.7C192.9 626.4 190.4 626.1 187.8 626.0C185.3 625.9 182.8 626.0 180.3 626.2C177.7 626.5 175.2 626.9 172.7 627.6C170.2 628.3 167.6 629.3 165.2 630.5C162.6 631.7 160.1 633.2 157.7 635.0C155.1 636.9 152.5 639.4 150.2 641.9C147.9 644.4 145.8 647.1 143.8 650.0C141.7 653.1 139.8 656.6 138.1 660.1C136.4 663.7 134.9 667.6 133.7 671.4C132.5 675.3 131.6 678.7 130.8 683.1C129.8 688.5 129.1 694.6 128.3 701.7C127.3 710.8 126.3 722.4 125.4 733.4C124.5 745.2 123.4 762.5 123.0 770.1C122.8 773.6 122.8 775.2 122.7 777.7Z" fill="#e0aaaa" stroke="none"/>
<path d="M122.4 777.7C122.6 775.2 122.6 773.6 122.8 770.1C123.2 762.5 124.2 745.2 125.0 733.4C125.7 722.4 126.5 710.8 127.3 701.7C127.8 694.6 128.2 688.5 129.0 683.0C129.6 678.7 130.2 675.3 131.1 671.4C132.1 667.3 133.4 662.8 134.9 658.8C136.4 654.8 138.1 651.0 140.1 647.4C142.0 643.9 144.3 640.3 146.5 637.5C148.5 635.0 150.4 633.0 152.6 631.1C154.9 629.2 157.6 627.5 160.1 626.1C162.6 624.7 165.1 623.7 167.7 622.9C170.1 622.1 172.7 621.5 175.2 621.2C177.7 620.8 180.2 620.7 182.8 620.6C185.3 620.6 187.8 620.8 190.4 621.0C192.9 621.2 196.3 621.6 198.0 621.8C198.9 621.9 199.1 621.9 200.0 622.1C202.4 622.6 208.4 624.1 212.5 625.3C216.8 626.6 220.9 628.0 225.1 629.6C229.4 631.3 233.8 633.4 238.0 635.5C242.2 637.5 246.4 639.7 250.6 642.0C254.9 644.4 259.2 646.9 263.4 649.3C267.7 651.7 271.8 654.0 276.0 656.4C280.2 658.9 284.6 661.5 288.7 663.9C292.6 666.2 296.3 668.4 299.8 670.6C303.1 672.6 305.8 674.4 309.2 676.6C313.2 679.1 318.3 682.5 322.0 685.0C325.0 687.0 326.8 688.2 329.8 690.3C334.4 693.3 340.9 697.8 346.4 701.6C352.0 705.4 357.5 709.2 363.1 712.9C368.6 716.6 374.0 720.2 379.5 723.6C385.0 727.0 390.5 730.4 396.0 733.5C401.4 736.7 406.9 739.7 412.4 742.6C417.9 745.6 423.4 748.4 428.9 751.2C434.4 754.0 440.5 757.0 445.3 759.3C449.0 761.1 451.9 762.6 455.2 764.2L451.9 765.3C448.6 763.7 445.6 762.2 442.0 760.4C438.0 758.4 433.5 756.1 428.9 753.8C423.7 751.2 417.9 748.3 412.5 745.4C407.0 742.5 401.4 739.6 396.0 736.5C390.5 733.4 385.0 730.2 379.6 726.9C374.1 723.5 368.6 719.8 363.1 716.2C357.5 712.5 352.0 708.7 346.4 704.9C340.9 701.2 334.5 696.7 329.8 693.6C326.4 691.3 324.1 689.9 320.9 687.7C316.9 685.2 311.6 681.7 307.8 679.4C304.9 677.6 302.8 676.5 300.0 674.8C296.6 672.8 292.7 670.5 288.8 668.2C284.7 665.8 280.3 663.3 276.0 660.8C271.8 658.3 267.5 655.8 263.3 653.4C259.1 651.0 254.9 648.6 250.7 646.3C246.5 644.1 242.3 641.9 238.0 639.9C233.7 637.9 229.3 635.9 225.0 634.2C220.9 632.6 216.5 631.2 212.6 630.2C209.3 629.2 206.1 628.5 203.1 627.9C200.4 627.4 198.0 627.0 195.4 626.7C192.9 626.4 190.4 626.1 187.8 626.0C185.3 625.9 182.8 626.0 180.3 626.2C177.7 626.5 175.2 626.9 172.7 627.6C170.2 628.3 167.6 629.3 165.2 630.5C162.6 631.7 160.1 633.2 157.7 635.0C155.1 636.9 152.5 639.4 150.2 641.9C147.9 644.4 145.8 647.1 143.8 650.0C141.7 653.1 139.8 656.6 138.1 660.1C136.4 663.7 134.9 667.6 133.7 671.4C132.5 675.3 131.6 678.7 130.8 683.1C129.8 688.5 129.1 694.6 128.3 701.7C127.3 710.8 126.3 722.4 125.4 733.4C124.5 745.2 123.4 762.5 123.0 770.1C122.8 773.6 122.8 775.2 122.7 777.7Z" fill="#dc9c9c" stroke="none"/>
<path d="M120.5 777.7C120.6 775.2 120.6 773.6 120.7 770.1C120.8 762.5 121.1 745.7 121.5 733.4C121.8 720.8 122.2 707.4 122.6 695.3C123.1 684.3 123.6 672.4 124.1 663.7C124.4 657.7 124.8 653.6 125.2 648.5C125.7 643.4 126.2 638.0 126.8 633.3C127.3 629.2 127.8 625.4 128.3 621.9C128.9 618.8 129.4 615.6 130.1 613.1C130.6 611.0 131.2 609.1 131.9 607.5C132.6 606.1 133.3 604.9 134.2 603.8C135.2 602.5 136.5 601.3 137.8 600.2C139.2 599.0 140.7 598.0 142.3 596.9C144.2 595.8 146.6 594.6 148.7 593.7C150.8 592.9 152.8 592.3 155.0 591.9C157.3 591.4 160.0 591.2 162.5 591.2C165.0 591.2 167.5 591.4 170.0 591.8C172.6 592.2 175.2 592.8 177.7 593.5C180.2 594.3 182.6 595.2 185.2 596.2C188.1 597.4 191.3 598.9 194.2 600.3C196.9 601.6 199.2 602.7 201.9 604.3C205.1 606.2 208.6 608.4 212.1 611.0C216.2 614.1 220.7 617.9 224.9 621.9C229.3 626.0 233.8 630.8 238.1 635.4C242.4 640.0 246.4 644.7 250.6 649.5C254.8 654.5 259.1 659.6 263.3 664.6C267.6 669.7 271.8 674.7 276.0 679.8C280.3 684.8 283.7 689.0 288.8 695.0C296.2 703.6 307.6 716.8 316.2 726.6C323.8 735.4 331.0 743.6 337.8 751.4C343.8 758.2 350.2 765.3 354.9 770.7C358.3 774.5 360.7 777.2 363.6 780.5L346.0 778.0C343.7 775.3 341.2 772.3 339.1 769.9C337.3 767.9 336.2 766.6 334.2 764.3C331.0 760.7 325.9 755.0 321.7 750.1C317.4 745.2 313.1 740.1 308.8 735.1C304.6 730.0 300.4 724.9 296.1 719.9C291.8 714.9 286.9 708.9 283.3 704.9C280.7 702.1 279.3 700.6 276.7 697.9C273.1 694.1 267.9 688.8 263.6 684.3C259.3 679.9 255.1 675.6 250.8 671.1C246.5 666.6 242.3 661.8 237.9 657.4C233.6 653.1 229.4 648.6 225.0 644.8C220.8 641.2 216.2 637.8 211.9 635.1C207.9 632.6 202.8 630.0 200.1 628.9C198.7 628.4 198.1 628.4 196.8 628.0C194.8 627.4 191.8 626.4 189.2 625.5C186.6 624.7 184.0 623.7 181.4 622.9C178.8 622.1 176.4 621.2 173.8 620.7C171.3 620.2 168.8 620.0 166.3 619.9C163.8 619.8 161.2 619.9 158.7 620.3C156.2 620.7 153.6 621.4 151.2 622.3C148.7 623.3 146.1 624.7 143.9 626.3C141.6 628.0 139.5 630.1 137.8 632.5C136.0 635.0 134.7 637.7 133.4 641.1C131.8 645.6 130.7 650.8 129.6 657.5C127.8 667.4 126.2 682.7 125.0 695.4C123.9 708.0 123.2 720.8 122.6 733.4C122.0 745.7 121.5 762.5 121.3 770.1C121.2 773.6 121.2 775.2 121.2 777.7Z" fill="#c6c6ff" stroke="none"/>
<path d="M120.8 777.7C120.8 775.2 120.8 773.6 120.9 770.1C121.1 762.5 121.5 745.7 121.9 733.4C122.3 720.8 122.8 707.4 123.4 695.4C124.0 684.3 124.7 672.8 125.3 663.7C125.9 657.0 126.2 652.1 127.0 646.0C127.8 639.4 128.7 631.7 130.0 625.7C131.1 620.7 132.2 615.7 133.8 612.2C135.0 609.6 136.1 607.8 137.7 606.1C139.3 604.4 141.4 603.0 143.5 601.9C145.8 600.6 148.6 599.6 151.2 598.9C153.7 598.2 156.2 597.8 158.7 597.5C161.2 597.3 163.8 597.3 166.3 597.4C168.8 597.6 171.3 598.0 173.8 598.5C176.4 599.0 179.0 599.6 181.5 600.4C184.0 601.2 186.5 602.1 189.0 603.2C191.6 604.2 194.1 605.5 196.6 606.9C199.2 608.2 202.2 609.9 204.3 611.2C205.6 612.1 206.3 612.5 207.6 613.5C209.9 615.2 213.4 617.8 216.3 620.1C219.3 622.5 222.3 625.0 225.2 627.6C228.2 630.3 231.1 633.0 234.1 635.9C237.1 638.9 240.1 642.1 243.0 645.3C246.0 648.6 248.3 651.2 252.0 655.4C257.9 662.3 267.6 673.7 275.1 682.6C282.5 691.3 289.6 699.8 296.9 708.3C304.1 716.9 311.3 725.6 318.6 734.1C325.7 742.5 334.1 752.3 339.8 759.1C343.7 763.6 346.5 766.9 349.7 770.6C352.6 774.0 355.4 777.2 358.3 780.5L346.0 778.0C343.7 775.3 341.2 772.3 339.1 769.9C337.3 767.9 336.2 766.6 334.2 764.3C331.0 760.7 325.9 755.0 321.7 750.1C317.4 745.2 313.1 740.1 308.8 735.1C304.6 730.0 300.4 724.9 296.1 719.9C291.8 714.9 286.9 708.9 283.3 704.9C280.7 702.1 279.3 700.6 276.7 697.9C273.1 694.1 267.9 688.8 263.6 684.3C259.3 679.9 255.1 675.6 250.8 671.1C246.5 666.6 242.3 661.8 237.9 657.4C233.6 653.1 229.4 648.6 225.0 644.8C220.8 641.2 216.2 637.8 211.9 635.1C207.9 632.6 202.8 630.0 200.1 628.9C198.7 628.4 198.1 628.4 196.8 628.0C194.8 627.4 191.8 626.4 189.2 625.5C186.6 624.7 184.0 623.7 181.4 622.9C178.8 622.1 176.4 621.2 173.8 620.7C171.3 620.2 168.8 620.0 166.3 619.9C163.8 619.8 161.2 619.9 158.7 620.3C156.2 620.7 153.6 621.4 151.2 622.3C148.7 623.3 146.1 624.7 143.9 626.3C141.6 628.0 139.5 630.1 137.8 632.5C136.0 635.0 134.7 637.7 133.4 641.1C131.8 645.6 130.7 650.8 129.6 657.5C127.8 667.4 126.2 682.7 125.0 695.4C123.9 708.0 123.2 720.8 122.6 733.4C122.0 745.7 121.5 762.5 121.3 770.1C121.2 773.6 121.2 775.2 121.2 777.7Z" fill="#aaaaff" stroke="none"/>
<path d="M121.1 777.7C121.1 775.2 121.1 773.6 121.1 770.1C121.3 762.5 121.7 745.7 122.3 733.4C122.8 720.8 123.4 708.0 124.3 695.4C125.3 682.7 126.6 667.9 128.0 657.4C129.0 650.0 130.0 643.9 131.4 638.5C132.6 634.2 133.8 630.5 135.5 627.4C136.8 624.9 138.2 622.9 140.0 621.1C141.8 619.3 144.0 617.8 146.2 616.6C148.5 615.3 151.2 614.3 153.8 613.7C156.2 613.0 158.7 612.8 161.2 612.7C163.7 612.7 166.3 612.9 168.8 613.3C171.3 613.7 173.8 614.4 176.3 615.2C178.9 616.0 181.4 617.1 184.0 618.2C186.5 619.4 189.0 620.7 191.6 622.0C194.2 623.3 197.6 625.1 199.4 626.0C200.3 626.5 200.5 626.5 201.5 627.1C203.9 628.3 209.5 631.4 213.4 634.0C217.7 636.9 222.1 640.3 226.3 643.9C230.8 647.7 235.0 652.1 239.3 656.4C243.7 660.8 247.9 665.6 252.2 670.1C256.5 674.6 260.7 678.9 265.0 683.3C269.3 687.8 274.5 693.1 278.1 696.9C280.7 699.6 282.1 701.1 284.7 703.9C288.3 707.9 293.2 713.9 297.5 718.9C301.8 723.9 306.0 729.0 310.2 734.1C314.5 739.1 318.8 744.2 323.1 749.1C327.3 754.0 332.4 759.7 335.6 763.3C337.6 765.6 338.7 766.9 340.5 768.9C342.6 771.3 345.1 774.3 347.4 777.0L346.0 778.0C343.7 775.3 341.2 772.3 339.1 769.9C337.3 767.9 336.2 766.6 334.2 764.3C331.0 760.7 325.9 755.0 321.7 750.1C317.4 745.2 313.1 740.1 308.8 735.1C304.6 730.0 300.4 724.9 296.1 719.9C291.8 714.9 286.9 708.9 283.3 704.9C280.7 702.1 279.3 700.6 276.7 697.9C273.1 694.1 267.9 688.8 263.6 684.3C259.3 679.9 255.1 675.6 250.8 671.1C246.5 666.6 242.3 661.8 237.9 657.4C233.6 653.1 229.4 648.6 225.0 644.8C220.8 641.2 216.2 637.8 211.9 635.1C207.9 632.6 202.8 630.0 200.1 628.9C198.7 628.4 198.1 628.4 196.8 628.0C194.8 627.4 191.8 626.4 189.2 625.5C186.6 624.7 184.0 623.7 181.4 622.9C178.8 622.1 176.4 621.2 173.8 620.7C171.3 620.2 168.8 620.0 166.3 619.9C163.8 619.8 161.2 619.9 158.7 620.3C156.2 620.7 153.6 621.4 151.2 622.3C148.7 623.3 146.1 624.7 143.9 626.3C141.6 628.0 139.5 630.1 137.8 632.5C136.0 635.0 134.7 637.7 133.4 641.1C131.8 645.6 130.7 650.8 129.6 657.5C127.8 667.4 126.2 682.7 125.0 695.4C123.9 708.0 123.2 720.8 122.6 733.4C122.0 745.7 121.5 762.5 121.3 770.1C121.2 773.6 121.2 775.2 121.2 777.7Z" fill="#9c9cff" stroke="none"/>
<path d="M121.2 777.7C121.2 775.2 121.2 773.6 121.3 770.1C121.5 762.5 122.0 745.7 122.6 733.4C123.2 720.8 123.9 708.0 125.0 695.4C126.2 682.7 127.8 667.4 129.6 657.5C130.7 650.8 131.8 645.6 133.4 641.1C134.7 637.7 136.0 635.0 137.8 632.5C139.5 630.1 141.6 628.0 143.9 626.3C146.1 624.7 148.7 623.3 151.2 622.3C153.6 621.4 156.2 620.7 158.7 620.3C161.2 619.9 163.8 619.8 166.3 619.9C168.8 620.0 171.3 620.2 173.8 620.7C176.4 621.2 178.8 622.1 181.4 622.9C184.0 623.7 186.6 624.7 189.2 625.5C191.8 626.4 194.8 627.4 196.8 628.0C198.1 628.4 198.7 628.4 200.1 628.9C202.8 630.0 207.9 632.6 211.9 635.1C216.2 637.8 220.8 641.2 225.0 644.8C229.4 648.6 233.6 653.1 237.9 657.4C242.3 661.8 246.5 666.6 250.8 671.1C255.1 675.6 259.3 679.9 263.6 684.3C267.9 688.8 273.1 694.1 276.7 697.9C279.3 700.6 280.7 702.1 283.3 704.9C286.9 708.9 291.8 714.9 296.1 719.9C300.4 724.9 304.6 730.0 308.8 735.1C313.1 740.1 317.4 745.2 321.7 750.1C325.9 755.0 331.0 760.7 334.2 764.3C336.2 766.6 337.3 767.9 339.1 769.9C341.2 772.3 343.7 775.3 346.0 778.0" stroke="#0000b0" stroke-width="2.3" stroke-dasharray="1.7 3.05" stroke-dashoffset="-1.15"/>
<path d="M122.7 777.7C122.8 775.2 122.8 773.6 123.0 770.1C123.4 762.5 124.5 745.2 125.4 733.4C126.3 722.4 127.3 710.8 128.3 701.7C129.1 694.6 129.8 688.5 130.8 683.1C131.6 678.7 132.5 675.3 133.7 671.4C134.9 667.6 136.4 663.7 138.1 660.1C139.8 656.6 141.7 653.1 143.8 650.0C145.8 647.1 147.9 644.4 150.2 641.9C152.5 639.4 155.1 636.9 157.7 635.0C160.1 633.2 162.6 631.7 165.2 630.5C167.6 629.3 170.2 628.3 172.7 627.6C175.2 626.9 177.7 626.5 180.3 626.2C182.8 626.0 185.3 625.9 187.8 626.0C190.4 626.1 192.9 626.4 195.4 626.7C198.0 627.0 200.4 627.4 203.1 627.9C206.1 628.5 209.3 629.2 212.6 630.2C216.5 631.2 220.9 632.6 225.0 634.2C229.3 635.9 233.7 637.9 238.0 639.9C242.3 641.9 246.5 644.1 250.7 646.3C254.9 648.6 259.1 651.0 263.3 653.4C267.5 655.8 271.8 658.3 276.0 660.8C280.3 663.3 284.7 665.8 288.8 668.2C292.7 670.5 296.6 672.8 300.0 674.8C302.8 676.5 304.9 677.6 307.8 679.4C311.6 681.7 316.9 685.2 320.9 687.7C324.1 689.9 326.4 691.3 329.8 693.6C334.5 696.7 340.9 701.2 346.4 704.9C352.0 708.7 357.5 712.5 363.1 716.2C368.6 719.8 374.1 723.5 379.6 726.9C385.0 730.2 390.5 733.4 396.0 736.5C401.4 739.6 407.0 742.5 412.5 745.4C417.9 748.3 423.7 751.2 428.9 753.8C433.5 756.1 438.0 758.4 442.0 760.4C445.6 762.2 448.6 763.7 451.9 765.3" stroke="#a80000" stroke-width="2.3" stroke-dasharray="1.7 3.05" stroke-dashoffset="-1.15"/>
<path d="M129.8 777.7C130.1 775.2 130.1 773.3 130.6 770.2C131.4 764.8 133.0 755.5 134.6 748.7C136.0 742.5 137.5 736.6 139.4 730.9C141.1 725.6 143.0 720.6 145.2 715.8C147.3 711.2 149.7 706.8 152.3 702.7C154.7 698.8 157.4 695.1 160.3 691.8C163.1 688.6 166.1 685.8 169.3 683.2C172.4 680.7 176.1 678.2 179.2 676.4C181.8 674.9 184.0 674.0 186.4 672.8C188.9 671.7 191.6 670.5 194.2 669.5C196.8 668.4 199.5 667.4 201.9 666.5C203.9 665.8 205.5 665.3 207.6 664.7C210.2 663.9 213.5 663.1 216.5 662.4C219.4 661.8 222.2 661.2 225.4 660.7C229.2 660.0 233.8 659.3 238.0 658.8C242.3 658.3 246.5 657.9 250.7 657.7C254.9 657.4 259.1 657.4 263.4 657.3C267.6 657.2 271.8 657.1 276.0 657.1C280.3 657.1 285.3 657.1 288.7 657.1C291.1 657.1 292.1 657.0 294.7 657.1C299.6 657.2 309.0 657.8 316.2 658.2C323.3 658.7 332.1 659.3 337.7 659.9C341.3 660.2 343.1 660.5 346.5 660.9C351.1 661.4 357.5 662.2 363.0 662.9C368.4 663.5 373.9 664.2 379.4 664.8C384.9 665.5 390.4 666.2 395.9 666.8C401.4 667.5 406.9 668.1 412.4 668.7C417.9 669.3 423.3 669.9 428.9 670.5C434.6 671.2 441.3 671.9 446.2 672.5C449.7 672.9 452.2 673.2 455.2 673.6" stroke="#0a640a" stroke-width="2.3" stroke-dasharray="1.7 3.05" stroke-dashoffset="-1.15"/>
<path d="M121.1 777.7C121.1 775.2 121.1 773.6 121.1 770.1C121.3 762.5 121.7 745.7 122.3 733.4C122.8 720.8 123.4 708.0 124.3 695.4C125.3 682.7 126.6 667.9 128.0 657.4C129.0 650.0 130.0 643.9 131.4 638.5C132.6 634.2 133.8 630.5 135.5 627.4C136.8 624.9 138.2 622.9 140.0 621.1C141.8 619.3 144.0 617.8 146.2 616.6C148.5 615.3 151.2 614.3 153.8 613.7C156.2 613.0 158.7 612.8 161.2 612.7C163.7 612.7 166.3 612.9 168.8 613.3C171.3 613.7 173.8 614.4 176.3 615.2C178.9 616.0 181.4 617.1 184.0 618.2C186.5 619.4 189.0 620.7 191.6 622.0C194.2 623.3 197.6 625.1 199.4 626.0C200.3 626.5 200.5 626.5 201.5 627.1C203.9 628.3 209.5 631.4 213.4 634.0C217.7 636.9 222.1 640.3 226.3 643.9C230.8 647.7 235.0 652.1 239.3 656.4C243.7 660.8 247.9 665.6 252.2 670.1C256.5 674.6 260.7 678.9 265.0 683.3C269.3 687.8 274.5 693.1 278.1 696.9C280.7 699.6 282.1 701.1 284.7 703.9C288.3 707.9 293.2 713.9 297.5 718.9C301.8 723.9 306.0 729.0 310.2 734.1C314.5 739.1 318.8 744.2 323.1 749.1C327.3 754.0 332.4 759.7 335.6 763.3C337.6 765.6 338.7 766.9 340.5 768.9C342.6 771.3 345.1 774.3 347.4 777.0" stroke="#0000b0" stroke-width="2.4" stroke-dasharray="4 5.5"/>
<path d="M122.4 777.7C122.6 775.2 122.6 773.6 122.8 770.1C123.2 762.5 124.2 745.2 125.0 733.4C125.7 722.4 126.5 710.8 127.3 701.7C127.8 694.6 128.2 688.5 129.0 683.0C129.6 678.7 130.2 675.3 131.1 671.4C132.1 667.3 133.4 662.8 134.9 658.8C136.4 654.8 138.1 651.0 140.1 647.4C142.0 643.9 144.3 640.3 146.5 637.5C148.5 635.0 150.4 633.0 152.6 631.1C154.9 629.2 157.6 627.5 160.1 626.1C162.6 624.7 165.1 623.7 167.7 622.9C170.1 622.1 172.7 621.5 175.2 621.2C177.7 620.8 180.2 620.7 182.8 620.6C185.3 620.6 187.8 620.8 190.4 621.0C192.9 621.2 196.3 621.6 198.0 621.8C198.9 621.9 199.1 621.9 200.0 622.1C202.4 622.6 208.4 624.1 212.5 625.3C216.8 626.6 220.9 628.0 225.1 629.6C229.4 631.3 233.8 633.4 238.0 635.5C242.2 637.5 246.4 639.7 250.6 642.0C254.9 644.4 259.2 646.9 263.4 649.3C267.7 651.7 271.8 654.0 276.0 656.4C280.2 658.9 284.6 661.5 288.7 663.9C292.6 666.2 296.3 668.4 299.8 670.6C303.1 672.6 305.8 674.4 309.2 676.6C313.2 679.1 318.3 682.5 322.0 685.0C325.0 687.0 326.8 688.2 329.8 690.3C334.4 693.3 340.9 697.8 346.4 701.6C352.0 705.4 357.5 709.2 363.1 712.9C368.6 716.6 374.0 720.2 379.5 723.6C385.0 727.0 390.5 730.4 396.0 733.5C401.4 736.7 406.9 739.7 412.4 742.6C417.9 745.6 423.4 748.4 428.9 751.2C434.4 754.0 440.5 757.0 445.3 759.3C449.0 761.1 451.9 762.6 455.2 764.2" stroke="#a80000" stroke-width="2.4" stroke-dasharray="4 5.5"/>
<path d="M128.5 777.7C128.8 775.2 128.8 773.3 129.2 770.1C129.8 764.8 131.2 755.6 132.6 748.7C133.8 742.1 135.3 735.8 137.0 729.7C138.7 724.0 140.6 718.3 142.7 713.3C144.6 708.7 146.6 704.7 149.0 700.7C151.3 696.7 153.9 692.9 156.6 689.4C159.3 685.9 162.8 682.0 165.2 679.7C166.6 678.3 167.4 677.6 168.9 676.5C170.9 674.9 173.9 672.9 176.4 671.3C179.0 669.7 181.7 668.0 184.3 666.7C186.8 665.4 189.2 664.3 191.7 663.2C194.2 662.2 196.6 661.4 199.2 660.5C202.0 659.7 204.8 658.9 207.7 658.2C210.6 657.4 213.5 656.8 216.5 656.2C219.4 655.7 222.1 655.2 225.4 654.8C229.2 654.3 233.8 653.8 238.0 653.5C242.3 653.1 246.5 652.8 250.7 652.6C254.9 652.5 259.1 652.4 263.4 652.4C267.6 652.4 271.8 652.5 276.0 652.5C280.3 652.6 285.3 652.8 288.7 652.9C291.1 653.0 292.1 653.0 294.6 653.1C299.6 653.4 309.0 654.1 316.2 654.6C323.4 655.2 332.2 655.9 337.7 656.4C341.3 656.8 343.1 656.9 346.5 657.3C351.1 657.7 357.5 658.4 363.0 659.0C368.4 659.6 373.9 660.3 379.4 660.9C384.9 661.5 390.4 662.2 395.9 662.8C401.4 663.5 406.9 664.1 412.4 664.8C417.9 665.4 423.3 666.1 428.8 666.7C434.5 667.4 441.3 668.3 446.2 668.9C449.7 669.4 452.2 669.7 455.2 670.1" stroke="#0a640a" stroke-width="2.4" stroke-dasharray="4 5.5"/>
<path d="M120.8 777.7C120.8 775.2 120.8 773.6 120.9 770.1C121.1 762.5 121.5 745.7 121.9 733.4C122.3 720.8 122.8 707.4 123.4 695.4C124.0 684.3 124.7 672.8 125.3 663.7C125.9 657.0 126.2 652.1 127.0 646.0C127.8 639.4 128.7 631.7 130.0 625.7C131.1 620.7 132.2 615.7 133.8 612.2C135.0 609.6 136.1 607.8 137.7 606.1C139.3 604.4 141.4 603.0 143.5 601.9C145.8 600.6 148.6 599.6 151.2 598.9C153.7 598.2 156.2 597.8 158.7 597.5C161.2 597.3 163.8 597.3 166.3 597.4C168.8 597.6 171.3 598.0 173.8 598.5C176.4 599.0 179.0 599.6 181.5 600.4C184.0 601.2 186.5 602.1 189.0 603.2C191.6 604.2 194.1 605.5 196.6 606.9C199.2 608.2 202.2 609.9 204.3 611.2C205.6 612.1 206.3 612.5 207.6 613.5C209.9 615.2 213.4 617.8 216.3 620.1C219.3 622.5 222.3 625.0 225.2 627.6C228.2 630.3 231.1 633.0 234.1 635.9C237.1 638.9 240.1 642.1 243.0 645.3C246.0 648.6 248.3 651.2 252.0 655.4C257.9 662.3 267.6 673.7 275.1 682.6C282.5 691.3 289.6 699.8 296.9 708.3C304.1 716.9 311.3 725.6 318.6 734.1C325.7 742.5 334.1 752.3 339.8 759.1C343.7 763.6 346.5 766.9 349.7 770.6C352.6 774.0 355.4 777.2 358.3 780.5" stroke="#0000b0" stroke-width="2.5" stroke-dasharray="7.8 3.7"/>
<path d="M122.2 777.7C122.3 775.2 122.3 773.6 122.5 770.1C122.9 762.5 123.7 745.2 124.4 733.4C125.0 722.4 125.6 712.5 126.4 701.7C127.3 690.2 128.4 675.9 129.6 666.3C130.5 659.8 131.2 655.2 132.5 649.9C133.8 644.7 135.4 639.3 137.2 634.9C138.8 631.1 140.6 627.8 142.7 624.7C144.5 621.9 146.6 619.5 148.9 617.2C151.2 615.0 153.8 613.1 156.4 611.5C158.8 610.0 161.4 608.7 163.9 607.8C166.4 606.8 168.9 606.2 171.4 605.7C173.9 605.3 176.4 605.1 179.0 604.9C181.5 604.8 184.0 604.8 186.6 604.9C189.1 605.0 191.7 605.2 194.2 605.6C196.7 605.9 199.0 606.3 201.7 606.9C205.0 607.7 208.8 608.8 212.6 610.1C216.6 611.5 221.0 613.3 225.2 615.1C229.5 617.0 233.7 619.1 237.9 621.3C242.2 623.5 246.4 625.8 250.7 628.2C254.9 630.6 259.2 633.2 263.4 635.7C267.6 638.3 271.2 640.8 275.8 643.8C281.4 647.6 288.1 652.2 294.6 656.7C301.7 661.6 310.3 667.7 316.7 672.1C321.5 675.4 325.0 677.6 329.6 680.8C334.9 684.4 340.8 688.6 346.4 692.5C352.0 696.4 357.6 700.3 363.1 704.1C368.6 707.9 374.0 711.8 379.5 715.4C385.0 719.0 390.4 722.5 396.0 725.9C401.4 729.2 407.0 732.5 412.5 735.7C417.9 738.8 423.4 741.8 428.9 744.8C434.6 747.8 441.3 751.3 446.2 753.8C449.7 755.6 452.2 756.9 455.2 758.4" stroke="#a80000" stroke-width="2.5" stroke-dasharray="7.8 3.7"/>
<path d="M126.0 777.7C126.2 775.2 126.2 773.4 126.5 770.1C127.0 764.4 128.2 753.9 129.4 746.1C130.4 738.7 131.7 731.2 133.2 724.6C134.5 718.7 135.9 713.4 137.6 708.2C139.3 703.1 141.2 698.2 143.3 693.7C145.2 689.6 147.3 685.6 149.4 682.2C151.3 679.2 153.1 676.6 155.1 674.0C157.1 671.6 159.1 669.3 161.4 667.0C163.7 664.6 166.4 662.2 169.0 660.1C171.5 658.1 174.1 656.2 176.7 654.6C179.1 653.1 181.6 651.8 184.1 650.6C186.6 649.4 189.1 648.3 191.7 647.3C194.2 646.4 196.7 645.5 199.3 644.7C202.0 643.9 204.8 643.0 207.7 642.3C210.6 641.6 213.6 641.0 216.5 640.5C219.5 640.0 222.1 639.7 225.3 639.4C229.2 639.0 233.8 638.7 238.0 638.4C242.3 638.2 246.5 638.1 250.7 638.0C254.9 638.0 259.1 638.0 263.4 638.0C267.6 638.1 271.8 638.2 276.0 638.4C280.3 638.5 285.3 638.7 288.7 639.0C291.1 639.1 292.0 639.3 294.6 639.5C299.6 640.0 309.0 640.9 316.2 641.6C323.4 642.3 332.2 643.2 337.8 643.7C341.3 644.0 343.1 644.0 346.5 644.3C351.1 644.8 357.4 645.5 362.9 646.1C368.4 646.7 373.9 647.3 379.4 647.9C384.9 648.6 390.4 649.4 395.9 650.0C401.4 650.7 406.9 651.4 412.4 652.1C417.9 652.8 423.3 653.4 428.9 654.1C434.6 654.8 441.3 655.7 446.2 656.3C449.7 656.7 452.2 657.0 455.2 657.4" stroke="#0a640a" stroke-width="2.5" stroke-dasharray="7.8 3.7"/>
<path d="M120.5 777.7C120.6 775.2 120.6 773.6 120.7 770.1C120.8 762.5 121.1 745.7 121.5 733.4C121.8 720.8 122.2 707.4 122.6 695.3C123.1 684.3 123.6 672.4 124.1 663.7C124.4 657.7 124.8 653.6 125.2 648.5C125.7 643.4 126.2 638.0 126.8 633.3C127.3 629.2 127.8 625.4 128.3 621.9C128.9 618.8 129.4 615.6 130.1 613.1C130.6 611.0 131.2 609.1 131.9 607.5C132.6 606.1 133.3 604.9 134.2 603.8C135.2 602.5 136.5 601.3 137.8 600.2C139.2 599.0 140.7 598.0 142.3 596.9C144.2 595.8 146.6 594.6 148.7 593.7C150.8 592.9 152.8 592.3 155.0 591.9C157.3 591.4 160.0 591.2 162.5 591.2C165.0 591.2 167.5 591.4 170.0 591.8C172.6 592.2 175.2 592.8 177.7 593.5C180.2 594.3 182.6 595.2 185.2 596.2C188.1 597.4 191.3 598.9 194.2 600.3C196.9 601.6 199.2 602.7 201.9 604.3C205.1 606.2 208.6 608.4 212.1 611.0C216.2 614.1 220.7 617.9 224.9 621.9C229.3 626.0 233.8 630.8 238.1 635.4C242.4 640.0 246.4 644.7 250.6 649.5C254.8 654.5 259.1 659.6 263.3 664.6C267.6 669.7 271.8 674.7 276.0 679.8C280.3 684.8 283.7 689.0 288.8 695.0C296.2 703.6 307.6 716.8 316.2 726.6C323.8 735.4 331.0 743.6 337.8 751.4C343.8 758.2 350.2 765.3 354.9 770.7C358.3 774.5 360.7 777.2 363.6 780.5" stroke="#0000b0" stroke-width="3.4"/>
<path d="M121.9 777.7C122.0 775.2 122.1 773.6 122.3 770.1C122.6 762.5 123.3 745.2 123.9 733.4C124.4 722.4 124.9 712.5 125.5 701.7C126.1 690.2 126.8 675.8 127.7 666.3C128.4 659.8 128.9 655.2 130.0 649.8C131.0 644.7 132.3 639.3 133.9 634.7C135.4 630.6 137.0 626.9 139.0 623.5C140.8 620.3 142.9 617.3 145.2 614.7C147.4 612.1 150.1 609.7 152.7 607.7C155.1 605.9 157.6 604.5 160.1 603.2C162.6 602.0 165.0 601.2 167.7 600.4C170.4 599.7 173.6 599.1 176.5 598.8C179.1 598.5 181.5 598.4 184.0 598.4C186.6 598.4 189.1 598.6 191.6 599.0C194.2 599.3 196.3 599.7 199.2 600.4C203.0 601.4 208.2 602.9 212.6 604.4C216.9 605.9 221.1 607.5 225.3 609.3C229.5 611.1 233.7 613.0 237.9 615.1C242.1 617.3 246.4 619.6 250.6 621.9C254.9 624.3 259.2 626.8 263.4 629.4C267.6 632.0 271.2 634.4 275.8 637.4C281.4 641.2 288.1 645.8 294.6 650.2C301.7 655.1 310.3 661.2 316.7 665.6C321.5 668.9 325.0 671.1 329.6 674.2C334.8 677.8 340.8 682.1 346.4 686.1C352.0 690.0 357.6 694.1 363.1 698.0C368.6 701.9 374.0 705.9 379.5 709.7C385.0 713.4 390.5 716.9 396.0 720.4C401.5 723.8 407.0 727.0 412.5 730.2C417.9 733.4 423.3 736.4 428.9 739.4C434.6 742.4 441.3 746.0 446.2 748.5C449.7 750.3 452.2 751.6 455.2 753.1" stroke="#a80000" stroke-width="3.4"/>
<path d="M124.7 777.7C124.9 775.2 124.9 773.4 125.1 770.1C125.6 764.3 126.5 753.9 127.4 746.1C128.4 738.7 129.4 731.4 130.7 724.6C131.9 718.4 133.4 712.4 135.1 706.9C136.6 701.9 138.3 697.5 140.2 693.0C142.0 688.8 144.3 684.1 146.2 680.9C147.5 678.6 148.4 677.2 149.8 675.1C151.7 672.5 154.2 669.3 156.5 666.6C158.9 663.9 161.4 661.2 163.9 658.8C166.4 656.6 168.9 654.4 171.5 652.5C174.0 650.7 176.6 649.0 179.1 647.5C181.6 646.0 184.1 644.7 186.6 643.6C189.1 642.4 191.7 641.4 194.2 640.4C196.8 639.5 199.5 638.6 201.8 637.9C203.9 637.3 205.5 636.9 207.6 636.4C210.2 635.8 213.5 635.1 216.5 634.6C219.5 634.2 222.1 633.8 225.4 633.4C229.2 633.0 233.8 632.6 238.0 632.3C242.2 632.1 246.5 631.9 250.7 631.8C254.9 631.8 259.1 631.8 263.4 631.8C267.6 631.9 271.8 632.1 276.0 632.3C280.3 632.5 285.3 632.8 288.7 633.0C291.1 633.3 292.0 633.4 294.6 633.7C299.6 634.3 309.0 635.3 316.2 636.1C323.4 636.9 332.2 637.9 337.8 638.4C341.3 638.7 343.1 638.7 346.5 639.0C351.1 639.4 357.4 640.1 362.9 640.7C368.4 641.3 373.9 641.9 379.4 642.6C384.9 643.3 390.4 644.1 395.9 644.8C401.4 645.5 406.9 646.1 412.4 646.8C417.9 647.5 423.3 648.2 428.9 648.8C434.6 649.6 441.3 650.4 446.2 651.0C449.7 651.4 452.2 651.8 455.2 652.1" stroke="#0a640a" stroke-width="3.4"/>
</g>
<g clip-path="url(#cp21)" fill="none" stroke-linecap="butt" stroke-linejoin="round">
<path d="M461.0 776.5C461.1 774.2 461.1 772.5 461.2 769.6C461.5 764.3 462.1 754.7 462.7 747.4C463.2 740.2 463.8 732.9 464.6 725.9C465.4 719.0 466.2 712.1 467.2 705.6C468.0 699.5 469.1 692.9 470.1 687.8C470.8 684.1 471.4 681.3 472.2 678.0C473.1 674.6 474.2 671.2 475.4 667.7C476.7 663.9 478.2 660.1 479.9 656.3C481.6 652.5 483.5 648.6 485.6 644.9C487.5 641.4 489.6 638.1 491.8 634.8C494.2 631.4 496.9 627.8 499.5 624.7C501.9 621.8 504.5 619.0 507.1 616.5C509.5 614.2 512.0 612.1 514.6 610.1C517.1 608.3 519.5 606.4 522.2 605.0C524.7 603.6 527.3 602.6 529.9 601.6C532.3 600.6 535.2 599.7 537.1 599.2C538.3 598.9 538.7 598.9 540.0 598.6C542.8 597.9 548.5 595.8 552.8 594.6C557.0 593.4 561.2 592.3 565.5 591.4C569.6 590.6 573.8 589.8 578.0 589.3C582.2 588.8 586.5 588.7 590.7 588.7C594.9 588.6 599.2 588.6 603.4 588.8C607.6 589.0 611.8 589.4 616.0 589.9C620.2 590.4 624.3 590.9 628.5 591.7C632.8 592.6 636.7 593.6 641.6 594.7C647.8 596.2 655.7 598.0 662.8 599.7C670.0 601.3 677.1 603.1 684.2 604.8C691.4 606.5 698.5 608.2 705.7 610.0C712.8 611.9 720.0 613.8 727.1 615.8C734.3 617.7 741.4 619.7 748.6 621.6C755.7 623.6 763.6 625.7 770.0 627.4C775.1 628.8 779.9 630.1 783.9 631.2C786.7 632.0 788.9 632.6 791.4 633.3L791.4 650.8C788.9 649.8 786.8 649.0 783.9 647.9C779.9 646.4 775.0 644.5 769.9 642.7C763.5 640.5 755.6 637.8 748.5 635.5C741.4 633.1 734.2 630.9 727.1 628.6C720.0 626.4 712.8 624.3 705.7 622.1C698.6 620.0 691.4 617.8 684.2 615.8C677.1 613.8 670.0 611.7 662.8 609.9C655.7 608.1 647.6 606.1 641.4 604.9C636.6 603.9 632.9 603.2 628.7 602.6C624.5 602.1 620.3 601.7 616.0 601.4C611.8 601.1 607.6 600.9 603.4 600.8C599.1 600.7 594.9 600.7 590.7 600.9C586.5 601.1 582.2 601.4 578.0 602.0C573.8 602.6 569.7 603.5 565.5 604.6C561.2 605.6 556.8 607.0 552.6 608.4C548.5 609.7 542.7 612.2 540.6 612.8C539.9 613.0 539.8 612.9 539.1 613.1C537.7 613.6 534.7 614.8 532.5 615.9C529.9 617.0 527.2 618.2 524.7 619.6C522.1 621.1 519.6 622.9 517.1 624.7C514.6 626.7 512.1 628.8 509.6 631.1C507.0 633.6 504.3 636.4 502.0 639.2C499.7 641.9 497.7 644.5 495.6 647.5C493.5 650.6 491.3 654.2 489.4 657.6C487.5 660.9 485.7 664.2 484.1 667.6C482.4 671.0 480.9 674.3 479.4 677.9C477.8 681.9 476.1 686.1 474.7 690.6C473.1 695.7 471.7 701.2 470.4 706.9C469.1 712.9 468.0 719.3 467.1 725.9C466.1 732.8 465.4 740.2 464.6 747.4C463.9 754.7 463.2 764.3 462.8 769.6C462.6 772.5 462.6 774.2 462.5 776.5Z" fill="#c8c8c8" stroke="none"/>
<path d="M461.7 778.0C461.8 775.7 461.8 774.0 461.9 771.1C462.2 765.8 462.8 756.2 463.4 748.9C463.9 741.7 464.5 734.4 465.3 727.4C466.1 720.5 466.9 713.6 467.9 707.1C468.7 701.0 469.8 694.4 470.8 689.3C471.5 685.6 472.1 682.8 472.9 679.5C473.8 676.1 474.9 672.7 476.1 669.2C477.4 665.4 478.9 661.6 480.6 657.8C482.3 654.0 484.2 650.1 486.3 646.4C488.2 642.9 490.3 639.6 492.5 636.3C494.9 632.9 497.6 629.3 500.2 626.2C502.6 623.3 505.2 620.5 507.8 618.0C510.2 615.7 512.7 613.6 515.3 611.6C517.8 609.8 520.2 607.9 522.9 606.5C525.4 605.1 528.0 604.1 530.6 603.1C533.0 602.1 535.9 601.2 537.8 600.7C539.0 600.4 539.4 600.4 540.7 600.1C543.5 599.4 549.2 597.3 553.5 596.1C557.7 594.9 561.9 593.8 566.2 592.9C570.3 592.1 574.5 591.3 578.7 590.8C582.9 590.3 587.2 590.2 591.4 590.2C595.6 590.1 599.9 590.1 604.1 590.3C608.3 590.5 612.5 590.9 616.7 591.4C620.9 591.9 625.0 592.4 629.2 593.2C633.5 594.1 637.4 595.1 642.3 596.2C648.5 597.7 656.4 599.5 663.5 601.2C670.7 602.8 677.8 604.6 684.9 606.3C692.1 608.0 699.2 609.7 706.4 611.5C713.5 613.4 720.7 615.3 727.8 617.3C735.0 619.2 742.1 621.2 749.3 623.1C756.4 625.1 764.3 627.2 770.7 628.9C775.8 630.3 780.6 631.6 784.6 632.7C787.4 633.5 789.6 634.1 792.1 634.8L791.4 650.8C788.9 649.8 786.8 649.0 783.9 647.9C779.9 646.4 775.0 644.5 769.9 642.7C763.5 640.5 755.6 637.8 748.5 635.5C741.4 633.1 734.2 630.9 727.1 628.6C720.0 626.4 712.8 624.3 705.7 622.1C698.6 620.0 691.4 617.8 684.2 615.8C677.1 613.8 670.0 611.7 662.8 609.9C655.7 608.1 647.6 606.1 641.4 604.9C636.6 603.9 632.9 603.2 628.7 602.6C624.5 602.1 620.3 601.7 616.0 601.4C611.8 601.1 607.6 600.9 603.4 600.8C599.1 600.7 594.9 600.7 590.7 600.9C586.5 601.1 582.2 601.4 578.0 602.0C573.8 602.6 569.7 603.5 565.5 604.6C561.2 605.6 556.8 607.0 552.6 608.4C548.5 609.7 542.7 612.2 540.6 612.8C539.9 613.0 539.8 612.9 539.1 613.1C537.7 613.6 534.7 614.8 532.5 615.9C529.9 617.0 527.2 618.2 524.7 619.6C522.1 621.1 519.6 622.9 517.1 624.7C514.6 626.7 512.1 628.8 509.6 631.1C507.0 633.6 504.3 636.4 502.0 639.2C499.7 641.9 497.7 644.5 495.6 647.5C493.5 650.6 491.3 654.2 489.4 657.6C487.5 660.9 485.7 664.2 484.1 667.6C482.4 671.0 480.9 674.3 479.4 677.9C477.8 681.9 476.1 686.1 474.7 690.6C473.1 695.7 471.7 701.2 470.4 706.9C469.1 712.9 468.0 719.3 467.1 725.9C466.1 732.8 465.4 740.2 464.6 747.4C463.9 754.7 463.2 764.3 462.8 769.6C462.6 772.5 462.6 774.2 462.5 776.5Z" fill="#aaaaaa" stroke="none"/>
<path d="M459.2 776.5C459.2 774.2 459.2 772.9 459.3 769.6C459.4 761.6 459.9 741.8 460.4 728.4C460.9 715.4 461.4 702.2 462.1 690.4C462.6 680.0 463.3 669.4 464.0 661.3C464.6 655.4 465.0 651.1 465.8 646.1C466.5 641.0 467.4 635.6 468.5 630.9C469.5 626.8 470.4 623.2 471.8 619.6C473.1 616.1 474.6 612.6 476.3 609.6C478.0 606.8 479.8 604.3 481.8 602.0C483.7 599.9 485.8 598.0 488.1 596.4C490.4 594.6 493.0 593.1 495.6 591.9C498.0 590.7 500.6 589.8 503.1 589.0C505.6 588.3 508.0 587.8 510.7 587.4C513.5 587.0 516.6 586.8 519.5 586.8C522.5 586.7 525.4 586.9 528.3 587.2C531.3 587.4 535.1 588.0 537.2 588.4C538.4 588.6 538.8 588.7 540.0 589.0C542.7 589.8 548.4 591.6 552.6 593.1C556.8 594.7 561.0 596.3 565.2 598.2C569.5 600.1 573.7 602.2 577.9 604.5C582.1 606.8 586.4 609.3 590.6 612.0C594.9 614.7 599.0 617.4 603.5 620.6C608.6 624.1 613.9 627.9 619.6 632.4C626.3 637.6 634.0 644.1 641.1 650.4C648.3 656.8 655.6 663.6 662.7 670.4C670.0 677.4 677.1 684.7 684.3 691.7C691.5 698.8 698.7 706.0 705.9 713.0C713.0 719.9 720.1 726.7 727.3 733.4C734.3 740.0 741.6 746.5 748.5 752.9C755.1 758.9 762.3 765.4 767.8 770.4C771.9 774.2 774.9 777.0 778.5 780.2L720.7 779.6C718.2 776.7 715.7 773.9 713.2 771.0C710.7 768.2 708.8 766.0 705.7 762.4C700.4 756.3 691.5 746.0 684.3 737.8C677.2 729.6 670.1 721.2 662.8 713.2C655.6 705.3 648.3 697.4 640.9 690.1C633.8 683.1 626.1 675.9 619.3 670.2C613.7 665.5 608.5 661.7 603.4 658.1C599.0 655.0 595.0 652.4 590.7 649.8C586.5 647.2 582.2 644.8 577.9 642.5C573.6 640.3 569.4 638.2 565.2 636.4C561.0 634.6 556.6 633.0 552.6 631.7C549.1 630.6 545.7 629.8 542.5 629.1C539.8 628.5 537.4 628.1 534.7 627.8C531.9 627.4 528.8 627.1 525.8 626.9C522.9 626.8 519.9 626.7 517.0 626.9C514.0 627.0 511.1 627.2 508.1 627.7C505.2 628.2 502.2 628.9 499.3 630.0C496.4 631.0 493.4 632.4 490.7 634.1C488.1 635.8 485.6 637.8 483.3 640.2C480.9 642.7 478.7 645.7 476.8 648.8C474.8 651.9 473.1 655.5 471.7 658.8C470.4 661.8 469.3 664.8 468.5 667.7C467.8 670.2 467.4 672.2 466.9 675.1C466.1 679.3 465.3 685.0 464.6 690.4C463.9 696.4 463.3 702.6 462.8 709.4C462.1 717.2 461.6 725.6 461.1 734.7C460.6 745.4 459.9 762.4 459.7 769.6C459.6 772.8 459.6 774.2 459.6 776.5Z" fill="#ecc8c8" stroke="none"/>
<path d="M459.4 776.5C459.5 774.2 459.5 772.9 459.5 769.6C459.7 761.6 460.4 741.8 460.9 728.4C461.5 715.5 462.1 702.2 462.9 690.4C463.6 680.0 464.4 669.8 465.3 661.3C466.1 654.6 466.8 649.2 467.8 643.5C468.7 638.3 469.8 633.0 471.1 628.4C472.2 624.3 473.4 620.5 474.9 617.0C476.3 613.9 477.7 611.0 479.6 608.4C481.3 605.9 483.5 603.4 485.6 601.5C487.6 599.7 489.6 598.3 491.8 597.0C494.1 595.7 496.8 594.6 499.3 593.7C501.8 592.8 504.3 592.1 506.9 591.6C509.4 591.0 511.9 590.7 514.5 590.5C517.0 590.2 519.5 590.1 522.0 590.2C524.6 590.2 527.1 590.5 529.6 590.8C532.2 591.1 535.3 591.5 537.2 591.9C538.4 592.2 538.8 592.3 540.1 592.7C542.8 593.5 548.4 595.5 552.5 597.1C556.7 598.8 561.0 600.6 565.2 602.6C569.5 604.7 573.7 607.1 577.9 609.5C582.2 611.9 586.4 614.4 590.7 616.9C595.0 619.6 599.4 622.3 603.8 625.1C608.3 628.0 612.6 630.5 617.6 634.2C624.2 639.0 632.2 645.5 639.3 651.7C646.7 658.0 654.0 664.7 661.2 671.6C668.5 678.5 675.5 685.8 682.7 692.9C689.9 700.1 697.1 707.2 704.3 714.2C711.4 721.1 718.5 727.9 725.7 734.6C732.7 741.2 740.0 747.7 746.9 754.1C753.5 760.1 760.7 766.6 766.2 771.6C770.3 775.4 773.3 778.2 776.9 781.4L720.7 779.6C718.2 776.7 715.7 773.9 713.2 771.0C710.7 768.2 708.8 766.0 705.7 762.4C700.4 756.3 691.5 746.0 684.3 737.8C677.2 729.6 670.1 721.2 662.8 713.2C655.6 705.3 648.3 697.4 640.9 690.1C633.8 683.1 626.1 675.9 619.3 670.2C613.7 665.5 608.5 661.7 603.4 658.1C599.0 655.0 595.0 652.4 590.7 649.8C586.5 647.2 582.2 644.8 577.9 642.5C573.6 640.3 569.4 638.2 565.2 636.4C561.0 634.6 556.6 633.0 552.6 631.7C549.1 630.6 545.7 629.8 542.5 629.1C539.8 628.5 537.4 628.1 534.7 627.8C531.9 627.4 528.8 627.1 525.8 626.9C522.9 626.8 519.9 626.7 517.0 626.9C514.0 627.0 511.1 627.2 508.1 627.7C505.2 628.2 502.2 628.9 499.3 630.0C496.4 631.0 493.4 632.4 490.7 634.1C488.1 635.8 485.6 637.8 483.3 640.2C480.9 642.7 478.7 645.7 476.8 648.8C474.8 651.9 473.1 655.5 471.7 658.8C470.4 661.8 469.3 664.8 468.5 667.7C467.8 670.2 467.4 672.2 466.9 675.1C466.1 679.3 465.3 685.0 464.6 690.4C463.9 696.4 463.3 702.6 462.8 709.4C462.1 717.2 461.6 725.6 461.1 734.7C460.6 745.4 459.9 762.4 459.7 769.6C459.6 772.8 459.6 774.2 459.6 776.5Z" fill="#e0aaaa" stroke="none"/>
<path d="M458.5 776.5C458.6 774.2 458.5 772.9 458.6 769.6C458.7 761.6 458.9 741.8 459.2 728.4C459.5 715.4 459.8 702.5 460.3 690.4C460.7 679.3 461.3 667.8 461.9 658.7C462.3 652.0 462.7 646.9 463.3 641.0C463.8 635.1 464.5 628.1 465.2 623.3C465.7 619.8 466.1 617.2 466.6 614.4C467.2 611.7 467.8 609.0 468.5 606.8C469.2 604.9 469.8 603.3 470.6 601.8C471.4 600.5 472.1 599.5 473.2 598.4C474.3 597.3 475.7 596.3 477.2 595.3C478.8 594.3 480.9 593.3 482.8 592.5C484.8 591.7 486.9 591.0 489.2 590.5C491.5 590.0 494.2 589.5 496.7 589.3C499.2 589.1 501.8 589.1 504.3 589.3C506.8 589.5 509.3 590.0 511.8 590.6C514.4 591.2 516.8 592.2 519.3 593.2C521.9 594.2 524.5 595.4 527.1 596.6C529.7 597.9 532.6 599.4 534.9 600.7C536.7 601.7 537.8 602.2 539.7 603.5C543.0 605.7 548.1 609.5 552.3 612.9C556.6 616.5 561.2 620.4 565.4 624.5C569.6 628.6 572.6 631.8 577.7 637.5C586.9 648.0 604.5 669.2 615.2 682.7C623.8 693.5 630.3 702.2 637.6 712.3C645.0 722.4 652.5 733.2 659.5 743.3C666.1 752.7 673.7 763.8 678.6 770.8C681.7 775.2 683.7 778.0 686.2 781.6L630.5 779.5C628.3 776.6 626.1 773.8 623.8 770.9C621.4 767.6 619.0 764.6 616.1 760.9C612.4 756.1 607.5 749.8 603.2 744.4C599.0 739.2 594.8 734.1 590.5 729.2C586.3 724.4 582.1 719.6 577.9 715.1C573.7 710.7 569.5 706.5 565.2 702.4C561.0 698.5 556.7 694.7 552.4 691.1C548.2 687.7 544.2 684.6 539.7 681.6C535.1 678.5 529.9 675.4 524.9 672.6C520.1 669.9 514.4 667.0 510.4 665.2C507.6 663.9 505.5 663.2 503.1 662.3C500.9 661.6 498.8 660.9 496.7 660.3C494.5 659.8 492.5 659.3 490.3 659.1C487.9 658.8 485.1 658.5 482.7 658.7C480.6 658.9 478.4 659.2 476.6 660.0C474.8 660.7 473.1 661.8 471.9 663.1C470.6 664.4 470.0 665.6 469.1 667.9C467.4 672.5 465.5 683.1 464.3 690.4C463.2 696.9 462.7 702.6 462.1 709.4C461.5 717.2 461.2 725.6 460.7 734.7C460.2 745.4 459.6 762.4 459.3 769.6C459.2 772.8 459.1 774.2 459.1 776.5Z" fill="#c6c6ff" stroke="none"/>
<path d="M458.8 776.5C458.8 774.2 458.8 772.9 458.8 769.6C458.9 761.6 459.3 741.8 459.6 728.4C460.0 715.4 460.4 702.5 461.0 690.4C461.6 679.3 462.3 667.8 463.0 658.7C463.6 652.0 464.0 646.9 464.7 641.0C465.4 635.0 466.1 628.6 467.2 623.2C468.0 618.7 468.9 614.3 470.3 610.7C471.3 607.9 472.4 605.6 474.0 603.6C475.5 601.7 477.2 600.3 479.2 599.0C481.3 597.6 484.1 596.5 486.6 595.7C489.1 594.9 491.7 594.4 494.2 594.1C496.7 593.8 499.2 593.7 501.7 593.8C504.3 593.9 506.8 594.3 509.3 594.8C511.8 595.3 514.4 596.0 516.9 596.8C519.5 597.7 522.0 598.7 524.6 599.8C527.1 601.0 529.7 602.3 532.2 603.7C534.6 605.1 536.7 606.3 539.4 608.3C543.2 611.0 548.3 615.3 552.6 618.9C556.9 622.6 561.1 626.3 565.2 630.3C569.6 634.5 572.8 637.9 578.0 643.6C586.9 653.2 602.8 671.3 613.1 683.8C621.6 694.2 628.3 703.0 635.7 713.0C643.2 723.1 650.7 733.9 657.8 743.9C664.4 753.4 671.9 764.5 676.8 771.5C679.9 775.9 681.9 778.7 684.4 782.3L630.5 779.5C628.3 776.6 626.1 773.8 623.8 770.9C621.4 767.6 619.0 764.6 616.1 760.9C612.4 756.1 607.5 749.8 603.2 744.4C599.0 739.2 594.8 734.1 590.5 729.2C586.3 724.4 582.1 719.6 577.9 715.1C573.7 710.7 569.5 706.5 565.2 702.4C561.0 698.5 556.7 694.7 552.4 691.1C548.2 687.7 544.2 684.6 539.7 681.6C535.1 678.5 529.9 675.4 524.9 672.6C520.1 669.9 514.4 667.0 510.4 665.2C507.6 663.9 505.5 663.2 503.1 662.3C500.9 661.6 498.8 660.9 496.7 660.3C494.5 659.8 492.5 659.3 490.3 659.1C487.9 658.8 485.1 658.5 482.7 658.7C480.6 658.9 478.4 659.2 476.6 660.0C474.8 660.7 473.1 661.8 471.9 663.1C470.6 664.4 470.0 665.6 469.1 667.9C467.4 672.5 465.5 683.1 464.3 690.4C463.2 696.9 462.7 702.6 462.1 709.4C461.5 717.2 461.2 725.6 460.7 734.7C460.2 745.4 459.6 762.4 459.3 769.6C459.2 772.8 459.1 774.2 459.1 776.5Z" fill="#aaaaff" stroke="none"/>
<path d="M458.9 776.5C459.0 774.2 459.0 772.8 459.1 769.6C459.3 762.4 459.9 745.4 460.3 734.7C460.7 725.6 461.1 717.2 461.6 709.4C462.1 702.6 462.5 697.0 463.4 690.3C464.5 682.8 466.1 672.0 467.8 666.5C468.7 663.3 469.5 661.2 470.9 659.2C472.1 657.5 473.8 656.1 475.5 655.2C477.3 654.3 479.3 653.9 481.4 653.7C483.7 653.6 486.5 654.0 489.0 654.5C491.5 655.1 494.1 656.1 496.6 657.1C499.1 658.2 501.8 659.5 504.2 660.8C506.5 661.9 508.1 662.9 510.7 664.4C514.6 666.5 520.2 669.7 525.0 672.5C529.9 675.5 535.0 678.6 539.7 681.7C544.1 684.8 548.2 687.8 552.4 691.1C556.7 694.6 561.0 698.5 565.2 702.4C569.5 706.5 573.7 710.7 577.9 715.1C582.1 719.6 586.3 724.4 590.5 729.2C594.8 734.1 599.0 739.2 603.2 744.4C607.5 749.8 612.4 756.1 616.1 760.9C619.0 764.6 621.4 767.6 623.8 770.9C626.1 773.8 628.3 776.6 630.5 779.5L630.5 779.5C628.3 776.6 626.1 773.8 623.8 770.9C621.4 767.6 619.0 764.6 616.1 760.9C612.4 756.1 607.5 749.8 603.2 744.4C599.0 739.2 594.8 734.1 590.5 729.2C586.3 724.4 582.1 719.6 577.9 715.1C573.7 710.7 569.5 706.5 565.2 702.4C561.0 698.5 556.7 694.7 552.4 691.1C548.2 687.7 544.2 684.6 539.7 681.6C535.1 678.5 529.9 675.4 524.9 672.6C520.1 669.9 514.4 667.0 510.4 665.2C507.6 663.9 505.5 663.2 503.1 662.3C500.9 661.6 498.8 660.9 496.7 660.3C494.5 659.8 492.5 659.3 490.3 659.1C487.9 658.8 485.1 658.5 482.7 658.7C480.6 658.9 478.4 659.2 476.6 660.0C474.8 660.7 473.1 661.8 471.9 663.1C470.6 664.4 470.0 665.6 469.1 667.9C467.4 672.5 465.5 683.1 464.3 690.4C463.2 696.9 462.7 702.6 462.1 709.4C461.5 717.2 461.2 725.6 460.7 734.7C460.2 745.4 459.6 762.4 459.3 769.6C459.2 772.8 459.1 774.2 459.1 776.5Z" fill="#9c9cff" stroke="none"/>
<path d="M459.1 776.5C459.1 774.2 459.2 772.8 459.3 769.6C459.6 762.4 460.2 745.4 460.7 734.7C461.2 725.6 461.5 717.2 462.1 709.4C462.7 702.6 463.2 696.9 464.3 690.4C465.5 683.1 467.4 672.5 469.1 667.9C470.0 665.6 470.6 664.4 471.9 663.1C473.1 661.8 474.8 660.7 476.6 660.0C478.4 659.2 480.6 658.9 482.7 658.7C485.1 658.5 487.9 658.8 490.3 659.1C492.5 659.3 494.5 659.8 496.7 660.3C498.8 660.9 500.9 661.6 503.1 662.3C505.5 663.2 507.6 663.9 510.4 665.2C514.4 667.0 520.1 669.9 524.9 672.6C529.9 675.4 535.1 678.5 539.7 681.6C544.2 684.6 548.2 687.7 552.4 691.1C556.7 694.7 561.0 698.5 565.2 702.4C569.5 706.5 573.7 710.7 577.9 715.1C582.1 719.6 586.3 724.4 590.5 729.2C594.8 734.1 599.0 739.2 603.2 744.4C607.5 749.8 612.4 756.1 616.1 760.9C619.0 764.6 621.4 767.6 623.8 770.9C626.1 773.8 628.3 776.6 630.5 779.5" stroke="#0000b0" stroke-width="2.3" stroke-dasharray="1.7 3.05" stroke-dashoffset="-1.15"/>
<path d="M459.6 776.5C459.6 774.2 459.6 772.8 459.7 769.6C459.9 762.4 460.6 745.4 461.1 734.7C461.6 725.6 462.1 717.2 462.8 709.4C463.3 702.6 463.9 696.4 464.6 690.4C465.3 685.0 466.1 679.3 466.9 675.1C467.4 672.2 467.8 670.2 468.5 667.7C469.3 664.8 470.4 661.8 471.7 658.8C473.1 655.5 474.8 651.9 476.8 648.8C478.7 645.7 480.9 642.7 483.3 640.2C485.6 637.8 488.1 635.8 490.7 634.1C493.4 632.4 496.4 631.0 499.3 630.0C502.2 628.9 505.2 628.2 508.1 627.7C511.1 627.2 514.0 627.0 517.0 626.9C519.9 626.7 522.9 626.8 525.8 626.9C528.8 627.1 531.9 627.4 534.7 627.8C537.4 628.1 539.8 628.5 542.5 629.1C545.7 629.8 549.1 630.6 552.6 631.7C556.6 633.0 561.0 634.6 565.2 636.4C569.4 638.2 573.6 640.3 577.9 642.5C582.2 644.8 586.5 647.2 590.7 649.8C595.0 652.4 599.0 655.0 603.4 658.1C608.5 661.7 613.7 665.5 619.3 670.2C626.1 675.9 633.8 683.1 640.9 690.1C648.3 697.4 655.6 705.3 662.8 713.2C670.1 721.2 677.2 729.6 684.3 737.8C691.5 746.0 700.4 756.3 705.7 762.4C708.8 766.0 710.7 768.2 713.2 771.0C715.7 773.9 718.2 776.7 720.7 779.6" stroke="#a80000" stroke-width="2.3" stroke-dasharray="1.7 3.05" stroke-dashoffset="-1.15"/>
<path d="M462.5 776.5C462.6 774.2 462.6 772.5 462.8 769.6C463.2 764.3 463.9 754.7 464.6 747.4C465.4 740.2 466.1 732.8 467.1 725.9C468.0 719.3 469.1 712.9 470.4 706.9C471.7 701.2 473.1 695.7 474.7 690.6C476.1 686.1 477.8 681.9 479.4 677.9C480.9 674.3 482.4 671.0 484.1 667.6C485.7 664.2 487.5 660.9 489.4 657.6C491.3 654.2 493.5 650.6 495.6 647.5C497.7 644.5 499.7 641.9 502.0 639.2C504.3 636.4 507.0 633.6 509.6 631.1C512.1 628.8 514.6 626.7 517.1 624.7C519.6 622.9 522.1 621.1 524.7 619.6C527.2 618.2 529.9 617.0 532.5 615.9C534.7 614.8 537.7 613.6 539.1 613.1C539.8 612.9 539.9 613.0 540.6 612.8C542.7 612.2 548.5 609.7 552.6 608.4C556.8 607.0 561.2 605.6 565.5 604.6C569.7 603.5 573.8 602.6 578.0 602.0C582.2 601.4 586.5 601.1 590.7 600.9C594.9 600.7 599.1 600.7 603.4 600.8C607.6 600.9 611.8 601.1 616.0 601.4C620.3 601.7 624.5 602.1 628.7 602.6C632.9 603.2 636.6 603.9 641.4 604.9C647.6 606.1 655.7 608.1 662.8 609.9C670.0 611.7 677.1 613.8 684.2 615.8C691.4 617.8 698.6 620.0 705.7 622.1C712.8 624.3 720.0 626.4 727.1 628.6C734.2 630.9 741.4 633.1 748.5 635.5C755.6 637.8 763.5 640.5 769.9 642.7C775.0 644.5 779.9 646.4 783.9 647.9C786.8 649.0 788.9 649.8 791.4 650.8" stroke="#0a640a" stroke-width="2.3" stroke-dasharray="1.7 3.05" stroke-dashoffset="-1.15"/>
<path d="M458.9 776.5C459.0 774.2 459.0 772.8 459.1 769.6C459.3 762.4 459.9 745.4 460.3 734.7C460.7 725.6 461.1 717.2 461.6 709.4C462.1 702.6 462.5 697.0 463.4 690.3C464.5 682.8 466.1 672.0 467.8 666.5C468.7 663.3 469.5 661.2 470.9 659.2C472.1 657.5 473.8 656.1 475.5 655.2C477.3 654.3 479.3 653.9 481.4 653.7C483.7 653.6 486.5 654.0 489.0 654.5C491.5 655.1 494.1 656.1 496.6 657.1C499.1 658.2 501.8 659.5 504.2 660.8C506.5 661.9 508.1 662.9 510.7 664.4C514.6 666.5 520.2 669.7 525.0 672.5C529.9 675.5 535.0 678.6 539.7 681.7C544.1 684.8 548.2 687.8 552.4 691.1C556.7 694.6 561.0 698.5 565.2 702.4C569.5 706.5 573.7 710.7 577.9 715.1C582.1 719.6 586.3 724.4 590.5 729.2C594.8 734.1 599.0 739.2 603.2 744.4C607.5 749.8 612.4 756.1 616.1 760.9C619.0 764.6 621.4 767.6 623.8 770.9C626.1 773.8 628.3 776.6 630.5 779.5" stroke="#0000b0" stroke-width="2.4" stroke-dasharray="4 5.5"/>
<path d="M459.6 776.5C459.6 774.2 459.6 772.8 459.7 769.6C459.9 762.4 460.6 745.4 461.1 734.7C461.6 725.6 462.1 717.2 462.8 709.4C463.3 702.6 463.9 696.4 464.6 690.4C465.3 685.0 466.1 679.3 466.9 675.1C467.4 672.2 467.8 670.2 468.5 667.7C469.3 664.8 470.4 661.8 471.7 658.8C473.1 655.5 474.8 651.9 476.8 648.8C478.7 645.7 480.9 642.7 483.3 640.2C485.6 637.8 488.1 635.8 490.7 634.1C493.4 632.4 496.4 631.0 499.3 630.0C502.2 628.9 505.2 628.2 508.1 627.7C511.1 627.2 514.0 627.0 517.0 626.9C519.9 626.7 522.9 626.8 525.8 626.9C528.8 627.1 531.9 627.4 534.7 627.8C537.4 628.1 539.8 628.5 542.5 629.1C545.7 629.8 549.1 630.6 552.6 631.7C556.6 633.0 561.0 634.6 565.2 636.4C569.4 638.2 573.6 640.3 577.9 642.5C582.2 644.8 586.5 647.2 590.7 649.8C595.0 652.4 599.0 655.0 603.4 658.1C608.5 661.7 613.7 665.5 619.3 670.2C626.1 675.9 633.8 683.1 640.9 690.1C648.3 697.4 655.6 705.3 662.8 713.2C670.1 721.2 677.2 729.6 684.3 737.8C691.5 746.0 700.4 756.3 705.7 762.4C708.8 766.0 710.7 768.2 713.2 771.0C715.7 773.9 718.2 776.7 720.7 779.6" stroke="#a80000" stroke-width="2.4" stroke-dasharray="4 5.5"/>
<path d="M462.5 776.5C462.6 774.2 462.6 772.5 462.8 769.6C463.2 764.3 463.9 754.7 464.6 747.4C465.4 740.2 466.1 732.8 467.1 725.9C468.0 719.3 469.1 712.9 470.4 706.9C471.7 701.2 473.1 695.7 474.7 690.6C476.1 686.1 477.8 681.9 479.4 677.9C480.9 674.3 482.4 671.0 484.1 667.6C485.7 664.2 487.5 660.9 489.4 657.6C491.3 654.2 493.5 650.6 495.6 647.5C497.7 644.5 499.7 641.9 502.0 639.2C504.3 636.4 507.0 633.6 509.6 631.1C512.1 628.8 514.6 626.7 517.1 624.7C519.6 622.9 522.1 621.1 524.7 619.6C527.2 618.2 529.9 617.0 532.5 615.9C534.7 614.8 537.7 613.6 539.1 613.1C539.8 612.9 539.9 613.0 540.6 612.8C542.7 612.2 548.5 609.7 552.6 608.4C556.8 607.0 561.2 605.6 565.5 604.6C569.7 603.5 573.8 602.6 578.0 602.0C582.2 601.4 586.5 601.1 590.7 600.9C594.9 600.7 599.1 600.7 603.4 600.8C607.6 600.9 611.8 601.1 616.0 601.4C620.3 601.7 624.5 602.1 628.7 602.6C632.9 603.2 636.6 603.9 641.4 604.9C647.6 606.1 655.7 608.1 662.8 609.9C670.0 611.7 677.1 613.8 684.2 615.8C691.4 617.8 698.6 620.0 705.7 622.1C712.8 624.3 720.0 626.4 727.1 628.6C734.2 630.9 741.4 633.1 748.5 635.5C755.6 637.8 763.5 640.5 769.9 642.7C775.0 644.5 779.9 646.4 783.9 647.9C786.8 649.0 788.9 649.8 791.4 650.8" stroke="#0a640a" stroke-width="2.4" stroke-dasharray="4 5.5"/>
<path d="M458.8 776.5C458.8 774.2 458.8 772.9 458.8 769.6C458.9 761.6 459.3 741.8 459.6 728.4C460.0 715.4 460.4 702.5 461.0 690.4C461.6 679.3 462.3 667.8 463.0 658.7C463.6 652.0 464.0 646.9 464.7 641.0C465.4 635.0 466.1 628.6 467.2 623.2C468.0 618.7 468.9 614.3 470.3 610.7C471.3 607.9 472.4 605.6 474.0 603.6C475.5 601.7 477.2 600.3 479.2 599.0C481.3 597.6 484.1 596.5 486.6 595.7C489.1 594.9 491.7 594.4 494.2 594.1C496.7 593.8 499.2 593.7 501.7 593.8C504.3 593.9 506.8 594.3 509.3 594.8C511.8 595.3 514.4 596.0 516.9 596.8C519.5 597.7 522.0 598.7 524.6 599.8C527.1 601.0 529.7 602.3 532.2 603.7C534.6 605.1 536.7 606.3 539.4 608.3C543.2 611.0 548.3 615.3 552.6 618.9C556.9 622.6 561.1 626.3 565.2 630.3C569.6 634.5 572.8 637.9 578.0 643.6C586.9 653.2 602.8 671.3 613.1 683.8C621.6 694.2 628.3 703.0 635.7 713.0C643.2 723.1 650.7 733.9 657.8 743.9C664.4 753.4 671.9 764.5 676.8 771.5C679.9 775.9 681.9 778.7 684.4 782.3" stroke="#0000b0" stroke-width="2.5" stroke-dasharray="7.8 3.7"/>
<path d="M459.4 776.5C459.5 774.2 459.5 772.9 459.5 769.6C459.7 761.6 460.4 741.8 460.9 728.4C461.5 715.5 462.1 702.2 462.9 690.4C463.6 680.0 464.4 669.8 465.3 661.3C466.1 654.6 466.8 649.2 467.8 643.5C468.7 638.3 469.8 633.0 471.1 628.4C472.2 624.3 473.4 620.5 474.9 617.0C476.3 613.9 477.7 611.0 479.6 608.4C481.3 605.9 483.5 603.4 485.6 601.5C487.6 599.7 489.6 598.3 491.8 597.0C494.1 595.7 496.8 594.6 499.3 593.7C501.8 592.8 504.3 592.1 506.9 591.6C509.4 591.0 511.9 590.7 514.5 590.5C517.0 590.2 519.5 590.1 522.0 590.2C524.6 590.2 527.1 590.5 529.6 590.8C532.2 591.1 535.3 591.5 537.2 591.9C538.4 592.2 538.8 592.3 540.1 592.7C542.8 593.5 548.4 595.5 552.5 597.1C556.7 598.8 561.0 600.6 565.2 602.6C569.5 604.7 573.7 607.1 577.9 609.5C582.2 611.9 586.4 614.4 590.7 616.9C595.0 619.6 599.4 622.3 603.8 625.1C608.3 628.0 612.6 630.5 617.6 634.2C624.2 639.0 632.2 645.5 639.3 651.7C646.7 658.0 654.0 664.7 661.2 671.6C668.5 678.5 675.5 685.8 682.7 692.9C689.9 700.1 697.1 707.2 704.3 714.2C711.4 721.1 718.5 727.9 725.7 734.6C732.7 741.2 740.0 747.7 746.9 754.1C753.5 760.1 760.7 766.6 766.2 771.6C770.3 775.4 773.3 778.2 776.9 781.4" stroke="#a80000" stroke-width="2.5" stroke-dasharray="7.8 3.7"/>
<path d="M461.7 778.0C461.8 775.7 461.8 774.0 461.9 771.1C462.2 765.8 462.8 756.2 463.4 748.9C463.9 741.7 464.5 734.4 465.3 727.4C466.1 720.5 466.9 713.6 467.9 707.1C468.7 701.0 469.8 694.4 470.8 689.3C471.5 685.6 472.1 682.8 472.9 679.5C473.8 676.1 474.9 672.7 476.1 669.2C477.4 665.4 478.9 661.6 480.6 657.8C482.3 654.0 484.2 650.1 486.3 646.4C488.2 642.9 490.3 639.6 492.5 636.3C494.9 632.9 497.6 629.3 500.2 626.2C502.6 623.3 505.2 620.5 507.8 618.0C510.2 615.7 512.7 613.6 515.3 611.6C517.8 609.8 520.2 607.9 522.9 606.5C525.4 605.1 528.0 604.1 530.6 603.1C533.0 602.1 535.9 601.2 537.8 600.7C539.0 600.4 539.4 600.4 540.7 600.1C543.5 599.4 549.2 597.3 553.5 596.1C557.7 594.9 561.9 593.8 566.2 592.9C570.3 592.1 574.5 591.3 578.7 590.8C582.9 590.3 587.2 590.2 591.4 590.2C595.6 590.1 599.9 590.1 604.1 590.3C608.3 590.5 612.5 590.9 616.7 591.4C620.9 591.9 625.0 592.4 629.2 593.2C633.5 594.1 637.4 595.1 642.3 596.2C648.5 597.7 656.4 599.5 663.5 601.2C670.7 602.8 677.8 604.6 684.9 606.3C692.1 608.0 699.2 609.7 706.4 611.5C713.5 613.4 720.7 615.3 727.8 617.3C735.0 619.2 742.1 621.2 749.3 623.1C756.4 625.1 764.3 627.2 770.7 628.9C775.8 630.3 780.6 631.6 784.6 632.7C787.4 633.5 789.6 634.1 792.1 634.8" stroke="#0a640a" stroke-width="2.5" stroke-dasharray="7.8 3.7"/>
<path d="M458.5 776.5C458.6 774.2 458.5 772.9 458.6 769.6C458.7 761.6 458.9 741.8 459.2 728.4C459.5 715.4 459.8 702.5 460.3 690.4C460.7 679.3 461.3 667.8 461.9 658.7C462.3 652.0 462.7 646.9 463.3 641.0C463.8 635.1 464.5 628.1 465.2 623.3C465.7 619.8 466.1 617.2 466.6 614.4C467.2 611.7 467.8 609.0 468.5 606.8C469.2 604.9 469.8 603.3 470.6 601.8C471.4 600.5 472.1 599.5 473.2 598.4C474.3 597.3 475.7 596.3 477.2 595.3C478.8 594.3 480.9 593.3 482.8 592.5C484.8 591.7 486.9 591.0 489.2 590.5C491.5 590.0 494.2 589.5 496.7 589.3C499.2 589.1 501.8 589.1 504.3 589.3C506.8 589.5 509.3 590.0 511.8 590.6C514.4 591.2 516.8 592.2 519.3 593.2C521.9 594.2 524.5 595.4 527.1 596.6C529.7 597.9 532.6 599.4 534.9 600.7C536.7 601.7 537.8 602.2 539.7 603.5C543.0 605.7 548.1 609.5 552.3 612.9C556.6 616.5 561.2 620.4 565.4 624.5C569.6 628.6 572.6 631.8 577.7 637.5C586.9 648.0 604.5 669.2 615.2 682.7C623.8 693.5 630.3 702.2 637.6 712.3C645.0 722.4 652.5 733.2 659.5 743.3C666.1 752.7 673.7 763.8 678.6 770.8C681.7 775.2 683.7 778.0 686.2 781.6" stroke="#0000b0" stroke-width="3.4"/>
<path d="M459.2 776.5C459.2 774.2 459.2 772.9 459.3 769.6C459.4 761.6 459.9 741.8 460.4 728.4C460.9 715.4 461.4 702.2 462.1 690.4C462.6 680.0 463.3 669.4 464.0 661.3C464.6 655.4 465.0 651.1 465.8 646.1C466.5 641.0 467.4 635.6 468.5 630.9C469.5 626.8 470.4 623.2 471.8 619.6C473.1 616.1 474.6 612.6 476.3 609.6C478.0 606.8 479.8 604.3 481.8 602.0C483.7 599.9 485.8 598.0 488.1 596.4C490.4 594.6 493.0 593.1 495.6 591.9C498.0 590.7 500.6 589.8 503.1 589.0C505.6 588.3 508.0 587.8 510.7 587.4C513.5 587.0 516.6 586.8 519.5 586.8C522.5 586.7 525.4 586.9 528.3 587.2C531.3 587.4 535.1 588.0 537.2 588.4C538.4 588.6 538.8 588.7 540.0 589.0C542.7 589.8 548.4 591.6 552.6 593.1C556.8 594.7 561.0 596.3 565.2 598.2C569.5 600.1 573.7 602.2 577.9 604.5C582.1 606.8 586.4 609.3 590.6 612.0C594.9 614.7 599.0 617.4 603.5 620.6C608.6 624.1 613.9 627.9 619.6 632.4C626.3 637.6 634.0 644.1 641.1 650.4C648.3 656.8 655.6 663.6 662.7 670.4C670.0 677.4 677.1 684.7 684.3 691.7C691.5 698.8 698.7 706.0 705.9 713.0C713.0 719.9 720.1 726.7 727.3 733.4C734.3 740.0 741.6 746.5 748.5 752.9C755.1 758.9 762.3 765.4 767.8 770.4C771.9 774.2 774.9 777.0 778.5 780.2" stroke="#a80000" stroke-width="3.4"/>
<path d="M461.0 776.5C461.1 774.2 461.1 772.5 461.2 769.6C461.5 764.3 462.1 754.7 462.7 747.4C463.2 740.2 463.8 732.9 464.6 725.9C465.4 719.0 466.2 712.1 467.2 705.6C468.0 699.5 469.1 692.9 470.1 687.8C470.8 684.1 471.4 681.3 472.2 678.0C473.1 674.6 474.2 671.2 475.4 667.7C476.7 663.9 478.2 660.1 479.9 656.3C481.6 652.5 483.5 648.6 485.6 644.9C487.5 641.4 489.6 638.1 491.8 634.8C494.2 631.4 496.9 627.8 499.5 624.7C501.9 621.8 504.5 619.0 507.1 616.5C509.5 614.2 512.0 612.1 514.6 610.1C517.1 608.3 519.5 606.4 522.2 605.0C524.7 603.6 527.3 602.6 529.9 601.6C532.3 600.6 535.2 599.7 537.1 599.2C538.3 598.9 538.7 598.9 540.0 598.6C542.8 597.9 548.5 595.8 552.8 594.6C557.0 593.4 561.2 592.3 565.5 591.4C569.6 590.6 573.8 589.8 578.0 589.3C582.2 588.8 586.5 588.7 590.7 588.7C594.9 588.6 599.2 588.6 603.4 588.8C607.6 589.0 611.8 589.4 616.0 589.9C620.2 590.4 624.3 590.9 628.5 591.7C632.8 592.6 636.7 593.6 641.6 594.7C647.8 596.2 655.7 598.0 662.8 599.7C670.0 601.3 677.1 603.1 684.2 604.8C691.4 606.5 698.5 608.2 705.7 610.0C712.8 611.9 720.0 613.8 727.1 615.8C734.3 617.7 741.4 619.7 748.6 621.6C755.7 623.6 763.6 625.7 770.0 627.4C775.1 628.8 779.9 630.1 783.9 631.2C786.7 632.0 788.9 632.6 791.4 633.3" stroke="#0a640a" stroke-width="3.4"/>
</g>
<g stroke="#000" stroke-width="2" fill="none" stroke-linecap="butt">
<rect x="108.8" y="2.3" width="676.3000000000001" height="768.5"/>
<path d="M447.1 2.3V770.8M108.8 241.1H785.1M108.8 531.9H785.1"/>
</g>
<g class="tx" font-size="27" fill="#000">
<text x="38.6" y="226.2">10<tspan font-size="21.6" dy="-13.9">39</tspan></text>
<text x="38.6" y="135.9">10<tspan font-size="21.6" dy="-13.9">40</tspan></text>
<text x="38.6" y="45.5">10<tspan font-size="21.6" dy="-13.9">41</tspan></text>
<text x="38.6" y="511.1">10<tspan font-size="21.6" dy="-13.9">39</tspan></text>
<text x="38.6" y="401.1">10<tspan font-size="21.6" dy="-13.9">40</tspan></text>
<text x="38.6" y="291.1">10<tspan font-size="21.6" dy="-13.9">41</tspan></text>
<text x="38.6" y="755.9">10<tspan font-size="21.6" dy="-13.9">39</tspan></text>
<text x="38.6" y="665.5">10<tspan font-size="21.6" dy="-13.9">40</tspan></text>
<text x="38.6" y="575.1">10<tspan font-size="21.6" dy="-13.9">41</tspan></text>
<text x="120.5" y="807" text-anchor="middle">0</text>
<text x="237.0" y="807" text-anchor="middle">5</text>
<text x="353.6" y="807" text-anchor="middle">10</text>
<text x="458.8" y="807" text-anchor="middle">0</text>
<text x="575.3" y="807" text-anchor="middle">5</text>
<text x="691.9" y="807" text-anchor="middle">10</text>
<text x="455.2" y="846.8" text-anchor="middle">time [d]</text>
<text transform="translate(21,452.5) rotate(-90)">νL<tspan font-size="21.6" dy="8">ν</tspan><tspan dy="-8"> [erg/s]</tspan></text>
<text x="261.3" y="37.9" text-anchor="middle">t =90 ms</text>
<text x="616.1" y="37.9" text-anchor="middle">t =90 ms</text>
<text x="277.9" y="276.7" text-anchor="middle">t =140 ms</text>
<text x="616.1" y="276.7" text-anchor="middle">t =140 ms</text>
<text x="277.9" y="567.5" text-anchor="middle">t =190 ms</text>
<text x="616.1" y="567.5" text-anchor="middle">t =190 ms</text>
<text x="376.5" y="36" text-anchor="end">UB</text>
<path d="M393.2 27.4H414.8" stroke="#0000b0" stroke-width="3"/>
<text x="376.5" y="63" text-anchor="end">VR</text>
<path d="M393.2 54.5H414.8" stroke="#a80000" stroke-width="3"/>
<text x="376.5" y="90" text-anchor="end">JHK</text>
<path d="M393.2 81.6H414.8" stroke="#0a640a" stroke-width="3"/>
</g>
</svg>
</body></html>
